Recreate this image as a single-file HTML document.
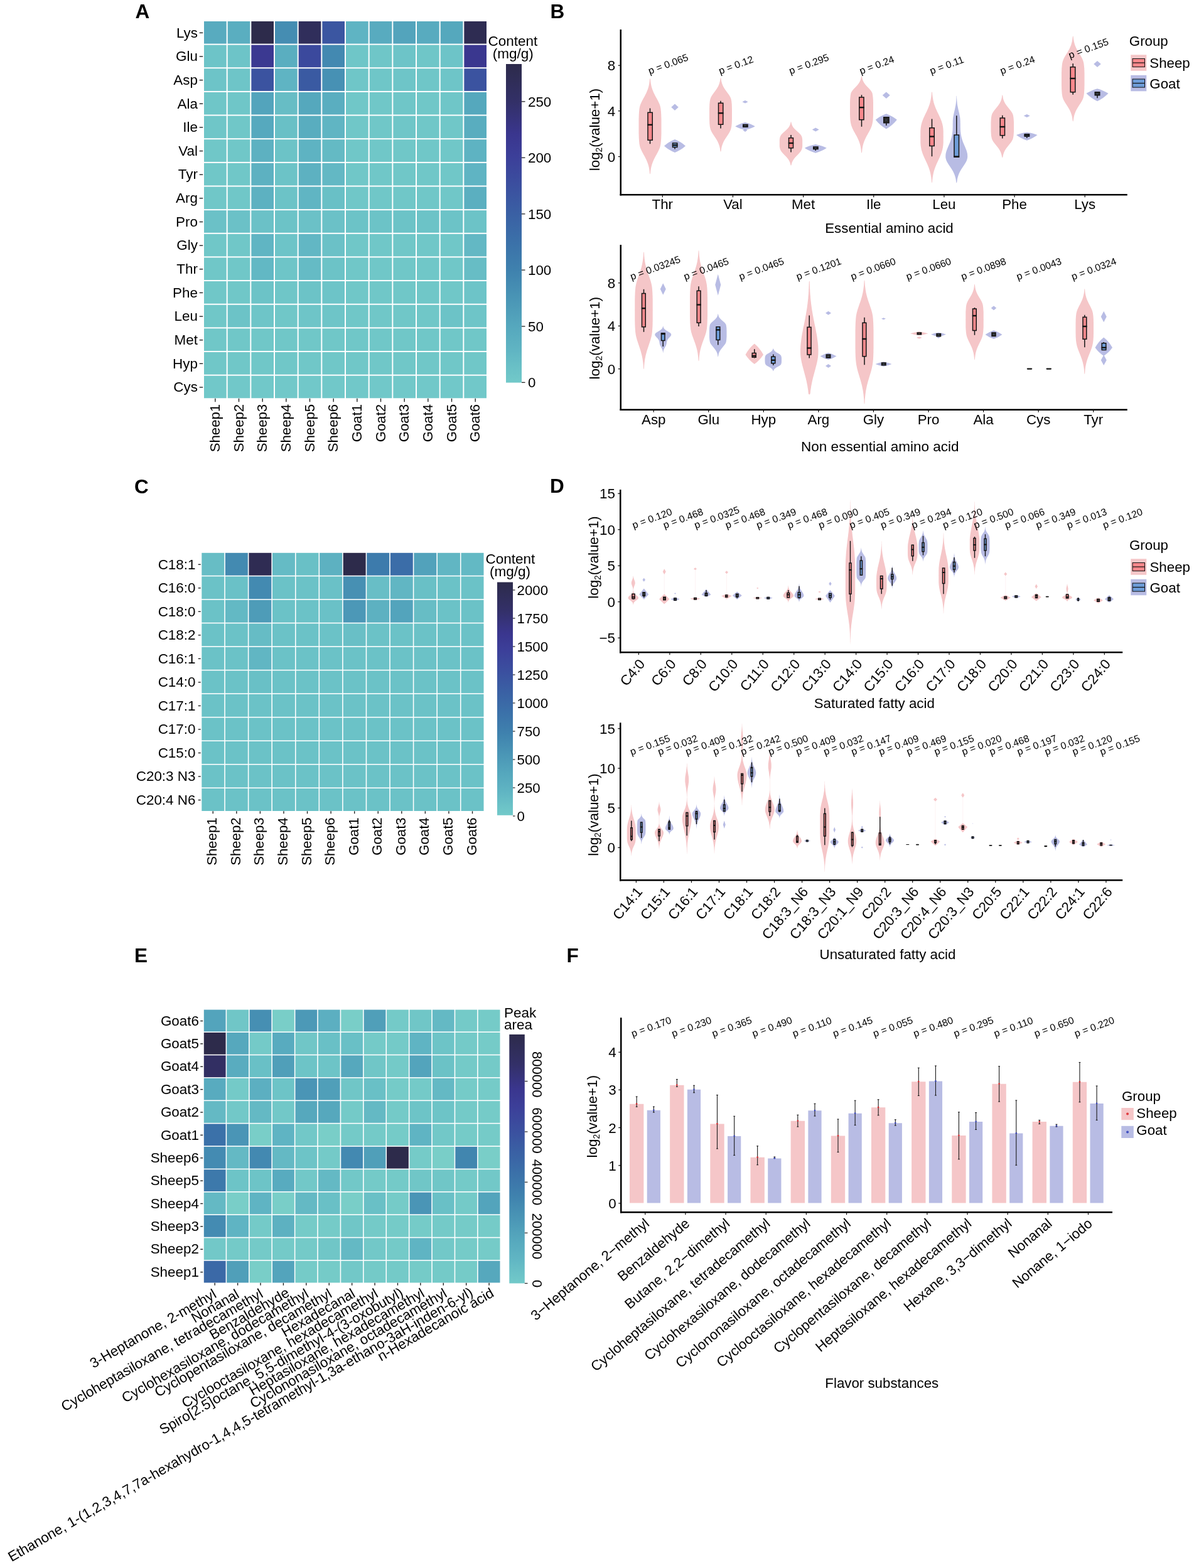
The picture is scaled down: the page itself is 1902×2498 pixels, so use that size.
<!DOCTYPE html>
<html lang="en"><head><meta charset="utf-8"><title>Figure</title>
<style>html,body{margin:0;padding:0;background:#fff;}body{width:1902px;height:2498px;overflow:hidden;}svg{display:block;}</style>
</head><body>
<svg width="1902" height="2498" viewBox="0 0 1902 2498" font-family='"Liberation Sans", sans-serif'>
<defs><linearGradient id="cm" x1="0" y1="1" x2="0" y2="0"><stop offset="0.000" stop-color="#72C9C9"/><stop offset="0.040" stop-color="#6BC2C7"/><stop offset="0.100" stop-color="#60B5C3"/><stop offset="0.180" stop-color="#55A7BD"/><stop offset="0.270" stop-color="#4994B5"/><stop offset="0.350" stop-color="#3F82AE"/><stop offset="0.440" stop-color="#3B71A9"/><stop offset="0.530" stop-color="#3A60A4"/><stop offset="0.620" stop-color="#3B4F9F"/><stop offset="0.710" stop-color="#3C3F99"/><stop offset="0.780" stop-color="#3A368E"/><stop offset="0.880" stop-color="#333068"/><stop offset="1.000" stop-color="#2D2B4B"/></linearGradient></defs>
<rect x="0" y="0" width="1902" height="2498" fill="#fff"/>
<text x="215.50" y="28.50" font-size="31.5" font-weight="bold" fill="#000">A</text>
<text x="876.50" y="28.50" font-size="31.5" font-weight="bold" fill="#000">B</text>
<text x="214.00" y="786.30" font-size="31.5" font-weight="bold" fill="#000">C</text>
<text x="876.00" y="785.30" font-size="31.5" font-weight="bold" fill="#000">D</text>
<text x="214.00" y="1532.50" font-size="31.5" font-weight="bold" fill="#000">E</text>
<text x="902.50" y="1532.50" font-size="31.5" font-weight="bold" fill="#000">F</text>
<rect x="325.00" y="34.00" width="35.67" height="35.64" fill="#58ABBF"/>
<rect x="362.67" y="34.00" width="35.67" height="35.64" fill="#5AAEC0"/>
<rect x="400.33" y="34.00" width="35.67" height="35.64" fill="#2D2B4B"/>
<rect x="438.00" y="34.00" width="35.67" height="35.64" fill="#458DB2"/>
<rect x="475.67" y="34.00" width="35.67" height="35.64" fill="#302E5B"/>
<rect x="513.33" y="34.00" width="35.67" height="35.64" fill="#3B56A1"/>
<rect x="551.00" y="34.00" width="35.67" height="35.64" fill="#5FB4C3"/>
<rect x="588.67" y="34.00" width="35.67" height="35.64" fill="#58ABBF"/>
<rect x="626.33" y="34.00" width="35.67" height="35.64" fill="#53A4BC"/>
<rect x="664.00" y="34.00" width="35.67" height="35.64" fill="#58ABBF"/>
<rect x="701.67" y="34.00" width="35.67" height="35.64" fill="#55A8BD"/>
<rect x="739.33" y="34.00" width="35.67" height="35.64" fill="#2E2C52"/>
<rect x="325.00" y="71.64" width="35.67" height="35.64" fill="#6DC4C8"/>
<rect x="362.67" y="71.64" width="35.67" height="35.64" fill="#6DC4C8"/>
<rect x="400.33" y="71.64" width="35.67" height="35.64" fill="#3B3991"/>
<rect x="438.00" y="71.64" width="35.67" height="35.64" fill="#5AAEC0"/>
<rect x="475.67" y="71.64" width="35.67" height="35.64" fill="#3B499D"/>
<rect x="513.33" y="71.64" width="35.67" height="35.64" fill="#4389B1"/>
<rect x="551.00" y="71.64" width="35.67" height="35.64" fill="#6FC6C8"/>
<rect x="588.67" y="71.64" width="35.67" height="35.64" fill="#6FC6C8"/>
<rect x="626.33" y="71.64" width="35.67" height="35.64" fill="#6DC4C8"/>
<rect x="664.00" y="71.64" width="35.67" height="35.64" fill="#6FC6C8"/>
<rect x="701.67" y="71.64" width="35.67" height="35.64" fill="#6DC4C8"/>
<rect x="739.33" y="71.64" width="35.67" height="35.64" fill="#3A378F"/>
<rect x="325.00" y="109.29" width="35.67" height="35.64" fill="#6DC4C8"/>
<rect x="362.67" y="109.29" width="35.67" height="35.64" fill="#6EC5C8"/>
<rect x="400.33" y="109.29" width="35.67" height="35.64" fill="#3B53A0"/>
<rect x="438.00" y="109.29" width="35.67" height="35.64" fill="#5FB4C3"/>
<rect x="475.67" y="109.29" width="35.67" height="35.64" fill="#3A5AA2"/>
<rect x="513.33" y="109.29" width="35.67" height="35.64" fill="#4791B4"/>
<rect x="551.00" y="109.29" width="35.67" height="35.64" fill="#6FC6C8"/>
<rect x="588.67" y="109.29" width="35.67" height="35.64" fill="#6FC6C8"/>
<rect x="626.33" y="109.29" width="35.67" height="35.64" fill="#6EC5C8"/>
<rect x="664.00" y="109.29" width="35.67" height="35.64" fill="#6FC6C8"/>
<rect x="701.67" y="109.29" width="35.67" height="35.64" fill="#6EC5C8"/>
<rect x="739.33" y="109.29" width="35.67" height="35.64" fill="#3B53A0"/>
<rect x="325.00" y="146.93" width="35.67" height="35.64" fill="#6FC6C8"/>
<rect x="362.67" y="146.93" width="35.67" height="35.64" fill="#6FC6C8"/>
<rect x="400.33" y="146.93" width="35.67" height="35.64" fill="#53A4BC"/>
<rect x="438.00" y="146.93" width="35.67" height="35.64" fill="#67BDC5"/>
<rect x="475.67" y="146.93" width="35.67" height="35.64" fill="#55A8BD"/>
<rect x="513.33" y="146.93" width="35.67" height="35.64" fill="#5AAEC0"/>
<rect x="551.00" y="146.93" width="35.67" height="35.64" fill="#70C7C8"/>
<rect x="588.67" y="146.93" width="35.67" height="35.64" fill="#70C7C8"/>
<rect x="626.33" y="146.93" width="35.67" height="35.64" fill="#6FC6C8"/>
<rect x="664.00" y="146.93" width="35.67" height="35.64" fill="#70C7C8"/>
<rect x="701.67" y="146.93" width="35.67" height="35.64" fill="#6FC6C8"/>
<rect x="739.33" y="146.93" width="35.67" height="35.64" fill="#55A8BD"/>
<rect x="325.00" y="184.57" width="35.67" height="35.64" fill="#6FC6C8"/>
<rect x="362.67" y="184.57" width="35.67" height="35.64" fill="#70C7C8"/>
<rect x="400.33" y="184.57" width="35.67" height="35.64" fill="#56A9BE"/>
<rect x="438.00" y="184.57" width="35.67" height="35.64" fill="#69C0C6"/>
<rect x="475.67" y="184.57" width="35.67" height="35.64" fill="#59ADBF"/>
<rect x="513.33" y="184.57" width="35.67" height="35.64" fill="#60B5C3"/>
<rect x="551.00" y="184.57" width="35.67" height="35.64" fill="#70C7C8"/>
<rect x="588.67" y="184.57" width="35.67" height="35.64" fill="#70C7C8"/>
<rect x="626.33" y="184.57" width="35.67" height="35.64" fill="#6FC6C8"/>
<rect x="664.00" y="184.57" width="35.67" height="35.64" fill="#70C7C8"/>
<rect x="701.67" y="184.57" width="35.67" height="35.64" fill="#70C7C8"/>
<rect x="739.33" y="184.57" width="35.67" height="35.64" fill="#59ADBF"/>
<rect x="325.00" y="222.22" width="35.67" height="35.64" fill="#70C7C8"/>
<rect x="362.67" y="222.22" width="35.67" height="35.64" fill="#70C7C8"/>
<rect x="400.33" y="222.22" width="35.67" height="35.64" fill="#5DB1C1"/>
<rect x="438.00" y="222.22" width="35.67" height="35.64" fill="#6CC3C7"/>
<rect x="475.67" y="222.22" width="35.67" height="35.64" fill="#5EB3C2"/>
<rect x="513.33" y="222.22" width="35.67" height="35.64" fill="#64BAC4"/>
<rect x="551.00" y="222.22" width="35.67" height="35.64" fill="#70C7C8"/>
<rect x="588.67" y="222.22" width="35.67" height="35.64" fill="#70C7C8"/>
<rect x="626.33" y="222.22" width="35.67" height="35.64" fill="#70C7C8"/>
<rect x="664.00" y="222.22" width="35.67" height="35.64" fill="#70C7C8"/>
<rect x="701.67" y="222.22" width="35.67" height="35.64" fill="#70C7C8"/>
<rect x="739.33" y="222.22" width="35.67" height="35.64" fill="#5EB3C2"/>
<rect x="325.00" y="259.86" width="35.67" height="35.64" fill="#70C7C8"/>
<rect x="362.67" y="259.86" width="35.67" height="35.64" fill="#70C7C8"/>
<rect x="400.33" y="259.86" width="35.67" height="35.64" fill="#5DB1C1"/>
<rect x="438.00" y="259.86" width="35.67" height="35.64" fill="#6CC3C7"/>
<rect x="475.67" y="259.86" width="35.67" height="35.64" fill="#5DB1C1"/>
<rect x="513.33" y="259.86" width="35.67" height="35.64" fill="#63B8C4"/>
<rect x="551.00" y="259.86" width="35.67" height="35.64" fill="#70C7C8"/>
<rect x="588.67" y="259.86" width="35.67" height="35.64" fill="#70C7C8"/>
<rect x="626.33" y="259.86" width="35.67" height="35.64" fill="#70C7C8"/>
<rect x="664.00" y="259.86" width="35.67" height="35.64" fill="#70C7C8"/>
<rect x="701.67" y="259.86" width="35.67" height="35.64" fill="#70C7C8"/>
<rect x="739.33" y="259.86" width="35.67" height="35.64" fill="#5FB4C3"/>
<rect x="325.00" y="297.51" width="35.67" height="35.64" fill="#70C7C8"/>
<rect x="362.67" y="297.51" width="35.67" height="35.64" fill="#70C7C8"/>
<rect x="400.33" y="297.51" width="35.67" height="35.64" fill="#5DB1C1"/>
<rect x="438.00" y="297.51" width="35.67" height="35.64" fill="#6CC3C7"/>
<rect x="475.67" y="297.51" width="35.67" height="35.64" fill="#60B5C3"/>
<rect x="513.33" y="297.51" width="35.67" height="35.64" fill="#69C0C6"/>
<rect x="551.00" y="297.51" width="35.67" height="35.64" fill="#70C7C8"/>
<rect x="588.67" y="297.51" width="35.67" height="35.64" fill="#70C7C8"/>
<rect x="626.33" y="297.51" width="35.67" height="35.64" fill="#70C7C8"/>
<rect x="664.00" y="297.51" width="35.67" height="35.64" fill="#70C7C8"/>
<rect x="701.67" y="297.51" width="35.67" height="35.64" fill="#70C7C8"/>
<rect x="739.33" y="297.51" width="35.67" height="35.64" fill="#5BAFC0"/>
<rect x="325.00" y="335.15" width="35.67" height="35.64" fill="#6BC1C7"/>
<rect x="362.67" y="335.15" width="35.67" height="35.64" fill="#6BC1C7"/>
<rect x="400.33" y="335.15" width="35.67" height="35.64" fill="#6BC1C7"/>
<rect x="438.00" y="335.15" width="35.67" height="35.64" fill="#6CC3C7"/>
<rect x="475.67" y="335.15" width="35.67" height="35.64" fill="#6BC1C7"/>
<rect x="513.33" y="335.15" width="35.67" height="35.64" fill="#6BC1C7"/>
<rect x="551.00" y="335.15" width="35.67" height="35.64" fill="#6CC3C7"/>
<rect x="588.67" y="335.15" width="35.67" height="35.64" fill="#6CC3C7"/>
<rect x="626.33" y="335.15" width="35.67" height="35.64" fill="#6CC3C7"/>
<rect x="664.00" y="335.15" width="35.67" height="35.64" fill="#6CC3C7"/>
<rect x="701.67" y="335.15" width="35.67" height="35.64" fill="#6CC3C7"/>
<rect x="739.33" y="335.15" width="35.67" height="35.64" fill="#6CC3C7"/>
<rect x="325.00" y="372.79" width="35.67" height="35.64" fill="#70C7C8"/>
<rect x="362.67" y="372.79" width="35.67" height="35.64" fill="#70C7C8"/>
<rect x="400.33" y="372.79" width="35.67" height="35.64" fill="#60B5C3"/>
<rect x="438.00" y="372.79" width="35.67" height="35.64" fill="#6DC4C8"/>
<rect x="475.67" y="372.79" width="35.67" height="35.64" fill="#62B7C4"/>
<rect x="513.33" y="372.79" width="35.67" height="35.64" fill="#6BC1C7"/>
<rect x="551.00" y="372.79" width="35.67" height="35.64" fill="#70C7C8"/>
<rect x="588.67" y="372.79" width="35.67" height="35.64" fill="#70C7C8"/>
<rect x="626.33" y="372.79" width="35.67" height="35.64" fill="#70C7C8"/>
<rect x="664.00" y="372.79" width="35.67" height="35.64" fill="#70C7C8"/>
<rect x="701.67" y="372.79" width="35.67" height="35.64" fill="#70C7C8"/>
<rect x="739.33" y="372.79" width="35.67" height="35.64" fill="#63B8C4"/>
<rect x="325.00" y="410.44" width="35.67" height="35.64" fill="#70C7C8"/>
<rect x="362.67" y="410.44" width="35.67" height="35.64" fill="#70C7C8"/>
<rect x="400.33" y="410.44" width="35.67" height="35.64" fill="#62B8C4"/>
<rect x="438.00" y="410.44" width="35.67" height="35.64" fill="#6EC5C8"/>
<rect x="475.67" y="410.44" width="35.67" height="35.64" fill="#65BBC5"/>
<rect x="513.33" y="410.44" width="35.67" height="35.64" fill="#6CC3C7"/>
<rect x="551.00" y="410.44" width="35.67" height="35.64" fill="#70C7C8"/>
<rect x="588.67" y="410.44" width="35.67" height="35.64" fill="#70C7C8"/>
<rect x="626.33" y="410.44" width="35.67" height="35.64" fill="#70C7C8"/>
<rect x="664.00" y="410.44" width="35.67" height="35.64" fill="#70C7C8"/>
<rect x="701.67" y="410.44" width="35.67" height="35.64" fill="#70C7C8"/>
<rect x="739.33" y="410.44" width="35.67" height="35.64" fill="#67BDC5"/>
<rect x="325.00" y="448.08" width="35.67" height="35.64" fill="#70C7C8"/>
<rect x="362.67" y="448.08" width="35.67" height="35.64" fill="#70C7C8"/>
<rect x="400.33" y="448.08" width="35.67" height="35.64" fill="#6CC3C7"/>
<rect x="438.00" y="448.08" width="35.67" height="35.64" fill="#6FC6C8"/>
<rect x="475.67" y="448.08" width="35.67" height="35.64" fill="#6CC3C7"/>
<rect x="513.33" y="448.08" width="35.67" height="35.64" fill="#6DC4C8"/>
<rect x="551.00" y="448.08" width="35.67" height="35.64" fill="#70C7C8"/>
<rect x="588.67" y="448.08" width="35.67" height="35.64" fill="#70C7C8"/>
<rect x="626.33" y="448.08" width="35.67" height="35.64" fill="#70C7C8"/>
<rect x="664.00" y="448.08" width="35.67" height="35.64" fill="#70C7C8"/>
<rect x="701.67" y="448.08" width="35.67" height="35.64" fill="#70C7C8"/>
<rect x="739.33" y="448.08" width="35.67" height="35.64" fill="#6DC4C8"/>
<rect x="325.00" y="485.72" width="35.67" height="35.64" fill="#70C7C8"/>
<rect x="362.67" y="485.72" width="35.67" height="35.64" fill="#6CC3C7"/>
<rect x="400.33" y="485.72" width="35.67" height="35.64" fill="#6EC5C8"/>
<rect x="438.00" y="485.72" width="35.67" height="35.64" fill="#70C7C8"/>
<rect x="475.67" y="485.72" width="35.67" height="35.64" fill="#6EC5C8"/>
<rect x="513.33" y="485.72" width="35.67" height="35.64" fill="#6EC5C8"/>
<rect x="551.00" y="485.72" width="35.67" height="35.64" fill="#70C7C8"/>
<rect x="588.67" y="485.72" width="35.67" height="35.64" fill="#70C7C8"/>
<rect x="626.33" y="485.72" width="35.67" height="35.64" fill="#70C7C8"/>
<rect x="664.00" y="485.72" width="35.67" height="35.64" fill="#70C7C8"/>
<rect x="701.67" y="485.72" width="35.67" height="35.64" fill="#6CC3C7"/>
<rect x="739.33" y="485.72" width="35.67" height="35.64" fill="#6EC5C8"/>
<rect x="325.00" y="523.37" width="35.67" height="35.64" fill="#70C7C8"/>
<rect x="362.67" y="523.37" width="35.67" height="35.64" fill="#70C7C8"/>
<rect x="400.33" y="523.37" width="35.67" height="35.64" fill="#70C7C8"/>
<rect x="438.00" y="523.37" width="35.67" height="35.64" fill="#70C7C8"/>
<rect x="475.67" y="523.37" width="35.67" height="35.64" fill="#70C7C8"/>
<rect x="513.33" y="523.37" width="35.67" height="35.64" fill="#70C7C8"/>
<rect x="551.00" y="523.37" width="35.67" height="35.64" fill="#70C7C8"/>
<rect x="588.67" y="523.37" width="35.67" height="35.64" fill="#70C7C8"/>
<rect x="626.33" y="523.37" width="35.67" height="35.64" fill="#70C7C8"/>
<rect x="664.00" y="523.37" width="35.67" height="35.64" fill="#70C7C8"/>
<rect x="701.67" y="523.37" width="35.67" height="35.64" fill="#70C7C8"/>
<rect x="739.33" y="523.37" width="35.67" height="35.64" fill="#70C7C8"/>
<rect x="325.00" y="561.01" width="35.67" height="35.64" fill="#70C7C8"/>
<rect x="362.67" y="561.01" width="35.67" height="35.64" fill="#70C7C8"/>
<rect x="400.33" y="561.01" width="35.67" height="35.64" fill="#70C7C8"/>
<rect x="438.00" y="561.01" width="35.67" height="35.64" fill="#70C7C8"/>
<rect x="475.67" y="561.01" width="35.67" height="35.64" fill="#70C7C8"/>
<rect x="513.33" y="561.01" width="35.67" height="35.64" fill="#70C7C8"/>
<rect x="551.00" y="561.01" width="35.67" height="35.64" fill="#70C7C8"/>
<rect x="588.67" y="561.01" width="35.67" height="35.64" fill="#70C7C8"/>
<rect x="626.33" y="561.01" width="35.67" height="35.64" fill="#70C7C8"/>
<rect x="664.00" y="561.01" width="35.67" height="35.64" fill="#70C7C8"/>
<rect x="701.67" y="561.01" width="35.67" height="35.64" fill="#70C7C8"/>
<rect x="739.33" y="561.01" width="35.67" height="35.64" fill="#70C7C8"/>
<rect x="325.00" y="598.66" width="35.67" height="35.64" fill="#71C8C9"/>
<rect x="362.67" y="598.66" width="35.67" height="35.64" fill="#71C8C9"/>
<rect x="400.33" y="598.66" width="35.67" height="35.64" fill="#71C8C9"/>
<rect x="438.00" y="598.66" width="35.67" height="35.64" fill="#71C8C9"/>
<rect x="475.67" y="598.66" width="35.67" height="35.64" fill="#71C8C9"/>
<rect x="513.33" y="598.66" width="35.67" height="35.64" fill="#71C8C9"/>
<rect x="551.00" y="598.66" width="35.67" height="35.64" fill="#71C8C9"/>
<rect x="588.67" y="598.66" width="35.67" height="35.64" fill="#71C8C9"/>
<rect x="626.33" y="598.66" width="35.67" height="35.64" fill="#71C8C9"/>
<rect x="664.00" y="598.66" width="35.67" height="35.64" fill="#71C8C9"/>
<rect x="701.67" y="598.66" width="35.67" height="35.64" fill="#71C8C9"/>
<rect x="739.33" y="598.66" width="35.67" height="35.64" fill="#71C8C9"/>
<line x1="317.70" y1="52.32" x2="323.20" y2="52.32" stroke="#222" stroke-width="1.4" stroke-linecap="butt"/>
<text x="315.00" y="59.57" font-size="22.45" text-anchor="end" fill="#000">Lys</text>
<line x1="317.70" y1="89.97" x2="323.20" y2="89.97" stroke="#222" stroke-width="1.4" stroke-linecap="butt"/>
<text x="315.00" y="97.21" font-size="22.45" text-anchor="end" fill="#000">Glu</text>
<line x1="317.70" y1="127.61" x2="323.20" y2="127.61" stroke="#222" stroke-width="1.4" stroke-linecap="butt"/>
<text x="315.00" y="134.85" font-size="22.45" text-anchor="end" fill="#000">Asp</text>
<line x1="317.70" y1="165.25" x2="323.20" y2="165.25" stroke="#222" stroke-width="1.4" stroke-linecap="butt"/>
<text x="315.00" y="172.50" font-size="22.45" text-anchor="end" fill="#000">Ala</text>
<line x1="317.70" y1="202.90" x2="323.20" y2="202.90" stroke="#222" stroke-width="1.4" stroke-linecap="butt"/>
<text x="315.00" y="210.14" font-size="22.45" text-anchor="end" fill="#000">Ile</text>
<line x1="317.70" y1="240.54" x2="323.20" y2="240.54" stroke="#222" stroke-width="1.4" stroke-linecap="butt"/>
<text x="315.00" y="247.79" font-size="22.45" text-anchor="end" fill="#000">Val</text>
<line x1="317.70" y1="278.18" x2="323.20" y2="278.18" stroke="#222" stroke-width="1.4" stroke-linecap="butt"/>
<text x="315.00" y="285.43" font-size="22.45" text-anchor="end" fill="#000">Tyr</text>
<line x1="317.70" y1="315.83" x2="323.20" y2="315.83" stroke="#222" stroke-width="1.4" stroke-linecap="butt"/>
<text x="315.00" y="323.07" font-size="22.45" text-anchor="end" fill="#000">Arg</text>
<line x1="317.70" y1="353.47" x2="323.20" y2="353.47" stroke="#222" stroke-width="1.4" stroke-linecap="butt"/>
<text x="315.00" y="360.72" font-size="22.45" text-anchor="end" fill="#000">Pro</text>
<line x1="317.70" y1="391.12" x2="323.20" y2="391.12" stroke="#222" stroke-width="1.4" stroke-linecap="butt"/>
<text x="315.00" y="398.36" font-size="22.45" text-anchor="end" fill="#000">Gly</text>
<line x1="317.70" y1="428.76" x2="323.20" y2="428.76" stroke="#222" stroke-width="1.4" stroke-linecap="butt"/>
<text x="315.00" y="436.00" font-size="22.45" text-anchor="end" fill="#000">Thr</text>
<line x1="317.70" y1="466.40" x2="323.20" y2="466.40" stroke="#222" stroke-width="1.4" stroke-linecap="butt"/>
<text x="315.00" y="473.65" font-size="22.45" text-anchor="end" fill="#000">Phe</text>
<line x1="317.70" y1="504.05" x2="323.20" y2="504.05" stroke="#222" stroke-width="1.4" stroke-linecap="butt"/>
<text x="315.00" y="511.29" font-size="22.45" text-anchor="end" fill="#000">Leu</text>
<line x1="317.70" y1="541.69" x2="323.20" y2="541.69" stroke="#222" stroke-width="1.4" stroke-linecap="butt"/>
<text x="315.00" y="548.94" font-size="22.45" text-anchor="end" fill="#000">Met</text>
<line x1="317.70" y1="579.33" x2="323.20" y2="579.33" stroke="#222" stroke-width="1.4" stroke-linecap="butt"/>
<text x="315.00" y="586.58" font-size="22.45" text-anchor="end" fill="#000">Hyp</text>
<line x1="317.70" y1="616.98" x2="323.20" y2="616.98" stroke="#222" stroke-width="1.4" stroke-linecap="butt"/>
<text x="315.00" y="624.22" font-size="22.45" text-anchor="end" fill="#000">Cys</text>
<line x1="342.83" y1="634.80" x2="342.83" y2="640.30" stroke="#222" stroke-width="1.4" stroke-linecap="butt"/>
<text transform="translate(349.89,643.80) rotate(-90)" font-size="22.2" text-anchor="end" fill="#000">Sheep1</text>
<line x1="380.50" y1="634.80" x2="380.50" y2="640.30" stroke="#222" stroke-width="1.4" stroke-linecap="butt"/>
<text transform="translate(387.56,643.80) rotate(-90)" font-size="22.2" text-anchor="end" fill="#000">Sheep2</text>
<line x1="418.17" y1="634.80" x2="418.17" y2="640.30" stroke="#222" stroke-width="1.4" stroke-linecap="butt"/>
<text transform="translate(425.23,643.80) rotate(-90)" font-size="22.2" text-anchor="end" fill="#000">Sheep3</text>
<line x1="455.83" y1="634.80" x2="455.83" y2="640.30" stroke="#222" stroke-width="1.4" stroke-linecap="butt"/>
<text transform="translate(462.89,643.80) rotate(-90)" font-size="22.2" text-anchor="end" fill="#000">Sheep4</text>
<line x1="493.50" y1="634.80" x2="493.50" y2="640.30" stroke="#222" stroke-width="1.4" stroke-linecap="butt"/>
<text transform="translate(500.56,643.80) rotate(-90)" font-size="22.2" text-anchor="end" fill="#000">Sheep5</text>
<line x1="531.17" y1="634.80" x2="531.17" y2="640.30" stroke="#222" stroke-width="1.4" stroke-linecap="butt"/>
<text transform="translate(538.23,643.80) rotate(-90)" font-size="22.2" text-anchor="end" fill="#000">Sheep6</text>
<line x1="568.83" y1="634.80" x2="568.83" y2="640.30" stroke="#222" stroke-width="1.4" stroke-linecap="butt"/>
<text transform="translate(575.89,643.80) rotate(-90)" font-size="22.2" text-anchor="end" fill="#000">Goat1</text>
<line x1="606.50" y1="634.80" x2="606.50" y2="640.30" stroke="#222" stroke-width="1.4" stroke-linecap="butt"/>
<text transform="translate(613.56,643.80) rotate(-90)" font-size="22.2" text-anchor="end" fill="#000">Goat2</text>
<line x1="644.17" y1="634.80" x2="644.17" y2="640.30" stroke="#222" stroke-width="1.4" stroke-linecap="butt"/>
<text transform="translate(651.23,643.80) rotate(-90)" font-size="22.2" text-anchor="end" fill="#000">Goat3</text>
<line x1="681.83" y1="634.80" x2="681.83" y2="640.30" stroke="#222" stroke-width="1.4" stroke-linecap="butt"/>
<text transform="translate(688.89,643.80) rotate(-90)" font-size="22.2" text-anchor="end" fill="#000">Goat4</text>
<line x1="719.50" y1="634.80" x2="719.50" y2="640.30" stroke="#222" stroke-width="1.4" stroke-linecap="butt"/>
<text transform="translate(726.56,643.80) rotate(-90)" font-size="22.2" text-anchor="end" fill="#000">Goat5</text>
<line x1="757.17" y1="634.80" x2="757.17" y2="640.30" stroke="#222" stroke-width="1.4" stroke-linecap="butt"/>
<text transform="translate(764.23,643.80) rotate(-90)" font-size="22.2" text-anchor="end" fill="#000">Goat6</text>
<rect x="806.00" y="102.00" width="25.00" height="507.60" fill="url(#cm)"/>
<line x1="831.00" y1="609.30" x2="836.50" y2="609.30" stroke="#222" stroke-width="1.3" stroke-linecap="butt"/>
<text x="841.00" y="617.10" font-size="22.3" fill="#000">0</text>
<line x1="831.00" y1="519.90" x2="836.50" y2="519.90" stroke="#222" stroke-width="1.3" stroke-linecap="butt"/>
<text x="841.00" y="527.70" font-size="22.3" fill="#000">50</text>
<line x1="831.00" y1="430.20" x2="836.50" y2="430.20" stroke="#222" stroke-width="1.3" stroke-linecap="butt"/>
<text x="841.00" y="438.00" font-size="22.3" fill="#000">100</text>
<line x1="831.00" y1="340.80" x2="836.50" y2="340.80" stroke="#222" stroke-width="1.3" stroke-linecap="butt"/>
<text x="841.00" y="348.60" font-size="22.3" fill="#000">150</text>
<line x1="831.00" y1="251.20" x2="836.50" y2="251.20" stroke="#222" stroke-width="1.3" stroke-linecap="butt"/>
<text x="841.00" y="259.00" font-size="22.3" fill="#000">200</text>
<line x1="831.00" y1="161.80" x2="836.50" y2="161.80" stroke="#222" stroke-width="1.3" stroke-linecap="butt"/>
<text x="841.00" y="169.60" font-size="22.3" fill="#000">250</text>
<text x="777.50" y="73.20" font-size="22.5" fill="#000">Content</text>
<text x="817.30" y="92.80" font-size="22.5" text-anchor="middle" fill="#000">(mg/g)</text>
<rect x="321.30" y="880.80" width="35.97" height="35.93" fill="#67BDC5"/>
<rect x="358.87" y="880.80" width="35.97" height="35.93" fill="#438AB1"/>
<rect x="396.43" y="880.80" width="35.97" height="35.93" fill="#2F2C53"/>
<rect x="434.00" y="880.80" width="35.97" height="35.93" fill="#65BBC5"/>
<rect x="471.57" y="880.80" width="35.97" height="35.93" fill="#69C0C6"/>
<rect x="509.13" y="880.80" width="35.97" height="35.93" fill="#5DB1C1"/>
<rect x="546.70" y="880.80" width="35.97" height="35.93" fill="#2D2B4B"/>
<rect x="584.27" y="880.80" width="35.97" height="35.93" fill="#3D7BAC"/>
<rect x="621.83" y="880.80" width="35.97" height="35.93" fill="#3B6DA8"/>
<rect x="659.40" y="880.80" width="35.97" height="35.93" fill="#52A2BB"/>
<rect x="696.97" y="880.80" width="35.97" height="35.93" fill="#61B6C3"/>
<rect x="734.53" y="880.80" width="35.97" height="35.93" fill="#63B9C4"/>
<rect x="321.30" y="918.33" width="35.97" height="35.93" fill="#6BC2C7"/>
<rect x="358.87" y="918.33" width="35.97" height="35.93" fill="#6AC1C7"/>
<rect x="396.43" y="918.33" width="35.97" height="35.93" fill="#438AB1"/>
<rect x="434.00" y="918.33" width="35.97" height="35.93" fill="#6BC2C7"/>
<rect x="471.57" y="918.33" width="35.97" height="35.93" fill="#6BC2C7"/>
<rect x="509.13" y="918.33" width="35.97" height="35.93" fill="#6AC1C7"/>
<rect x="546.70" y="918.33" width="35.97" height="35.93" fill="#4790B3"/>
<rect x="584.27" y="918.33" width="35.97" height="35.93" fill="#68BEC6"/>
<rect x="621.83" y="918.33" width="35.97" height="35.93" fill="#61B6C3"/>
<rect x="659.40" y="918.33" width="35.97" height="35.93" fill="#69C0C6"/>
<rect x="696.97" y="918.33" width="35.97" height="35.93" fill="#6BC2C7"/>
<rect x="734.53" y="918.33" width="35.97" height="35.93" fill="#6BC2C7"/>
<rect x="321.30" y="955.85" width="35.97" height="35.93" fill="#6BC2C7"/>
<rect x="358.87" y="955.85" width="35.97" height="35.93" fill="#63B9C4"/>
<rect x="396.43" y="955.85" width="35.97" height="35.93" fill="#4E9CB8"/>
<rect x="434.00" y="955.85" width="35.97" height="35.93" fill="#6BC2C7"/>
<rect x="471.57" y="955.85" width="35.97" height="35.93" fill="#6BC2C7"/>
<rect x="509.13" y="955.85" width="35.97" height="35.93" fill="#6AC1C7"/>
<rect x="546.70" y="955.85" width="35.97" height="35.93" fill="#4C98B7"/>
<rect x="584.27" y="955.85" width="35.97" height="35.93" fill="#5DB1C1"/>
<rect x="621.83" y="955.85" width="35.97" height="35.93" fill="#53A4BC"/>
<rect x="659.40" y="955.85" width="35.97" height="35.93" fill="#67BDC5"/>
<rect x="696.97" y="955.85" width="35.97" height="35.93" fill="#6BC2C7"/>
<rect x="734.53" y="955.85" width="35.97" height="35.93" fill="#6BC2C7"/>
<rect x="321.30" y="993.38" width="35.97" height="35.93" fill="#6BC2C7"/>
<rect x="358.87" y="993.38" width="35.97" height="35.93" fill="#6BC2C7"/>
<rect x="396.43" y="993.38" width="35.97" height="35.93" fill="#66BCC5"/>
<rect x="434.00" y="993.38" width="35.97" height="35.93" fill="#6BC2C7"/>
<rect x="471.57" y="993.38" width="35.97" height="35.93" fill="#6BC2C7"/>
<rect x="509.13" y="993.38" width="35.97" height="35.93" fill="#6BC2C7"/>
<rect x="546.70" y="993.38" width="35.97" height="35.93" fill="#69BFC6"/>
<rect x="584.27" y="993.38" width="35.97" height="35.93" fill="#6BC2C7"/>
<rect x="621.83" y="993.38" width="35.97" height="35.93" fill="#6BC2C7"/>
<rect x="659.40" y="993.38" width="35.97" height="35.93" fill="#6BC2C7"/>
<rect x="696.97" y="993.38" width="35.97" height="35.93" fill="#6BC2C7"/>
<rect x="734.53" y="993.38" width="35.97" height="35.93" fill="#6BC2C7"/>
<rect x="321.30" y="1030.91" width="35.97" height="35.93" fill="#6BC2C7"/>
<rect x="358.87" y="1030.91" width="35.97" height="35.93" fill="#6BC2C7"/>
<rect x="396.43" y="1030.91" width="35.97" height="35.93" fill="#61B6C3"/>
<rect x="434.00" y="1030.91" width="35.97" height="35.93" fill="#6BC2C7"/>
<rect x="471.57" y="1030.91" width="35.97" height="35.93" fill="#6BC2C7"/>
<rect x="509.13" y="1030.91" width="35.97" height="35.93" fill="#6BC2C7"/>
<rect x="546.70" y="1030.91" width="35.97" height="35.93" fill="#6BC2C7"/>
<rect x="584.27" y="1030.91" width="35.97" height="35.93" fill="#6BC2C7"/>
<rect x="621.83" y="1030.91" width="35.97" height="35.93" fill="#6BC2C7"/>
<rect x="659.40" y="1030.91" width="35.97" height="35.93" fill="#6BC2C7"/>
<rect x="696.97" y="1030.91" width="35.97" height="35.93" fill="#6BC2C7"/>
<rect x="734.53" y="1030.91" width="35.97" height="35.93" fill="#6BC2C7"/>
<rect x="321.30" y="1068.44" width="35.97" height="35.93" fill="#6BC2C7"/>
<rect x="358.87" y="1068.44" width="35.97" height="35.93" fill="#6BC2C7"/>
<rect x="396.43" y="1068.44" width="35.97" height="35.93" fill="#69C0C6"/>
<rect x="434.00" y="1068.44" width="35.97" height="35.93" fill="#6BC2C7"/>
<rect x="471.57" y="1068.44" width="35.97" height="35.93" fill="#6BC2C7"/>
<rect x="509.13" y="1068.44" width="35.97" height="35.93" fill="#6BC2C7"/>
<rect x="546.70" y="1068.44" width="35.97" height="35.93" fill="#6BC2C7"/>
<rect x="584.27" y="1068.44" width="35.97" height="35.93" fill="#6BC2C7"/>
<rect x="621.83" y="1068.44" width="35.97" height="35.93" fill="#6BC2C7"/>
<rect x="659.40" y="1068.44" width="35.97" height="35.93" fill="#6BC2C7"/>
<rect x="696.97" y="1068.44" width="35.97" height="35.93" fill="#6BC2C7"/>
<rect x="734.53" y="1068.44" width="35.97" height="35.93" fill="#6BC2C7"/>
<rect x="321.30" y="1105.96" width="35.97" height="35.93" fill="#6BC2C7"/>
<rect x="358.87" y="1105.96" width="35.97" height="35.93" fill="#6BC2C7"/>
<rect x="396.43" y="1105.96" width="35.97" height="35.93" fill="#6BC2C7"/>
<rect x="434.00" y="1105.96" width="35.97" height="35.93" fill="#6BC2C7"/>
<rect x="471.57" y="1105.96" width="35.97" height="35.93" fill="#6BC2C7"/>
<rect x="509.13" y="1105.96" width="35.97" height="35.93" fill="#6BC2C7"/>
<rect x="546.70" y="1105.96" width="35.97" height="35.93" fill="#6BC2C7"/>
<rect x="584.27" y="1105.96" width="35.97" height="35.93" fill="#6BC2C7"/>
<rect x="621.83" y="1105.96" width="35.97" height="35.93" fill="#6BC2C7"/>
<rect x="659.40" y="1105.96" width="35.97" height="35.93" fill="#6BC2C7"/>
<rect x="696.97" y="1105.96" width="35.97" height="35.93" fill="#6BC2C7"/>
<rect x="734.53" y="1105.96" width="35.97" height="35.93" fill="#6BC2C7"/>
<rect x="321.30" y="1143.49" width="35.97" height="35.93" fill="#6BC2C7"/>
<rect x="358.87" y="1143.49" width="35.97" height="35.93" fill="#6BC2C7"/>
<rect x="396.43" y="1143.49" width="35.97" height="35.93" fill="#6BC2C7"/>
<rect x="434.00" y="1143.49" width="35.97" height="35.93" fill="#6BC2C7"/>
<rect x="471.57" y="1143.49" width="35.97" height="35.93" fill="#6BC2C7"/>
<rect x="509.13" y="1143.49" width="35.97" height="35.93" fill="#6BC2C7"/>
<rect x="546.70" y="1143.49" width="35.97" height="35.93" fill="#6BC2C7"/>
<rect x="584.27" y="1143.49" width="35.97" height="35.93" fill="#6BC2C7"/>
<rect x="621.83" y="1143.49" width="35.97" height="35.93" fill="#6BC2C7"/>
<rect x="659.40" y="1143.49" width="35.97" height="35.93" fill="#6BC2C7"/>
<rect x="696.97" y="1143.49" width="35.97" height="35.93" fill="#6BC2C7"/>
<rect x="734.53" y="1143.49" width="35.97" height="35.93" fill="#6BC2C7"/>
<rect x="321.30" y="1181.02" width="35.97" height="35.93" fill="#6BC2C7"/>
<rect x="358.87" y="1181.02" width="35.97" height="35.93" fill="#6BC2C7"/>
<rect x="396.43" y="1181.02" width="35.97" height="35.93" fill="#6BC2C7"/>
<rect x="434.00" y="1181.02" width="35.97" height="35.93" fill="#6BC2C7"/>
<rect x="471.57" y="1181.02" width="35.97" height="35.93" fill="#6BC2C7"/>
<rect x="509.13" y="1181.02" width="35.97" height="35.93" fill="#6BC2C7"/>
<rect x="546.70" y="1181.02" width="35.97" height="35.93" fill="#6BC2C7"/>
<rect x="584.27" y="1181.02" width="35.97" height="35.93" fill="#6BC2C7"/>
<rect x="621.83" y="1181.02" width="35.97" height="35.93" fill="#6BC2C7"/>
<rect x="659.40" y="1181.02" width="35.97" height="35.93" fill="#6BC2C7"/>
<rect x="696.97" y="1181.02" width="35.97" height="35.93" fill="#6BC2C7"/>
<rect x="734.53" y="1181.02" width="35.97" height="35.93" fill="#6BC2C7"/>
<rect x="321.30" y="1218.55" width="35.97" height="35.93" fill="#6BC2C7"/>
<rect x="358.87" y="1218.55" width="35.97" height="35.93" fill="#6BC2C7"/>
<rect x="396.43" y="1218.55" width="35.97" height="35.93" fill="#6BC2C7"/>
<rect x="434.00" y="1218.55" width="35.97" height="35.93" fill="#6BC2C7"/>
<rect x="471.57" y="1218.55" width="35.97" height="35.93" fill="#6BC2C7"/>
<rect x="509.13" y="1218.55" width="35.97" height="35.93" fill="#6BC2C7"/>
<rect x="546.70" y="1218.55" width="35.97" height="35.93" fill="#6BC2C7"/>
<rect x="584.27" y="1218.55" width="35.97" height="35.93" fill="#6BC2C7"/>
<rect x="621.83" y="1218.55" width="35.97" height="35.93" fill="#6BC2C7"/>
<rect x="659.40" y="1218.55" width="35.97" height="35.93" fill="#6BC2C7"/>
<rect x="696.97" y="1218.55" width="35.97" height="35.93" fill="#6BC2C7"/>
<rect x="734.53" y="1218.55" width="35.97" height="35.93" fill="#6BC2C7"/>
<rect x="321.30" y="1256.07" width="35.97" height="35.93" fill="#6BC2C7"/>
<rect x="358.87" y="1256.07" width="35.97" height="35.93" fill="#6BC2C7"/>
<rect x="396.43" y="1256.07" width="35.97" height="35.93" fill="#6BC2C7"/>
<rect x="434.00" y="1256.07" width="35.97" height="35.93" fill="#6BC2C7"/>
<rect x="471.57" y="1256.07" width="35.97" height="35.93" fill="#6BC2C7"/>
<rect x="509.13" y="1256.07" width="35.97" height="35.93" fill="#6BC2C7"/>
<rect x="546.70" y="1256.07" width="35.97" height="35.93" fill="#6BC2C7"/>
<rect x="584.27" y="1256.07" width="35.97" height="35.93" fill="#6BC2C7"/>
<rect x="621.83" y="1256.07" width="35.97" height="35.93" fill="#6BC2C7"/>
<rect x="659.40" y="1256.07" width="35.97" height="35.93" fill="#6BC2C7"/>
<rect x="696.97" y="1256.07" width="35.97" height="35.93" fill="#6BC2C7"/>
<rect x="734.53" y="1256.07" width="35.97" height="35.93" fill="#6BC2C7"/>
<line x1="315.70" y1="899.26" x2="319.70" y2="899.26" stroke="#222" stroke-width="1.4" stroke-linecap="butt"/>
<text x="311.50" y="906.51" font-size="22.45" text-anchor="end" fill="#000">C18:1</text>
<line x1="315.70" y1="936.79" x2="319.70" y2="936.79" stroke="#222" stroke-width="1.4" stroke-linecap="butt"/>
<text x="311.50" y="944.04" font-size="22.45" text-anchor="end" fill="#000">C16:0</text>
<line x1="315.70" y1="974.32" x2="319.70" y2="974.32" stroke="#222" stroke-width="1.4" stroke-linecap="butt"/>
<text x="311.50" y="981.56" font-size="22.45" text-anchor="end" fill="#000">C18:0</text>
<line x1="315.70" y1="1011.85" x2="319.70" y2="1011.85" stroke="#222" stroke-width="1.4" stroke-linecap="butt"/>
<text x="311.50" y="1019.09" font-size="22.45" text-anchor="end" fill="#000">C18:2</text>
<line x1="315.70" y1="1049.37" x2="319.70" y2="1049.37" stroke="#222" stroke-width="1.4" stroke-linecap="butt"/>
<text x="311.50" y="1056.62" font-size="22.45" text-anchor="end" fill="#000">C16:1</text>
<line x1="315.70" y1="1086.90" x2="319.70" y2="1086.90" stroke="#222" stroke-width="1.4" stroke-linecap="butt"/>
<text x="311.50" y="1094.15" font-size="22.45" text-anchor="end" fill="#000">C14:0</text>
<line x1="315.70" y1="1124.43" x2="319.70" y2="1124.43" stroke="#222" stroke-width="1.4" stroke-linecap="butt"/>
<text x="311.50" y="1131.67" font-size="22.45" text-anchor="end" fill="#000">C17:1</text>
<line x1="315.70" y1="1161.95" x2="319.70" y2="1161.95" stroke="#222" stroke-width="1.4" stroke-linecap="butt"/>
<text x="311.50" y="1169.20" font-size="22.45" text-anchor="end" fill="#000">C17:0</text>
<line x1="315.70" y1="1199.48" x2="319.70" y2="1199.48" stroke="#222" stroke-width="1.4" stroke-linecap="butt"/>
<text x="311.50" y="1206.73" font-size="22.45" text-anchor="end" fill="#000">C15:0</text>
<line x1="315.70" y1="1237.01" x2="319.70" y2="1237.01" stroke="#222" stroke-width="1.4" stroke-linecap="butt"/>
<text x="311.50" y="1244.25" font-size="22.45" text-anchor="end" fill="#000">C20:3 N3</text>
<line x1="315.70" y1="1274.54" x2="319.70" y2="1274.54" stroke="#222" stroke-width="1.4" stroke-linecap="butt"/>
<text x="311.50" y="1281.78" font-size="22.45" text-anchor="end" fill="#000">C20:4 N6</text>
<line x1="339.28" y1="1292.30" x2="339.28" y2="1296.30" stroke="#222" stroke-width="1.4" stroke-linecap="butt"/>
<text transform="translate(345.34,1302.30) rotate(-90)" font-size="22.2" text-anchor="end" fill="#000">Sheep1</text>
<line x1="376.85" y1="1292.30" x2="376.85" y2="1296.30" stroke="#222" stroke-width="1.4" stroke-linecap="butt"/>
<text transform="translate(382.91,1302.30) rotate(-90)" font-size="22.2" text-anchor="end" fill="#000">Sheep2</text>
<line x1="414.42" y1="1292.30" x2="414.42" y2="1296.30" stroke="#222" stroke-width="1.4" stroke-linecap="butt"/>
<text transform="translate(420.48,1302.30) rotate(-90)" font-size="22.2" text-anchor="end" fill="#000">Sheep3</text>
<line x1="451.98" y1="1292.30" x2="451.98" y2="1296.30" stroke="#222" stroke-width="1.4" stroke-linecap="butt"/>
<text transform="translate(458.04,1302.30) rotate(-90)" font-size="22.2" text-anchor="end" fill="#000">Sheep4</text>
<line x1="489.55" y1="1292.30" x2="489.55" y2="1296.30" stroke="#222" stroke-width="1.4" stroke-linecap="butt"/>
<text transform="translate(495.61,1302.30) rotate(-90)" font-size="22.2" text-anchor="end" fill="#000">Sheep5</text>
<line x1="527.12" y1="1292.30" x2="527.12" y2="1296.30" stroke="#222" stroke-width="1.4" stroke-linecap="butt"/>
<text transform="translate(533.18,1302.30) rotate(-90)" font-size="22.2" text-anchor="end" fill="#000">Sheep6</text>
<line x1="564.68" y1="1292.30" x2="564.68" y2="1296.30" stroke="#222" stroke-width="1.4" stroke-linecap="butt"/>
<text transform="translate(570.74,1302.30) rotate(-90)" font-size="22.2" text-anchor="end" fill="#000">Goat1</text>
<line x1="602.25" y1="1292.30" x2="602.25" y2="1296.30" stroke="#222" stroke-width="1.4" stroke-linecap="butt"/>
<text transform="translate(608.31,1302.30) rotate(-90)" font-size="22.2" text-anchor="end" fill="#000">Goat2</text>
<line x1="639.82" y1="1292.30" x2="639.82" y2="1296.30" stroke="#222" stroke-width="1.4" stroke-linecap="butt"/>
<text transform="translate(645.88,1302.30) rotate(-90)" font-size="22.2" text-anchor="end" fill="#000">Goat3</text>
<line x1="677.38" y1="1292.30" x2="677.38" y2="1296.30" stroke="#222" stroke-width="1.4" stroke-linecap="butt"/>
<text transform="translate(683.44,1302.30) rotate(-90)" font-size="22.2" text-anchor="end" fill="#000">Goat4</text>
<line x1="714.95" y1="1292.30" x2="714.95" y2="1296.30" stroke="#222" stroke-width="1.4" stroke-linecap="butt"/>
<text transform="translate(721.01,1302.30) rotate(-90)" font-size="22.2" text-anchor="end" fill="#000">Goat5</text>
<line x1="752.52" y1="1292.30" x2="752.52" y2="1296.30" stroke="#222" stroke-width="1.4" stroke-linecap="butt"/>
<text transform="translate(758.58,1302.30) rotate(-90)" font-size="22.2" text-anchor="end" fill="#000">Goat6</text>
<rect x="792.00" y="927.50" width="25.00" height="371.30" fill="url(#cm)"/>
<line x1="817.00" y1="1300.00" x2="820.50" y2="1300.00" stroke="#222" stroke-width="1.2" stroke-linecap="butt"/>
<text x="823.50" y="1307.80" font-size="22.3" fill="#000">0</text>
<line x1="817.00" y1="1255.00" x2="820.50" y2="1255.00" stroke="#222" stroke-width="1.2" stroke-linecap="butt"/>
<text x="823.50" y="1262.80" font-size="22.3" fill="#000">250</text>
<line x1="817.00" y1="1210.00" x2="820.50" y2="1210.00" stroke="#222" stroke-width="1.2" stroke-linecap="butt"/>
<text x="823.50" y="1217.80" font-size="22.3" fill="#000">500</text>
<line x1="817.00" y1="1165.00" x2="820.50" y2="1165.00" stroke="#222" stroke-width="1.2" stroke-linecap="butt"/>
<text x="823.50" y="1172.80" font-size="22.3" fill="#000">750</text>
<line x1="817.00" y1="1120.00" x2="820.50" y2="1120.00" stroke="#222" stroke-width="1.2" stroke-linecap="butt"/>
<text x="823.50" y="1127.80" font-size="22.3" fill="#000">1000</text>
<line x1="817.00" y1="1075.00" x2="820.50" y2="1075.00" stroke="#222" stroke-width="1.2" stroke-linecap="butt"/>
<text x="823.50" y="1082.80" font-size="22.3" fill="#000">1250</text>
<line x1="817.00" y1="1030.00" x2="820.50" y2="1030.00" stroke="#222" stroke-width="1.2" stroke-linecap="butt"/>
<text x="823.50" y="1037.80" font-size="22.3" fill="#000">1500</text>
<line x1="817.00" y1="985.00" x2="820.50" y2="985.00" stroke="#222" stroke-width="1.2" stroke-linecap="butt"/>
<text x="823.50" y="992.80" font-size="22.3" fill="#000">1750</text>
<line x1="817.00" y1="940.00" x2="820.50" y2="940.00" stroke="#222" stroke-width="1.2" stroke-linecap="butt"/>
<text x="823.50" y="947.80" font-size="22.3" fill="#000">2000</text>
<text x="773.50" y="898.00" font-size="22.5" fill="#000">Content</text>
<text x="812.50" y="917.60" font-size="22.5" text-anchor="middle" fill="#000">(mg/g)</text>
<rect x="324.80" y="1608.60" width="34.81" height="34.77" fill="#53A4BC"/>
<rect x="361.21" y="1608.60" width="34.81" height="34.77" fill="#70C6C7"/>
<rect x="397.62" y="1608.60" width="34.81" height="34.77" fill="#468FB3"/>
<rect x="434.02" y="1608.60" width="34.81" height="34.77" fill="#79CEC8"/>
<rect x="470.43" y="1608.60" width="34.81" height="34.77" fill="#4C99B7"/>
<rect x="506.84" y="1608.60" width="34.81" height="34.77" fill="#5CAFC1"/>
<rect x="543.25" y="1608.60" width="34.81" height="34.77" fill="#79CEC8"/>
<rect x="579.65" y="1608.60" width="34.81" height="34.77" fill="#509FB9"/>
<rect x="616.06" y="1608.60" width="34.81" height="34.77" fill="#74CAC8"/>
<rect x="652.47" y="1608.60" width="34.81" height="34.77" fill="#70C6C7"/>
<rect x="688.88" y="1608.60" width="34.81" height="34.77" fill="#64B9C4"/>
<rect x="725.28" y="1608.60" width="34.81" height="34.77" fill="#74CAC8"/>
<rect x="761.69" y="1608.60" width="34.81" height="34.77" fill="#75CBC8"/>
<rect x="324.80" y="1644.97" width="34.81" height="34.77" fill="#2D2B4B"/>
<rect x="361.21" y="1644.97" width="34.81" height="34.77" fill="#56A8BD"/>
<rect x="397.62" y="1644.97" width="34.81" height="34.77" fill="#74CAC8"/>
<rect x="434.02" y="1644.97" width="34.81" height="34.77" fill="#58ABBF"/>
<rect x="470.43" y="1644.97" width="34.81" height="34.77" fill="#70C6C7"/>
<rect x="506.84" y="1644.97" width="34.81" height="34.77" fill="#69C0C6"/>
<rect x="543.25" y="1644.97" width="34.81" height="34.77" fill="#69C0C6"/>
<rect x="579.65" y="1644.97" width="34.81" height="34.77" fill="#74CAC8"/>
<rect x="616.06" y="1644.97" width="34.81" height="34.77" fill="#74CAC8"/>
<rect x="652.47" y="1644.97" width="34.81" height="34.77" fill="#5FB4C3"/>
<rect x="688.88" y="1644.97" width="34.81" height="34.77" fill="#6DC4C7"/>
<rect x="725.28" y="1644.97" width="34.81" height="34.77" fill="#74CAC8"/>
<rect x="761.69" y="1644.97" width="34.81" height="34.77" fill="#75CBC8"/>
<rect x="324.80" y="1681.35" width="34.81" height="34.77" fill="#322F63"/>
<rect x="361.21" y="1681.35" width="34.81" height="34.77" fill="#59ACBF"/>
<rect x="397.62" y="1681.35" width="34.81" height="34.77" fill="#69C0C6"/>
<rect x="434.02" y="1681.35" width="34.81" height="34.77" fill="#509FB9"/>
<rect x="470.43" y="1681.35" width="34.81" height="34.77" fill="#6DC4C7"/>
<rect x="506.84" y="1681.35" width="34.81" height="34.77" fill="#6DC4C7"/>
<rect x="543.25" y="1681.35" width="34.81" height="34.77" fill="#56A8BD"/>
<rect x="579.65" y="1681.35" width="34.81" height="34.77" fill="#70C6C7"/>
<rect x="616.06" y="1681.35" width="34.81" height="34.77" fill="#74CAC8"/>
<rect x="652.47" y="1681.35" width="34.81" height="34.77" fill="#53A4BC"/>
<rect x="688.88" y="1681.35" width="34.81" height="34.77" fill="#6BC2C6"/>
<rect x="725.28" y="1681.35" width="34.81" height="34.77" fill="#74CAC8"/>
<rect x="761.69" y="1681.35" width="34.81" height="34.77" fill="#74CAC8"/>
<rect x="324.80" y="1717.72" width="34.81" height="34.77" fill="#58ABBF"/>
<rect x="361.21" y="1717.72" width="34.81" height="34.77" fill="#74CAC8"/>
<rect x="397.62" y="1717.72" width="34.81" height="34.77" fill="#5CAFC1"/>
<rect x="434.02" y="1717.72" width="34.81" height="34.77" fill="#6DC4C7"/>
<rect x="470.43" y="1717.72" width="34.81" height="34.77" fill="#4A95B6"/>
<rect x="506.84" y="1717.72" width="34.81" height="34.77" fill="#509FB9"/>
<rect x="543.25" y="1717.72" width="34.81" height="34.77" fill="#70C6C7"/>
<rect x="579.65" y="1717.72" width="34.81" height="34.77" fill="#69C0C6"/>
<rect x="616.06" y="1717.72" width="34.81" height="34.77" fill="#75CBC8"/>
<rect x="652.47" y="1717.72" width="34.81" height="34.77" fill="#74CAC8"/>
<rect x="688.88" y="1717.72" width="34.81" height="34.77" fill="#64B9C4"/>
<rect x="725.28" y="1717.72" width="34.81" height="34.77" fill="#75CBC8"/>
<rect x="761.69" y="1717.72" width="34.81" height="34.77" fill="#75CBC8"/>
<rect x="324.80" y="1754.10" width="34.81" height="34.77" fill="#64B9C4"/>
<rect x="361.21" y="1754.10" width="34.81" height="34.77" fill="#72C8C8"/>
<rect x="397.62" y="1754.10" width="34.81" height="34.77" fill="#64B9C4"/>
<rect x="434.02" y="1754.10" width="34.81" height="34.77" fill="#72C8C8"/>
<rect x="470.43" y="1754.10" width="34.81" height="34.77" fill="#56A8BD"/>
<rect x="506.84" y="1754.10" width="34.81" height="34.77" fill="#56A8BD"/>
<rect x="543.25" y="1754.10" width="34.81" height="34.77" fill="#74CAC8"/>
<rect x="579.65" y="1754.10" width="34.81" height="34.77" fill="#64B9C4"/>
<rect x="616.06" y="1754.10" width="34.81" height="34.77" fill="#74CAC8"/>
<rect x="652.47" y="1754.10" width="34.81" height="34.77" fill="#6DC4C7"/>
<rect x="688.88" y="1754.10" width="34.81" height="34.77" fill="#6DC4C7"/>
<rect x="725.28" y="1754.10" width="34.81" height="34.77" fill="#74CAC8"/>
<rect x="761.69" y="1754.10" width="34.81" height="34.77" fill="#75CBC8"/>
<rect x="324.80" y="1790.47" width="34.81" height="34.77" fill="#3B71A9"/>
<rect x="361.21" y="1790.47" width="34.81" height="34.77" fill="#4A95B6"/>
<rect x="397.62" y="1790.47" width="34.81" height="34.77" fill="#79CEC8"/>
<rect x="434.02" y="1790.47" width="34.81" height="34.77" fill="#5FB4C3"/>
<rect x="470.43" y="1790.47" width="34.81" height="34.77" fill="#72C8C8"/>
<rect x="506.84" y="1790.47" width="34.81" height="34.77" fill="#79CEC8"/>
<rect x="543.25" y="1790.47" width="34.81" height="34.77" fill="#74CAC8"/>
<rect x="579.65" y="1790.47" width="34.81" height="34.77" fill="#74CAC8"/>
<rect x="616.06" y="1790.47" width="34.81" height="34.77" fill="#75CBC8"/>
<rect x="652.47" y="1790.47" width="34.81" height="34.77" fill="#5FB4C3"/>
<rect x="688.88" y="1790.47" width="34.81" height="34.77" fill="#72C8C8"/>
<rect x="725.28" y="1790.47" width="34.81" height="34.77" fill="#75CBC8"/>
<rect x="761.69" y="1790.47" width="34.81" height="34.77" fill="#75CBC8"/>
<rect x="324.80" y="1826.85" width="34.81" height="34.77" fill="#448BB2"/>
<rect x="361.21" y="1826.85" width="34.81" height="34.77" fill="#64B9C4"/>
<rect x="397.62" y="1826.85" width="34.81" height="34.77" fill="#4389B1"/>
<rect x="434.02" y="1826.85" width="34.81" height="34.77" fill="#64B9C4"/>
<rect x="470.43" y="1826.85" width="34.81" height="34.77" fill="#6DC4C7"/>
<rect x="506.84" y="1826.85" width="34.81" height="34.77" fill="#74CAC8"/>
<rect x="543.25" y="1826.85" width="34.81" height="34.77" fill="#4389B1"/>
<rect x="579.65" y="1826.85" width="34.81" height="34.77" fill="#509FB9"/>
<rect x="616.06" y="1826.85" width="34.81" height="34.77" fill="#2D2B4B"/>
<rect x="652.47" y="1826.85" width="34.81" height="34.77" fill="#75CBC8"/>
<rect x="688.88" y="1826.85" width="34.81" height="34.77" fill="#79CEC8"/>
<rect x="725.28" y="1826.85" width="34.81" height="34.77" fill="#4186AF"/>
<rect x="761.69" y="1826.85" width="34.81" height="34.77" fill="#79CEC8"/>
<rect x="324.80" y="1863.22" width="34.81" height="34.77" fill="#3D79AB"/>
<rect x="361.21" y="1863.22" width="34.81" height="34.77" fill="#6DC4C7"/>
<rect x="397.62" y="1863.22" width="34.81" height="34.77" fill="#6DC4C7"/>
<rect x="434.02" y="1863.22" width="34.81" height="34.77" fill="#58ABBF"/>
<rect x="470.43" y="1863.22" width="34.81" height="34.77" fill="#72C8C8"/>
<rect x="506.84" y="1863.22" width="34.81" height="34.77" fill="#64B9C4"/>
<rect x="543.25" y="1863.22" width="34.81" height="34.77" fill="#72C8C8"/>
<rect x="579.65" y="1863.22" width="34.81" height="34.77" fill="#74CAC8"/>
<rect x="616.06" y="1863.22" width="34.81" height="34.77" fill="#74CAC8"/>
<rect x="652.47" y="1863.22" width="34.81" height="34.77" fill="#70C6C7"/>
<rect x="688.88" y="1863.22" width="34.81" height="34.77" fill="#70C6C7"/>
<rect x="725.28" y="1863.22" width="34.81" height="34.77" fill="#74CAC8"/>
<rect x="761.69" y="1863.22" width="34.81" height="34.77" fill="#72C8C8"/>
<rect x="324.80" y="1899.60" width="34.81" height="34.77" fill="#64B9C4"/>
<rect x="361.21" y="1899.60" width="34.81" height="34.77" fill="#79CEC8"/>
<rect x="397.62" y="1899.60" width="34.81" height="34.77" fill="#5FB4C3"/>
<rect x="434.02" y="1899.60" width="34.81" height="34.77" fill="#79CEC8"/>
<rect x="470.43" y="1899.60" width="34.81" height="34.77" fill="#64B9C4"/>
<rect x="506.84" y="1899.60" width="34.81" height="34.77" fill="#69C0C6"/>
<rect x="543.25" y="1899.60" width="34.81" height="34.77" fill="#79CEC8"/>
<rect x="579.65" y="1899.60" width="34.81" height="34.77" fill="#69C0C6"/>
<rect x="616.06" y="1899.60" width="34.81" height="34.77" fill="#75CBC8"/>
<rect x="652.47" y="1899.60" width="34.81" height="34.77" fill="#4A95B6"/>
<rect x="688.88" y="1899.60" width="34.81" height="34.77" fill="#69C0C6"/>
<rect x="725.28" y="1899.60" width="34.81" height="34.77" fill="#74CAC8"/>
<rect x="761.69" y="1899.60" width="34.81" height="34.77" fill="#53A4BC"/>
<rect x="324.80" y="1935.97" width="34.81" height="34.77" fill="#448BB2"/>
<rect x="361.21" y="1935.97" width="34.81" height="34.77" fill="#5FB4C3"/>
<rect x="397.62" y="1935.97" width="34.81" height="34.77" fill="#74CAC8"/>
<rect x="434.02" y="1935.97" width="34.81" height="34.77" fill="#5DB1C1"/>
<rect x="470.43" y="1935.97" width="34.81" height="34.77" fill="#75CBC8"/>
<rect x="506.84" y="1935.97" width="34.81" height="34.77" fill="#75CBC8"/>
<rect x="543.25" y="1935.97" width="34.81" height="34.77" fill="#70C6C7"/>
<rect x="579.65" y="1935.97" width="34.81" height="34.77" fill="#74CAC8"/>
<rect x="616.06" y="1935.97" width="34.81" height="34.77" fill="#75CBC8"/>
<rect x="652.47" y="1935.97" width="34.81" height="34.77" fill="#75CBC8"/>
<rect x="688.88" y="1935.97" width="34.81" height="34.77" fill="#74CAC8"/>
<rect x="725.28" y="1935.97" width="34.81" height="34.77" fill="#75CBC8"/>
<rect x="761.69" y="1935.97" width="34.81" height="34.77" fill="#75CBC8"/>
<rect x="324.80" y="1972.35" width="34.81" height="34.77" fill="#72C8C8"/>
<rect x="361.21" y="1972.35" width="34.81" height="34.77" fill="#74CAC8"/>
<rect x="397.62" y="1972.35" width="34.81" height="34.77" fill="#74CAC8"/>
<rect x="434.02" y="1972.35" width="34.81" height="34.77" fill="#74CAC8"/>
<rect x="470.43" y="1972.35" width="34.81" height="34.77" fill="#74CAC8"/>
<rect x="506.84" y="1972.35" width="34.81" height="34.77" fill="#70C6C7"/>
<rect x="543.25" y="1972.35" width="34.81" height="34.77" fill="#64B9C4"/>
<rect x="579.65" y="1972.35" width="34.81" height="34.77" fill="#72C8C8"/>
<rect x="616.06" y="1972.35" width="34.81" height="34.77" fill="#74CAC8"/>
<rect x="652.47" y="1972.35" width="34.81" height="34.77" fill="#5FB4C3"/>
<rect x="688.88" y="1972.35" width="34.81" height="34.77" fill="#72C8C8"/>
<rect x="725.28" y="1972.35" width="34.81" height="34.77" fill="#75CBC8"/>
<rect x="761.69" y="1972.35" width="34.81" height="34.77" fill="#75CBC8"/>
<rect x="324.80" y="2008.72" width="34.81" height="34.77" fill="#3B69A7"/>
<rect x="361.21" y="2008.72" width="34.81" height="34.77" fill="#509FB9"/>
<rect x="397.62" y="2008.72" width="34.81" height="34.77" fill="#79CEC8"/>
<rect x="434.02" y="2008.72" width="34.81" height="34.77" fill="#53A4BC"/>
<rect x="470.43" y="2008.72" width="34.81" height="34.77" fill="#75CBC8"/>
<rect x="506.84" y="2008.72" width="34.81" height="34.77" fill="#75CBC8"/>
<rect x="543.25" y="2008.72" width="34.81" height="34.77" fill="#72C8C8"/>
<rect x="579.65" y="2008.72" width="34.81" height="34.77" fill="#74CAC8"/>
<rect x="616.06" y="2008.72" width="34.81" height="34.77" fill="#74CAC8"/>
<rect x="652.47" y="2008.72" width="34.81" height="34.77" fill="#75CBC8"/>
<rect x="688.88" y="2008.72" width="34.81" height="34.77" fill="#74CAC8"/>
<rect x="725.28" y="2008.72" width="34.81" height="34.77" fill="#75CBC8"/>
<rect x="761.69" y="2008.72" width="34.81" height="34.77" fill="#56A8BD"/>
<line x1="319.20" y1="1626.49" x2="323.20" y2="1626.49" stroke="#222" stroke-width="1.4" stroke-linecap="butt"/>
<text x="317.00" y="1633.73" font-size="22.45" text-anchor="end" fill="#000">Goat6</text>
<line x1="319.20" y1="1662.86" x2="323.20" y2="1662.86" stroke="#222" stroke-width="1.4" stroke-linecap="butt"/>
<text x="317.00" y="1670.11" font-size="22.45" text-anchor="end" fill="#000">Goat5</text>
<line x1="319.20" y1="1699.24" x2="323.20" y2="1699.24" stroke="#222" stroke-width="1.4" stroke-linecap="butt"/>
<text x="317.00" y="1706.48" font-size="22.45" text-anchor="end" fill="#000">Goat4</text>
<line x1="319.20" y1="1735.61" x2="323.20" y2="1735.61" stroke="#222" stroke-width="1.4" stroke-linecap="butt"/>
<text x="317.00" y="1742.86" font-size="22.45" text-anchor="end" fill="#000">Goat3</text>
<line x1="319.20" y1="1771.99" x2="323.20" y2="1771.99" stroke="#222" stroke-width="1.4" stroke-linecap="butt"/>
<text x="317.00" y="1779.23" font-size="22.45" text-anchor="end" fill="#000">Goat2</text>
<line x1="319.20" y1="1808.36" x2="323.20" y2="1808.36" stroke="#222" stroke-width="1.4" stroke-linecap="butt"/>
<text x="317.00" y="1815.61" font-size="22.45" text-anchor="end" fill="#000">Goat1</text>
<line x1="319.20" y1="1844.74" x2="323.20" y2="1844.74" stroke="#222" stroke-width="1.4" stroke-linecap="butt"/>
<text x="317.00" y="1851.98" font-size="22.45" text-anchor="end" fill="#000">Sheep6</text>
<line x1="319.20" y1="1881.11" x2="323.20" y2="1881.11" stroke="#222" stroke-width="1.4" stroke-linecap="butt"/>
<text x="317.00" y="1888.36" font-size="22.45" text-anchor="end" fill="#000">Sheep5</text>
<line x1="319.20" y1="1917.49" x2="323.20" y2="1917.49" stroke="#222" stroke-width="1.4" stroke-linecap="butt"/>
<text x="317.00" y="1924.73" font-size="22.45" text-anchor="end" fill="#000">Sheep4</text>
<line x1="319.20" y1="1953.86" x2="323.20" y2="1953.86" stroke="#222" stroke-width="1.4" stroke-linecap="butt"/>
<text x="317.00" y="1961.11" font-size="22.45" text-anchor="end" fill="#000">Sheep3</text>
<line x1="319.20" y1="1990.24" x2="323.20" y2="1990.24" stroke="#222" stroke-width="1.4" stroke-linecap="butt"/>
<text x="317.00" y="1997.48" font-size="22.45" text-anchor="end" fill="#000">Sheep2</text>
<line x1="319.20" y1="2026.61" x2="323.20" y2="2026.61" stroke="#222" stroke-width="1.4" stroke-linecap="butt"/>
<text x="317.00" y="2033.86" font-size="22.45" text-anchor="end" fill="#000">Sheep1</text>
<line x1="342.20" y1="2043.80" x2="342.20" y2="2047.80" stroke="#222" stroke-width="1.4" stroke-linecap="butt"/>
<line x1="378.61" y1="2043.80" x2="378.61" y2="2047.80" stroke="#222" stroke-width="1.4" stroke-linecap="butt"/>
<line x1="415.02" y1="2043.80" x2="415.02" y2="2047.80" stroke="#222" stroke-width="1.4" stroke-linecap="butt"/>
<line x1="451.43" y1="2043.80" x2="451.43" y2="2047.80" stroke="#222" stroke-width="1.4" stroke-linecap="butt"/>
<line x1="487.83" y1="2043.80" x2="487.83" y2="2047.80" stroke="#222" stroke-width="1.4" stroke-linecap="butt"/>
<line x1="524.24" y1="2043.80" x2="524.24" y2="2047.80" stroke="#222" stroke-width="1.4" stroke-linecap="butt"/>
<line x1="560.65" y1="2043.80" x2="560.65" y2="2047.80" stroke="#222" stroke-width="1.4" stroke-linecap="butt"/>
<line x1="597.06" y1="2043.80" x2="597.06" y2="2047.80" stroke="#222" stroke-width="1.4" stroke-linecap="butt"/>
<line x1="633.47" y1="2043.80" x2="633.47" y2="2047.80" stroke="#222" stroke-width="1.4" stroke-linecap="butt"/>
<line x1="669.87" y1="2043.80" x2="669.87" y2="2047.80" stroke="#222" stroke-width="1.4" stroke-linecap="butt"/>
<line x1="706.28" y1="2043.80" x2="706.28" y2="2047.80" stroke="#222" stroke-width="1.4" stroke-linecap="butt"/>
<line x1="742.69" y1="2043.80" x2="742.69" y2="2047.80" stroke="#222" stroke-width="1.4" stroke-linecap="butt"/>
<line x1="779.10" y1="2043.80" x2="779.10" y2="2047.80" stroke="#222" stroke-width="1.4" stroke-linecap="butt"/>
<text transform="translate(346.40,2066.08) rotate(-30)" font-size="22.45" text-anchor="end" fill="#000">3-Heptanone, 2-methyl</text>
<text transform="translate(382.61,2066.15) rotate(-30)" font-size="22.45" text-anchor="end" fill="#000">Nonanal</text>
<text transform="translate(420.52,2065.62) rotate(-30)" font-size="22.45" text-anchor="end" fill="#000">Cycloheptasiloxane, tetradecamethyl</text>
<text transform="translate(462.53,2063.66) rotate(-30)" font-size="22.45" text-anchor="end" fill="#000">Benzaldehyde</text>
<text transform="translate(493.33,2065.62) rotate(-30)" font-size="22.45" text-anchor="end" fill="#000">Cyclohexasiloxane, dodecamethyl</text>
<text transform="translate(530.34,2065.41) rotate(-30)" font-size="22.45" text-anchor="end" fill="#000">Cyclopentasiloxane, decamethyl</text>
<text transform="translate(567.40,2065.19) rotate(-30)" font-size="22.45" text-anchor="end" fill="#000">Hexadecanal</text>
<text transform="translate(603.81,2065.19) rotate(-30)" font-size="22.45" text-anchor="end" fill="#000">Cyclooctasiloxane, hexadecamethyl</text>
<text transform="translate(643.97,2063.88) rotate(-30)" font-size="22.45" text-anchor="end" fill="#000">Spiro[2.5]octane, 5,5-dimethyl-4-(3-oxobutyl)</text>
<text transform="translate(677.87,2064.75) rotate(-30)" font-size="22.45" text-anchor="end" fill="#000">Heptasiloxane, hexadecamethyl</text>
<text transform="translate(713.68,2064.96) rotate(-30)" font-size="22.45" text-anchor="end" fill="#000">Cyclononasiloxane, octadecamethyl</text>
<text transform="translate(755.09,2063.21) rotate(-30)" font-size="22.45" text-anchor="end" fill="#000">Ethanone, 1-(1,2,3,4,7,7a-hexahydro-1,4,4,5-tetramethyl-1,3a-ethano-3aH-inden-6-yl)</text>
<text transform="translate(788.35,2064.31) rotate(-30)" font-size="22.45" text-anchor="end" fill="#000">n-Hexadecanoic acid</text>
<rect x="811.30" y="1648.00" width="24.50" height="396.50" fill="url(#cm)"/>
<line x1="835.80" y1="2044.50" x2="840.50" y2="2044.50" stroke="#222" stroke-width="1.2" stroke-linecap="butt"/>
<line x1="835.80" y1="1964.20" x2="840.50" y2="1964.20" stroke="#222" stroke-width="1.2" stroke-linecap="butt"/>
<line x1="835.80" y1="1883.30" x2="840.50" y2="1883.30" stroke="#222" stroke-width="1.2" stroke-linecap="butt"/>
<line x1="835.80" y1="1803.00" x2="840.50" y2="1803.00" stroke="#222" stroke-width="1.2" stroke-linecap="butt"/>
<line x1="835.80" y1="1722.50" x2="840.50" y2="1722.50" stroke="#222" stroke-width="1.2" stroke-linecap="butt"/>
<text transform="translate(847.60,2039.00) rotate(90)" font-size="22" fill="#000">0</text>
<text transform="translate(847.60,1932.70) rotate(90)" font-size="22" fill="#000">200000</text>
<text transform="translate(847.60,1846.70) rotate(90)" font-size="22" fill="#000">400000</text>
<text transform="translate(847.60,1764.20) rotate(90)" font-size="22" fill="#000">600000</text>
<text transform="translate(847.60,1675.00) rotate(90)" font-size="22" fill="#000">800000</text>
<text x="803.00" y="1621.30" font-size="22.5" fill="#000">Peak</text>
<text x="803.00" y="1640.20" font-size="22.5" fill="#000">area</text>
<line x1="988.75" y1="47.00" x2="988.75" y2="311.55" stroke="#000" stroke-width="2.5" stroke-linecap="butt"/>
<line x1="987.50" y1="310.30" x2="1795.75" y2="310.30" stroke="#000" stroke-width="2.5" stroke-linecap="butt"/>
<line x1="984.75" y1="104.25" x2="987.75" y2="104.25" stroke="#000" stroke-width="1.2" stroke-linecap="butt"/>
<text x="980.30" y="112.25" font-size="22.4" text-anchor="end" fill="#000">8</text>
<line x1="984.75" y1="176.75" x2="987.75" y2="176.75" stroke="#000" stroke-width="1.2" stroke-linecap="butt"/>
<text x="980.30" y="184.75" font-size="22.4" text-anchor="end" fill="#000">4</text>
<line x1="984.75" y1="249.50" x2="987.75" y2="249.50" stroke="#000" stroke-width="1.2" stroke-linecap="butt"/>
<text x="980.30" y="257.50" font-size="22.4" text-anchor="end" fill="#000">0</text>
<line x1="1055.30" y1="311.30" x2="1055.30" y2="314.30" stroke="#000" stroke-width="1.2" stroke-linecap="butt"/>
<text x="1055.30" y="333.20" font-size="22.3" text-anchor="middle" fill="#000">Thr</text>
<line x1="1167.45" y1="311.30" x2="1167.45" y2="314.30" stroke="#000" stroke-width="1.2" stroke-linecap="butt"/>
<text x="1167.45" y="333.20" font-size="22.3" text-anchor="middle" fill="#000">Val</text>
<line x1="1279.60" y1="311.30" x2="1279.60" y2="314.30" stroke="#000" stroke-width="1.2" stroke-linecap="butt"/>
<text x="1279.60" y="333.20" font-size="22.3" text-anchor="middle" fill="#000">Met</text>
<line x1="1391.75" y1="311.30" x2="1391.75" y2="314.30" stroke="#000" stroke-width="1.2" stroke-linecap="butt"/>
<text x="1391.75" y="333.20" font-size="22.3" text-anchor="middle" fill="#000">Ile</text>
<line x1="1503.90" y1="311.30" x2="1503.90" y2="314.30" stroke="#000" stroke-width="1.2" stroke-linecap="butt"/>
<text x="1503.90" y="333.20" font-size="22.3" text-anchor="middle" fill="#000">Leu</text>
<line x1="1616.05" y1="311.30" x2="1616.05" y2="314.30" stroke="#000" stroke-width="1.2" stroke-linecap="butt"/>
<text x="1616.05" y="333.20" font-size="22.3" text-anchor="middle" fill="#000">Phe</text>
<line x1="1728.20" y1="311.30" x2="1728.20" y2="314.30" stroke="#000" stroke-width="1.2" stroke-linecap="butt"/>
<text x="1728.20" y="333.20" font-size="22.3" text-anchor="middle" fill="#000">Lys</text>
<text x="1416.50" y="370.50" font-size="22.3" text-anchor="middle" fill="#000">Essential amino acid</text>
<text transform="translate(954.80,206.50) rotate(-90)" font-size="22.4" text-anchor="middle" fill="#000">log<tspan font-size="13.9" dy="4.0">2</tspan><tspan dy="-4.0">(value+1)</tspan></text>
<path d="M1035.5 124.8L1036 126.2L1036.2 127.8L1036.3 129.2L1036.5 130.8L1036.7 132.2L1036.9 133.8L1037.2 135.2L1037.5 136.8L1037.9 138.2L1038.3 139.8L1038.8 141.2L1039.3 142.8L1039.9 144.2L1040.5 145.8L1041.1 147.2L1041.8 148.8L1042.6 150.2L1043.3 151.8L1044.1 153.2L1044.9 154.8L1045.8 156.2L1046.6 157.8L1047.4 159.2L1048.2 160.8L1048.9 162.2L1049.6 163.8L1050.3 165.2L1050.9 166.8L1051.4 168.2L1051.8 169.8L1052.1 171.2L1052.4 172.8L1052.6 174.2L1052.7 175.8L1052.9 177.2L1053 178.8L1053.1 180.2L1053.2 181.8L1053.3 183.2L1053.3 184.8L1053.4 186.2L1053.4 187.8L1053.5 189.2L1053.5 190.8L1053.5 192.2L1053.5 193.8L1053.5 195.2L1053.5 196.8L1053.5 198.2L1053.5 199.8L1053.5 201.2L1053.5 202.8L1053.5 204.2L1053.5 205.8L1053.5 207.2L1053.5 208.8L1053.5 210.2L1053.5 211.8L1053.5 213.2L1053.4 214.8L1053.4 216.2L1053.3 217.8L1053.3 219.2L1053.2 220.8L1053.1 222.2L1053 223.8L1052.9 225.2L1052.7 226.8L1052.6 228.2L1052.4 229.8L1052.1 231.2L1051.8 232.8L1051.4 234.2L1050.9 235.8L1050.3 237.2L1049.6 238.8L1048.9 240.2L1048.2 241.8L1047.4 243.2L1046.6 244.8L1045.8 246.2L1044.9 247.8L1044.1 249.2L1043.3 250.8L1042.6 252.2L1041.8 253.8L1041.1 255.2L1040.5 256.8L1039.9 258.2L1039.3 259.8L1038.8 261.2L1038.3 262.8L1037.9 264.2L1037.5 265.8L1037.2 267.2L1036.9 268.8L1036.7 270.2L1036.5 271.8L1036.3 273.2L1036.2 274.8L1036 276.2L1035.5 277.8L1035 276.2L1034.8 274.8L1034.7 273.2L1034.5 271.8L1034.3 270.2L1034.1 268.8L1033.8 267.2L1033.5 265.8L1033.1 264.2L1032.7 262.8L1032.2 261.2L1031.7 259.8L1031.1 258.2L1030.5 256.8L1029.9 255.2L1029.2 253.8L1028.4 252.2L1027.7 250.8L1026.9 249.2L1026.1 247.8L1025.2 246.2L1024.4 244.8L1023.6 243.2L1022.8 241.8L1022.1 240.2L1021.4 238.8L1020.7 237.2L1020.1 235.8L1019.6 234.2L1019.2 232.8L1018.9 231.2L1018.6 229.8L1018.4 228.2L1018.3 226.8L1018.1 225.2L1018 223.8L1017.9 222.2L1017.8 220.8L1017.7 219.2L1017.7 217.8L1017.6 216.2L1017.6 214.8L1017.5 213.2L1017.5 211.8L1017.5 210.2L1017.5 208.8L1017.5 207.2L1017.5 205.8L1017.5 204.2L1017.5 202.8L1017.5 201.2L1017.5 199.8L1017.5 198.2L1017.5 196.8L1017.5 195.2L1017.5 193.8L1017.5 192.2L1017.5 190.8L1017.5 189.2L1017.6 187.8L1017.6 186.2L1017.7 184.8L1017.7 183.2L1017.8 181.8L1017.9 180.2L1018 178.8L1018.1 177.2L1018.3 175.8L1018.4 174.2L1018.6 172.8L1018.9 171.2L1019.2 169.8L1019.6 168.2L1020.1 166.8L1020.7 165.2L1021.4 163.8L1022.1 162.2L1022.8 160.8L1023.6 159.2L1024.4 157.8L1025.2 156.2L1026.1 154.8L1026.9 153.2L1027.7 151.8L1028.4 150.2L1029.2 148.8L1029.9 147.2L1030.5 145.8L1031.1 144.2L1031.7 142.8L1032.2 141.2L1032.7 139.8L1033.1 138.2L1033.5 136.8L1033.8 135.2L1034.1 133.8L1034.3 132.2L1034.5 130.8L1034.7 129.2L1034.8 127.8L1035 126.2Z" fill="#F5C6C8"/>
<path d="M1075 222 Q1085.2 226.2 1092 232.5 Q1085.2 238.8 1075 243 Q1064.8 238.8 1058 232.5 Q1064.8 226.2 1075 222Z" fill="#B8BCE4"/>
<path d="M1075.00,165.50 Q1077.88,168.12 1080.75,170.75 Q1077.88,173.38 1075.00,176.00 Q1072.12,173.38 1069.25,170.75 Q1072.12,168.12 1075.00,165.50 Z" fill="#B8BCE4"/>
<path d="M1148 123.5L1148.5 125L1148.7 126.5L1148.9 128L1149.2 129.5L1149.6 131L1150 132.5L1150.5 134L1151.1 135.5L1151.7 137L1152.5 138.5L1153.4 140L1154.3 141.5L1155.3 143L1156.4 144.5L1157.5 146L1158.6 147.5L1159.7 149L1160.8 150.5L1161.8 152L1162.7 153.5L1163.5 155L1164.1 156.5L1164.6 158L1164.9 159.5L1165.2 161L1165.4 162.5L1165.5 164L1165.7 165.5L1165.8 167L1165.8 168.5L1165.9 170L1165.9 171.5L1166 173L1166 174.5L1166 176L1166 177.5L1166 179L1166 180.5L1166 182L1166 183.5L1166 185L1166 186.5L1166 188L1166 189.5L1165.9 191L1165.9 192.5L1165.8 194L1165.8 195.5L1165.7 197L1165.5 198.5L1165.4 200L1165.2 201.5L1164.9 203L1164.6 204.5L1164.2 206L1163.6 207.5L1162.9 209L1162.2 210.5L1161.3 212L1160.4 213.5L1159.4 215L1158.4 216.5L1157.4 218L1156.4 219.5L1155.4 221L1154.5 222.5L1153.6 224L1152.8 225.5L1152.1 227L1151.5 228.5L1150.9 230L1150.4 231.5L1149.9 233L1149.6 234.5L1149.2 236L1149 237.5L1148.8 239L1148.6 240.5L1148 242L1147.4 240.5L1147.2 239L1147 237.5L1146.8 236L1146.4 234.5L1146.1 233L1145.6 231.5L1145.1 230L1144.5 228.5L1143.9 227L1143.2 225.5L1142.4 224L1141.5 222.5L1140.6 221L1139.6 219.5L1138.6 218L1137.6 216.5L1136.6 215L1135.6 213.5L1134.7 212L1133.8 210.5L1133.1 209L1132.4 207.5L1131.8 206L1131.4 204.5L1131.1 203L1130.8 201.5L1130.6 200L1130.5 198.5L1130.3 197L1130.2 195.5L1130.2 194L1130.1 192.5L1130.1 191L1130 189.5L1130 188L1130 186.5L1130 185L1130 183.5L1130 182L1130 180.5L1130 179L1130 177.5L1130 176L1130 174.5L1130 173L1130.1 171.5L1130.1 170L1130.2 168.5L1130.2 167L1130.3 165.5L1130.5 164L1130.6 162.5L1130.8 161L1131.1 159.5L1131.4 158L1131.9 156.5L1132.5 155L1133.3 153.5L1134.2 152L1135.2 150.5L1136.3 149L1137.4 147.5L1138.5 146L1139.6 144.5L1140.7 143L1141.7 141.5L1142.6 140L1143.5 138.5L1144.3 137L1144.9 135.5L1145.5 134L1146 132.5L1146.4 131L1146.8 129.5L1147.1 128L1147.3 126.5L1147.5 125Z" fill="#F5C6C8"/>
<path d="M1187 195 Q1196.5 197.5 1202.8 201.2 Q1196.5 204.7 1187 207 Q1177.5 204.7 1171.2 201.2 Q1177.5 197.5 1187 195Z" fill="#B8BCE4"/>
<path d="M1187.00,205.00 Q1188.75,206.25 1190.50,207.50 Q1188.75,208.75 1187.00,210.00 Q1185.25,208.75 1183.50,207.50 Q1185.25,206.25 1187.00,205.00 Z" fill="#B8BCE4"/>
<path d="M1187.00,160.00 Q1189.25,161.12 1191.50,162.25 Q1189.25,163.38 1187.00,164.50 Q1184.75,163.38 1182.50,162.25 Q1184.75,161.12 1187.00,160.00 Z" fill="#B8BCE4"/>
<path d="M1260 193.5L1260.5 195L1260.8 196.5L1261.2 198L1261.8 199.5L1262.5 201L1263.4 202.5L1264.6 204L1265.9 205.5L1267.5 207L1269.1 208.5L1270.8 210L1272.5 211.5L1274 213L1275.4 214.5L1276.4 216L1277.1 217.5L1277.6 219L1277.9 220.5L1278.1 222L1278.2 223.5L1278.2 225L1278.2 226.5L1278.2 228L1278.2 229.5L1278.2 231L1278.2 232.5L1278.1 234L1277.8 235.5L1277.5 237L1276.9 238.5L1276.2 240L1275.2 241.5L1274 243L1272.7 244.5L1271.3 246L1269.8 247.5L1268.3 249L1266.9 250.5L1265.7 252L1264.5 253.5L1263.5 255L1262.7 256.5L1262 258L1261.4 259.5L1261 261L1260.7 262.5L1260 264L1259.3 262.5L1259 261L1258.6 259.5L1258 258L1257.3 256.5L1256.5 255L1255.5 253.5L1254.3 252L1253.1 250.5L1251.7 249L1250.2 247.5L1248.7 246L1247.3 244.5L1246 243L1244.8 241.5L1243.8 240L1243.1 238.5L1242.5 237L1242.2 235.5L1241.9 234L1241.8 232.5L1241.8 231L1241.8 229.5L1241.8 228L1241.8 226.5L1241.8 225L1241.8 223.5L1241.9 222L1242.1 220.5L1242.4 219L1242.9 217.5L1243.6 216L1244.6 214.5L1246 213L1247.5 211.5L1249.2 210L1250.9 208.5L1252.5 207L1254.1 205.5L1255.4 204L1256.6 202.5L1257.5 201L1258.2 199.5L1258.8 198L1259.2 196.5L1259.5 195Z" fill="#F5C6C8"/>
<path d="M1299.2 230 Q1309.8 232.3 1316.8 235.8 Q1309.8 240.6 1299.2 243.8 Q1288.8 240.6 1281.8 235.8 Q1288.8 232.3 1299.2 230Z" fill="#B8BCE4"/>
<path d="M1299.25,203.50 Q1302.00,205.00 1304.75,206.50 Q1302.00,208.00 1299.25,209.50 Q1296.50,208.00 1293.75,206.50 Q1296.50,205.00 1299.25,203.50 Z" fill="#B8BCE4"/>
<path d="M1372.5 121L1373.1 122.5L1373.4 124L1373.7 125.5L1374.1 127L1374.7 128.5L1375.4 130L1376.2 131.5L1377.2 133L1378.3 134.5L1379.5 136L1380.9 137.5L1382.3 139L1383.8 140.5L1385.2 142L1386.5 143.5L1387.7 145L1388.6 146.5L1389.4 148L1389.8 149.5L1390 151L1390.3 152.5L1390.4 154L1390.6 155.5L1390.7 157L1390.8 158.5L1390.9 160L1390.9 161.5L1391 163L1391 164.5L1391 166L1391 167.5L1391 169L1391 170.5L1391 172L1391 173.5L1391 175L1391 176.5L1391 178L1391 179.5L1391 181L1391 182.5L1390.9 184L1390.9 185.5L1390.8 187L1390.7 188.5L1390.6 190L1390.5 191.5L1390.3 193L1390.1 194.5L1389.8 196L1389.5 197.5L1389.1 199L1388.7 200.5L1388.1 202L1387.5 203.5L1386.9 205L1386.1 206.5L1385.4 208L1384.6 209.5L1383.7 211L1382.9 212.5L1382.1 214L1381.2 215.5L1380.4 217L1379.6 218.5L1378.9 220L1378.2 221.5L1377.5 223L1376.9 224.5L1376.3 226L1375.8 227.5L1375.3 229L1374.9 230.5L1374.5 232L1374.2 233.5L1373.9 235L1373.7 236.5L1373.5 238L1373.3 239.5L1373.2 241L1373 242.5L1372.5 244L1372 242.5L1371.8 241L1371.7 239.5L1371.5 238L1371.3 236.5L1371.1 235L1370.8 233.5L1370.5 232L1370.1 230.5L1369.7 229L1369.2 227.5L1368.7 226L1368.1 224.5L1367.5 223L1366.8 221.5L1366.1 220L1365.4 218.5L1364.6 217L1363.8 215.5L1362.9 214L1362.1 212.5L1361.3 211L1360.4 209.5L1359.6 208L1358.9 206.5L1358.1 205L1357.5 203.5L1356.9 202L1356.3 200.5L1355.9 199L1355.5 197.5L1355.2 196L1354.9 194.5L1354.7 193L1354.5 191.5L1354.4 190L1354.3 188.5L1354.2 187L1354.1 185.5L1354.1 184L1354 182.5L1354 181L1354 179.5L1354 178L1354 176.5L1354 175L1354 173.5L1354 172L1354 170.5L1354 169L1354 167.5L1354 166L1354 164.5L1354 163L1354.1 161.5L1354.1 160L1354.2 158.5L1354.3 157L1354.4 155.5L1354.6 154L1354.7 152.5L1355 151L1355.2 149.5L1355.6 148L1356.4 146.5L1357.3 145L1358.5 143.5L1359.8 142L1361.2 140.5L1362.7 139L1364.1 137.5L1365.5 136L1366.7 134.5L1367.8 133L1368.8 131.5L1369.6 130L1370.3 128.5L1370.9 127L1371.3 125.5L1371.6 124L1371.9 122.5Z" fill="#F5C6C8"/>
<path d="M1411.8 181.2 Q1422 185.1 1428.8 190.8 Q1422 199.6 1411.8 205.5 Q1401.5 199.6 1394.8 190.8 Q1401.5 185.1 1411.8 181.2Z" fill="#B8BCE4"/>
<path d="M1411.75,146.50 Q1414.75,149.12 1417.75,151.75 Q1414.75,154.38 1411.75,157.00 Q1408.75,154.38 1405.75,151.75 Q1408.75,149.12 1411.75,146.50 Z" fill="#B8BCE4"/>
<path d="M1484.5 146L1485 147.5L1485.1 149L1485.2 150.5L1485.4 152L1485.6 153.5L1485.8 155L1486 156.5L1486.3 158L1486.5 159.5L1486.9 161L1487.2 162.5L1487.6 164L1488.1 165.5L1488.5 167L1489.1 168.5L1489.6 170L1490.2 171.5L1490.8 173L1491.5 174.5L1492.1 176L1492.8 177.5L1493.5 179L1494.3 180.5L1495 182L1495.7 183.5L1496.4 185L1497.1 186.5L1497.8 188L1498.4 189.5L1499 191L1499.6 192.5L1500.1 194L1500.6 195.5L1501 197L1501.4 198.5L1501.7 200L1502 201.5L1502.2 203L1502.4 204.5L1502.5 206L1502.6 207.5L1502.7 209L1502.7 210.5L1502.7 212L1502.7 213.5L1502.7 215L1502.7 216.5L1502.8 218L1502.7 219.5L1502.7 221L1502.7 222.5L1502.7 224L1502.7 225.5L1502.7 227L1502.6 228.5L1502.5 230L1502.4 231.5L1502.2 233L1502 234.5L1501.7 236L1501.4 237.5L1501.1 239L1500.6 240.5L1500.2 242L1499.7 243.5L1499.2 245L1498.6 246.5L1498 248L1497.3 249.5L1496.7 251L1496 252.5L1495.3 254L1494.6 255.5L1493.9 257L1493.2 258.5L1492.5 260L1491.8 261.5L1491.2 263L1490.6 264.5L1490 266L1489.4 267.5L1488.9 269L1488.4 270.5L1487.9 272L1487.5 273.5L1487.1 275L1486.8 276.5L1486.5 278L1486.2 279.5L1486 281L1485.7 282.5L1485.6 284L1485.4 285.5L1485.2 287L1485.1 288.5L1485 290L1484.5 291.5L1484 290L1483.9 288.5L1483.8 287L1483.6 285.5L1483.4 284L1483.3 282.5L1483 281L1482.8 279.5L1482.5 278L1482.2 276.5L1481.9 275L1481.5 273.5L1481.1 272L1480.6 270.5L1480.1 269L1479.6 267.5L1479 266L1478.4 264.5L1477.8 263L1477.2 261.5L1476.5 260L1475.8 258.5L1475.1 257L1474.4 255.5L1473.7 254L1473 252.5L1472.3 251L1471.7 249.5L1471 248L1470.4 246.5L1469.8 245L1469.3 243.5L1468.8 242L1468.4 240.5L1467.9 239L1467.6 237.5L1467.3 236L1467 234.5L1466.8 233L1466.6 231.5L1466.5 230L1466.4 228.5L1466.3 227L1466.3 225.5L1466.3 224L1466.3 222.5L1466.3 221L1466.3 219.5L1466.2 218L1466.3 216.5L1466.3 215L1466.3 213.5L1466.3 212L1466.3 210.5L1466.3 209L1466.4 207.5L1466.5 206L1466.6 204.5L1466.8 203L1467 201.5L1467.3 200L1467.6 198.5L1468 197L1468.4 195.5L1468.9 194L1469.4 192.5L1470 191L1470.6 189.5L1471.2 188L1471.9 186.5L1472.6 185L1473.3 183.5L1474 182L1474.7 180.5L1475.5 179L1476.2 177.5L1476.9 176L1477.5 174.5L1478.2 173L1478.8 171.5L1479.4 170L1479.9 168.5L1480.5 167L1480.9 165.5L1481.4 164L1481.8 162.5L1482.1 161L1482.5 159.5L1482.7 158L1483 156.5L1483.2 155L1483.4 153.5L1483.6 152L1483.8 150.5L1483.9 149L1484 147.5Z" fill="#F5C6C8"/>
<path d="M1523.8 152.2L1524 153.8L1524 155.2L1524.1 156.8L1524.2 158.2L1524.3 159.8L1524.4 161.2L1524.6 162.8L1524.7 164.2L1524.9 165.8L1525.1 167.2L1525.4 168.8L1525.7 170.2L1526 171.8L1526.3 173.2L1526.6 174.8L1527 176.2L1527.3 177.8L1527.7 179.2L1528 180.8L1528.3 182.2L1528.6 183.8L1528.9 185.2L1529.2 186.8L1529.4 188.2L1529.5 189.8L1529.6 191.2L1529.7 192.8L1529.7 194.2L1529.7 195.8L1529.8 197.2L1529.8 198.8L1529.8 200.2L1529.8 201.8L1529.8 203.2L1529.9 204.8L1529.9 206.2L1530 207.8L1530.1 209.2L1530.3 210.8L1530.4 212.2L1530.6 213.8L1530.9 215.2L1531.2 216.8L1531.5 218.2L1531.9 219.8L1532.3 221.2L1532.8 222.8L1533.3 224.2L1533.8 225.8L1534.4 227.2L1535 228.8L1535.7 230.2L1536.3 231.8L1537 233.2L1537.6 234.8L1538.2 236.2L1538.8 237.8L1539.4 239.2L1539.9 240.8L1540.3 242.2L1540.7 243.8L1541 245.2L1541.1 246.8L1541.2 248.2L1541.2 249.8L1541.1 251.2L1540.8 252.8L1540.4 254.2L1539.9 255.8L1539.2 257.2L1538.4 258.8L1537.5 260.2L1536.6 261.8L1535.6 263.2L1534.6 264.8L1533.6 266.2L1532.6 267.8L1531.6 269.2L1530.7 270.8L1529.8 272.2L1529 273.8L1528.3 275.2L1527.6 276.8L1527 278.2L1526.5 279.8L1526 281.2L1525.6 282.8L1525.2 284.2L1524.9 285.8L1524.7 287.2L1524.5 288.8L1524.3 290.2L1523.8 291.8L1523.2 290.2L1523 288.8L1522.8 287.2L1522.6 285.8L1522.3 284.2L1521.9 282.8L1521.5 281.2L1521 279.8L1520.5 278.2L1519.9 276.8L1519.2 275.2L1518.5 273.8L1517.7 272.2L1516.8 270.8L1515.9 269.2L1514.9 267.8L1513.9 266.2L1512.9 264.8L1511.9 263.2L1510.9 261.8L1510 260.2L1509.1 258.8L1508.3 257.2L1507.6 255.8L1507.1 254.2L1506.7 252.8L1506.4 251.2L1506.3 249.8L1506.3 248.2L1506.4 246.8L1506.5 245.2L1506.8 243.8L1507.2 242.2L1507.6 240.8L1508.1 239.2L1508.7 237.8L1509.3 236.2L1509.9 234.8L1510.5 233.2L1511.2 231.8L1511.8 230.2L1512.5 228.8L1513.1 227.2L1513.7 225.8L1514.2 224.2L1514.7 222.8L1515.2 221.2L1515.6 219.8L1516 218.2L1516.3 216.8L1516.6 215.2L1516.9 213.8L1517.1 212.2L1517.2 210.8L1517.4 209.2L1517.5 207.8L1517.6 206.2L1517.6 204.8L1517.7 203.2L1517.7 201.8L1517.7 200.2L1517.7 198.8L1517.7 197.2L1517.8 195.8L1517.8 194.2L1517.8 192.8L1517.9 191.2L1518 189.8L1518.1 188.2L1518.3 186.8L1518.6 185.2L1518.9 183.8L1519.2 182.2L1519.5 180.8L1519.8 179.2L1520.2 177.8L1520.5 176.2L1520.9 174.8L1521.2 173.2L1521.5 171.8L1521.8 170.2L1522.1 168.8L1522.4 167.2L1522.6 165.8L1522.8 164.2L1522.9 162.8L1523.1 161.2L1523.2 159.8L1523.3 158.2L1523.4 156.8L1523.5 155.2L1523.5 153.8Z" fill="#B8BCE4"/>
<path d="M1596.8 151L1597.3 152.5L1597.5 154L1597.7 155.5L1598 157L1598.4 158.5L1598.9 160L1599.5 161.5L1600.2 163L1601 164.5L1602 166L1603 167.5L1604.1 169L1605.3 170.5L1606.5 172L1607.7 173.5L1608.9 175L1610.1 176.5L1611.1 178L1612.1 179.5L1612.9 181L1613.5 182.5L1613.9 184L1614.2 185.5L1614.4 187L1614.6 188.5L1614.7 190L1614.8 191.5L1614.9 193L1615 194.5L1615 196L1615 197.5L1615 199L1615 200.5L1615 202L1615 203.5L1615 205L1615 206.5L1615 208L1615 209.5L1614.9 211L1614.8 212.5L1614.7 214L1614.6 215.5L1614.4 217L1614.1 218.5L1613.8 220L1613.4 221.5L1612.7 223L1611.9 224.5L1611 226L1609.9 227.5L1608.7 229L1607.5 230.5L1606.3 232L1605.1 233.5L1603.9 235L1602.8 236.5L1601.8 238L1600.9 239.5L1600.1 241L1599.4 242.5L1598.9 244L1598.4 245.5L1598 247L1597.7 248.5L1597.4 250L1596.8 251.5L1596.1 250L1595.8 248.5L1595.5 247L1595.1 245.5L1594.6 244L1594.1 242.5L1593.4 241L1592.6 239.5L1591.7 238L1590.7 236.5L1589.6 235L1588.4 233.5L1587.2 232L1586 230.5L1584.8 229L1583.6 227.5L1582.5 226L1581.6 224.5L1580.8 223L1580.1 221.5L1579.7 220L1579.4 218.5L1579.1 217L1578.9 215.5L1578.8 214L1578.7 212.5L1578.6 211L1578.5 209.5L1578.5 208L1578.5 206.5L1578.5 205L1578.5 203.5L1578.5 202L1578.5 200.5L1578.5 199L1578.5 197.5L1578.5 196L1578.5 194.5L1578.6 193L1578.7 191.5L1578.8 190L1578.9 188.5L1579.1 187L1579.3 185.5L1579.6 184L1580 182.5L1580.6 181L1581.4 179.5L1582.4 178L1583.4 176.5L1584.6 175L1585.8 173.5L1587 172L1588.2 170.5L1589.4 169L1590.5 167.5L1591.5 166L1592.5 164.5L1593.3 163L1594 161.5L1594.6 160L1595.1 158.5L1595.5 157L1595.8 155.5L1596 154L1596.2 152.5Z" fill="#F5C6C8"/>
<path d="M1635.8 210.8 Q1645.8 212.4 1652.5 215 Q1645.8 220.2 1635.8 223.8 Q1625.7 220.2 1619 215 Q1625.7 212.4 1635.8 210.8Z" fill="#B8BCE4"/>
<path d="M1635.75,182.00 Q1638.25,183.25 1640.75,184.50 Q1638.25,185.75 1635.75,187.00 Q1633.25,185.75 1630.75,184.50 Q1633.25,183.25 1635.75,182.00 Z" fill="#B8BCE4"/>
<path d="M1709.2 57.2L1709.8 58.8L1709.9 60.2L1710.1 61.8L1710.3 63.2L1710.6 64.8L1710.8 66.2L1711.2 67.8L1711.6 69.2L1712 70.8L1712.5 72.2L1713.1 73.8L1713.8 75.2L1714.4 76.8L1715.2 78.2L1716 79.8L1716.9 81.2L1717.7 82.8L1718.6 84.2L1719.6 85.8L1720.5 87.2L1721.4 88.8L1722.3 90.2L1723.1 91.8L1723.9 93.2L1724.5 94.8L1725.1 96.2L1725.6 97.8L1726 99.2L1726.3 100.8L1726.6 102.2L1726.7 103.8L1726.9 105.2L1727 106.8L1727.2 108.2L1727.3 109.8L1727.3 111.2L1727.4 112.8L1727.4 114.2L1727.5 115.8L1727.5 117.2L1727.5 118.8L1727.5 120.2L1727.5 121.8L1727.5 123.2L1727.5 124.8L1727.5 126.2L1727.5 127.8L1727.5 129.2L1727.5 130.8L1727.5 132.2L1727.5 133.8L1727.5 135.2L1727.5 136.8L1727.4 138.2L1727.4 139.8L1727.4 141.2L1727.3 142.8L1727.2 144.2L1727.1 145.8L1727 147.2L1726.9 148.8L1726.7 150.2L1726.5 151.8L1726.2 153.2L1725.9 154.8L1725.4 156.2L1724.9 157.8L1724.2 159.2L1723.4 160.8L1722.6 162.2L1721.7 163.8L1720.7 165.2L1719.7 166.8L1718.8 168.2L1717.8 169.8L1716.9 171.2L1716 172.8L1715.1 174.2L1714.3 175.8L1713.6 177.2L1713 178.8L1712.4 180.2L1711.9 181.8L1711.4 183.2L1711 184.8L1710.7 186.2L1710.4 187.8L1710.2 189.2L1710 190.8L1709.8 192.2L1709.2 193.8L1708.7 192.2L1708.5 190.8L1708.3 189.2L1708.1 187.8L1707.8 186.2L1707.5 184.8L1707.1 183.2L1706.6 181.8L1706.1 180.2L1705.5 178.8L1704.9 177.2L1704.2 175.8L1703.4 174.2L1702.5 172.8L1701.6 171.2L1700.7 169.8L1699.7 168.2L1698.8 166.8L1697.8 165.2L1696.8 163.8L1695.9 162.2L1695.1 160.8L1694.3 159.2L1693.6 157.8L1693.1 156.2L1692.6 154.8L1692.3 153.2L1692 151.8L1691.8 150.2L1691.6 148.8L1691.5 147.2L1691.4 145.8L1691.3 144.2L1691.2 142.8L1691.1 141.2L1691.1 139.8L1691.1 138.2L1691 136.8L1691 135.2L1691 133.8L1691 132.2L1691 130.8L1691 129.2L1691 127.8L1691 126.2L1691 124.8L1691 123.2L1691 121.8L1691 120.2L1691 118.8L1691 117.2L1691 115.8L1691.1 114.2L1691.1 112.8L1691.2 111.2L1691.2 109.8L1691.3 108.2L1691.5 106.8L1691.6 105.2L1691.8 103.8L1691.9 102.2L1692.2 100.8L1692.5 99.2L1692.9 97.8L1693.4 96.2L1694 94.8L1694.6 93.2L1695.4 91.8L1696.2 90.2L1697.1 88.8L1698 87.2L1698.9 85.8L1699.9 84.2L1700.8 82.8L1701.6 81.2L1702.5 79.8L1703.3 78.2L1704.1 76.8L1704.7 75.2L1705.4 73.8L1706 72.2L1706.5 70.8L1706.9 69.2L1707.3 67.8L1707.7 66.2L1707.9 64.8L1708.2 63.2L1708.4 61.8L1708.6 60.2L1708.7 58.8Z" fill="#F5C6C8"/>
<path d="M1748 141.2 Q1758.5 144.2 1765.5 148.8 Q1758.5 156.2 1748 161.2 Q1737.5 156.2 1730.5 148.8 Q1737.5 144.2 1748 141.2Z" fill="#B8BCE4"/>
<path d="M1748.00,97.00 Q1750.88,99.50 1753.75,102.00 Q1750.88,104.50 1748.00,107.00 Q1745.12,104.50 1742.25,102.00 Q1745.12,99.50 1748.00,97.00 Z" fill="#B8BCE4"/>
<line x1="1035.5" y1="172.5" x2="1035.5" y2="229.2" stroke="#151515" stroke-width="1.5"/>
<rect x="1032.00" y="179.25" width="7.25" height="44.00" fill="#F8888C" stroke="#151515" stroke-width="1.5"/>
<line x1="1031.2" y1="198.8" x2="1040" y2="198.8" stroke="#151515" stroke-width="2.4"/>
<line x1="1075" y1="228" x2="1075" y2="237.5" stroke="#151515" stroke-width="1.5"/>
<rect x="1071.50" y="228.00" width="7.25" height="6.50" fill="#6E9DD9" stroke="#151515" stroke-width="1.5"/>
<line x1="1070.8" y1="231.2" x2="1079.5" y2="231.2" stroke="#151515" stroke-width="2.4"/>
<line x1="1148" y1="160.8" x2="1148" y2="204.5" stroke="#151515" stroke-width="1.5"/>
<rect x="1144.50" y="164.25" width="7.25" height="34.00" fill="#F8888C" stroke="#151515" stroke-width="1.5"/>
<line x1="1143.8" y1="180.2" x2="1152.5" y2="180.2" stroke="#151515" stroke-width="2.4"/>
<line x1="1187" y1="198.5" x2="1187" y2="202.2" stroke="#151515" stroke-width="1.5"/>
<rect x="1183.75" y="198.50" width="7.25" height="3.75" fill="#2a2a2a" stroke="#151515" stroke-width="1.5"/>
<line x1="1185.8" y1="200.2" x2="1188.2" y2="200.2" stroke="#6E9DD9" stroke-width="0.6" opacity="0.7"/>
<line x1="1260" y1="215" x2="1260" y2="242.5" stroke="#151515" stroke-width="1.5"/>
<rect x="1256.50" y="219.75" width="7.00" height="16.00" fill="#F8888C" stroke="#151515" stroke-width="1.5"/>
<line x1="1255.8" y1="228" x2="1264.2" y2="228" stroke="#151515" stroke-width="2.4"/>
<line x1="1299.2" y1="234" x2="1299.2" y2="240" stroke="#151515" stroke-width="1.5"/>
<rect x="1295.75" y="234.00" width="7.25" height="3.50" fill="#2a2a2a" stroke="#151515" stroke-width="1.5"/>
<line x1="1298" y1="235.8" x2="1300.5" y2="235.8" stroke="#6E9DD9" stroke-width="0.6" opacity="0.7"/>
<line x1="1372.5" y1="151.2" x2="1372.5" y2="201.8" stroke="#151515" stroke-width="1.5"/>
<rect x="1368.75" y="155.00" width="7.25" height="35.75" fill="#F8888C" stroke="#151515" stroke-width="1.5"/>
<line x1="1368" y1="171.2" x2="1376.8" y2="171.2" stroke="#151515" stroke-width="2.4"/>
<line x1="1411.8" y1="186.8" x2="1411.8" y2="200" stroke="#151515" stroke-width="1.5"/>
<rect x="1407.75" y="186.75" width="8.25" height="9.00" fill="#2a2a2a" stroke="#151515" stroke-width="1.5"/>
<line x1="1410.5" y1="191.2" x2="1413" y2="191.2" stroke="#6E9DD9" stroke-width="0.6" opacity="0.7"/>
<line x1="1484.5" y1="189.5" x2="1484.5" y2="249.2" stroke="#151515" stroke-width="1.5"/>
<rect x="1480.75" y="203.75" width="7.50" height="28.75" fill="#F8888C" stroke="#151515" stroke-width="1.5"/>
<line x1="1480" y1="217.5" x2="1489" y2="217.5" stroke="#151515" stroke-width="2.4"/>
<line x1="1523.8" y1="184.2" x2="1523.8" y2="250" stroke="#151515" stroke-width="1.5"/>
<rect x="1520.00" y="215.00" width="7.50" height="35.00" fill="#6E9DD9" stroke="#151515" stroke-width="1.5"/>
<line x1="1519.2" y1="249.5" x2="1528.2" y2="249.5" stroke="#151515" stroke-width="2.4"/>
<line x1="1596.8" y1="183.8" x2="1596.8" y2="220.5" stroke="#151515" stroke-width="1.5"/>
<rect x="1593.25" y="188.00" width="7.25" height="27.75" fill="#F8888C" stroke="#151515" stroke-width="1.5"/>
<line x1="1592.5" y1="202" x2="1601.2" y2="202" stroke="#151515" stroke-width="2.4"/>
<line x1="1635.8" y1="213.8" x2="1635.8" y2="220" stroke="#151515" stroke-width="1.5"/>
<rect x="1632.25" y="213.75" width="7.25" height="3.50" fill="#6E9DD9" stroke="#151515" stroke-width="1.5"/>
<line x1="1631.5" y1="215.5" x2="1640.2" y2="215.5" stroke="#151515" stroke-width="2.4"/>
<line x1="1709.2" y1="101.2" x2="1709.2" y2="150.8" stroke="#151515" stroke-width="1.5"/>
<rect x="1705.25" y="106.75" width="7.50" height="40.00" fill="#F8888C" stroke="#151515" stroke-width="1.5"/>
<line x1="1704.5" y1="125" x2="1713.5" y2="125" stroke="#151515" stroke-width="2.4"/>
<line x1="1748" y1="146.8" x2="1748" y2="156.2" stroke="#151515" stroke-width="1.5"/>
<rect x="1744.25" y="146.75" width="7.50" height="5.00" fill="#2a2a2a" stroke="#151515" stroke-width="1.5"/>
<line x1="1746.8" y1="149.2" x2="1749.2" y2="149.2" stroke="#6E9DD9" stroke-width="0.6" opacity="0.7"/>
<text transform="translate(1035.10,118.50) rotate(-20)" font-size="15.8" fill="#000">p = 0.065</text>
<text transform="translate(1147.20,118.50) rotate(-20)" font-size="15.8" fill="#000">p = 0.12</text>
<text transform="translate(1259.30,118.50) rotate(-20)" font-size="15.8" fill="#000">p = 0.295</text>
<text transform="translate(1371.40,118.50) rotate(-20)" font-size="15.8" fill="#000">p = 0.24</text>
<text transform="translate(1483.50,118.50) rotate(-20)" font-size="15.8" fill="#000">p = 0.11</text>
<text transform="translate(1595.60,118.50) rotate(-20)" font-size="15.8" fill="#000">p = 0.24</text>
<text transform="translate(1704.60,93.50) rotate(-20)" font-size="15.8" fill="#000">p = 0.155</text>
<text x="1798.80" y="73.40" font-size="22.3" fill="#000">Group</text>
<rect x="1801.30" y="87.30" width="25.00" height="25.50" fill="#F5C6C8"/>
<rect x="1804.10" y="93.50" width="19.40" height="13.10" fill="#F8888C" stroke="#111" stroke-width="1"/>
<line x1="1804.10" y1="100.05" x2="1823.50" y2="100.05" stroke="#111" stroke-width="1.2" stroke-linecap="butt"/>
<text x="1831.30" y="108.30" font-size="22.3" fill="#000">Sheep</text>
<rect x="1801.30" y="119.80" width="25.00" height="25.50" fill="#B8BCE4"/>
<rect x="1804.10" y="126.00" width="19.40" height="13.10" fill="#6E9DD9" stroke="#111" stroke-width="1"/>
<line x1="1804.10" y1="132.55" x2="1823.50" y2="132.55" stroke="#111" stroke-width="1.2" stroke-linecap="butt"/>
<text x="1831.30" y="140.80" font-size="22.3" fill="#000">Goat</text>
<line x1="988.75" y1="390.00" x2="988.75" y2="653.95" stroke="#000" stroke-width="2.5" stroke-linecap="butt"/>
<line x1="987.50" y1="652.70" x2="1795.75" y2="652.70" stroke="#000" stroke-width="2.5" stroke-linecap="butt"/>
<line x1="984.75" y1="450.75" x2="987.75" y2="450.75" stroke="#000" stroke-width="1.2" stroke-linecap="butt"/>
<text x="980.30" y="458.75" font-size="22.4" text-anchor="end" fill="#000">8</text>
<line x1="984.75" y1="519.30" x2="987.75" y2="519.30" stroke="#000" stroke-width="1.2" stroke-linecap="butt"/>
<text x="980.30" y="527.30" font-size="22.4" text-anchor="end" fill="#000">4</text>
<line x1="984.75" y1="587.70" x2="987.75" y2="587.70" stroke="#000" stroke-width="1.2" stroke-linecap="butt"/>
<text x="980.30" y="595.70" font-size="22.4" text-anchor="end" fill="#000">0</text>
<line x1="1041.25" y1="653.70" x2="1041.25" y2="656.70" stroke="#000" stroke-width="1.2" stroke-linecap="butt"/>
<text x="1041.25" y="675.70" font-size="22.3" text-anchor="middle" fill="#000">Asp</text>
<line x1="1128.80" y1="653.70" x2="1128.80" y2="656.70" stroke="#000" stroke-width="1.2" stroke-linecap="butt"/>
<text x="1128.80" y="675.70" font-size="22.3" text-anchor="middle" fill="#000">Glu</text>
<line x1="1216.35" y1="653.70" x2="1216.35" y2="656.70" stroke="#000" stroke-width="1.2" stroke-linecap="butt"/>
<text x="1216.35" y="675.70" font-size="22.3" text-anchor="middle" fill="#000">Hyp</text>
<line x1="1303.90" y1="653.70" x2="1303.90" y2="656.70" stroke="#000" stroke-width="1.2" stroke-linecap="butt"/>
<text x="1303.90" y="675.70" font-size="22.3" text-anchor="middle" fill="#000">Arg</text>
<line x1="1391.45" y1="653.70" x2="1391.45" y2="656.70" stroke="#000" stroke-width="1.2" stroke-linecap="butt"/>
<text x="1391.45" y="675.70" font-size="22.3" text-anchor="middle" fill="#000">Gly</text>
<line x1="1479.00" y1="653.70" x2="1479.00" y2="656.70" stroke="#000" stroke-width="1.2" stroke-linecap="butt"/>
<text x="1479.00" y="675.70" font-size="22.3" text-anchor="middle" fill="#000">Pro</text>
<line x1="1566.55" y1="653.70" x2="1566.55" y2="656.70" stroke="#000" stroke-width="1.2" stroke-linecap="butt"/>
<text x="1566.55" y="675.70" font-size="22.3" text-anchor="middle" fill="#000">Ala</text>
<line x1="1654.10" y1="653.70" x2="1654.10" y2="656.70" stroke="#000" stroke-width="1.2" stroke-linecap="butt"/>
<text x="1654.10" y="675.70" font-size="22.3" text-anchor="middle" fill="#000">Cys</text>
<line x1="1741.65" y1="653.70" x2="1741.65" y2="656.70" stroke="#000" stroke-width="1.2" stroke-linecap="butt"/>
<text x="1741.65" y="675.70" font-size="22.3" text-anchor="middle" fill="#000">Tyr</text>
<text x="1401.80" y="718.50" font-size="22.5" text-anchor="middle" fill="#000">Non essential amino acid</text>
<text transform="translate(954.80,538.70) rotate(-90)" font-size="22.4" text-anchor="middle" fill="#000">log<tspan font-size="13.9" dy="4.0">2</tspan><tspan dy="-4.0">(value+1)</tspan></text>
<path d="M1025.5 401L1025.9 402.5L1026 404L1026.1 405.5L1026.2 407L1026.3 408.5L1026.5 410L1026.6 411.5L1026.8 413L1027 414.5L1027.2 416L1027.4 417.5L1027.7 419L1028 420.5L1028.3 422L1028.7 423.5L1029 425L1029.4 426.5L1029.9 428L1030.3 429.5L1030.8 431L1031.2 432.5L1031.7 434L1032.3 435.5L1032.8 437L1033.3 438.5L1033.8 440L1034.4 441.5L1034.9 443L1035.4 444.5L1035.9 446L1036.4 447.5L1036.8 449L1037.2 450.5L1037.6 452L1037.9 453.5L1038.2 455L1038.5 456.5L1038.7 458L1038.8 459.5L1039 461L1039.1 462.5L1039.2 464L1039.3 465.5L1039.4 467L1039.4 468.5L1039.5 470L1039.6 471.5L1039.6 473L1039.6 474.5L1039.7 476L1039.7 477.5L1039.7 479L1039.7 480.5L1039.7 482L1039.7 483.5L1039.7 485L1039.7 486.5L1039.7 488L1039.7 489.5L1039.7 491L1039.7 492.5L1039.8 494L1039.7 495.5L1039.7 497L1039.7 498.5L1039.7 500L1039.7 501.5L1039.7 503L1039.7 504.5L1039.7 506L1039.7 507.5L1039.7 509L1039.7 510.5L1039.7 512L1039.6 513.5L1039.6 515L1039.6 516.5L1039.5 518L1039.5 519.5L1039.4 521L1039.3 522.5L1039.2 524L1039.1 525.5L1039 527L1038.9 528.5L1038.7 530L1038.5 531.5L1038.3 533L1038 534.5L1037.7 536L1037.3 537.5L1036.9 539L1036.5 540.5L1036.1 542L1035.6 543.5L1035.1 545L1034.6 546.5L1034.1 548L1033.6 549.5L1033.1 551L1032.6 552.5L1032.1 554L1031.6 555.5L1031.1 557L1030.6 558.5L1030.2 560L1029.8 561.5L1029.4 563L1029 564.5L1028.6 566L1028.3 567.5L1028 569L1027.7 570.5L1027.4 572L1027.2 573.5L1027 575L1026.8 576.5L1026.6 578L1026.5 579.5L1026.3 581L1026.2 582.5L1026.1 584L1026 585.5L1025.9 587L1025.5 588.5L1025.1 587L1025 585.5L1024.9 584L1024.8 582.5L1024.7 581L1024.5 579.5L1024.4 578L1024.2 576.5L1024 575L1023.8 573.5L1023.6 572L1023.3 570.5L1023 569L1022.7 567.5L1022.4 566L1022 564.5L1021.6 563L1021.2 561.5L1020.8 560L1020.4 558.5L1019.9 557L1019.4 555.5L1018.9 554L1018.4 552.5L1017.9 551L1017.4 549.5L1016.9 548L1016.4 546.5L1015.9 545L1015.4 543.5L1014.9 542L1014.5 540.5L1014.1 539L1013.7 537.5L1013.3 536L1013 534.5L1012.7 533L1012.5 531.5L1012.3 530L1012.1 528.5L1012 527L1011.9 525.5L1011.8 524L1011.7 522.5L1011.6 521L1011.5 519.5L1011.5 518L1011.4 516.5L1011.4 515L1011.4 513.5L1011.3 512L1011.3 510.5L1011.3 509L1011.3 507.5L1011.3 506L1011.3 504.5L1011.3 503L1011.3 501.5L1011.3 500L1011.3 498.5L1011.3 497L1011.3 495.5L1011.2 494L1011.3 492.5L1011.3 491L1011.3 489.5L1011.3 488L1011.3 486.5L1011.3 485L1011.3 483.5L1011.3 482L1011.3 480.5L1011.3 479L1011.3 477.5L1011.3 476L1011.4 474.5L1011.4 473L1011.4 471.5L1011.5 470L1011.6 468.5L1011.6 467L1011.7 465.5L1011.8 464L1011.9 462.5L1012 461L1012.2 459.5L1012.3 458L1012.5 456.5L1012.8 455L1013.1 453.5L1013.4 452L1013.8 450.5L1014.2 449L1014.6 447.5L1015.1 446L1015.6 444.5L1016.1 443L1016.6 441.5L1017.2 440L1017.7 438.5L1018.2 437L1018.7 435.5L1019.3 434L1019.8 432.5L1020.2 431L1020.7 429.5L1021.1 428L1021.6 426.5L1022 425L1022.3 423.5L1022.7 422L1023 420.5L1023.3 419L1023.6 417.5L1023.8 416L1024 414.5L1024.2 413L1024.4 411.5L1024.5 410L1024.7 408.5L1024.8 407L1024.9 405.5L1025 404L1025.1 402.5Z" fill="#F5C6C8"/>
<path d="M1056.2 519.1L1056.5 520L1056.7 520.9L1057 521.8L1057.4 522.7L1058.1 523.7L1058.9 524.6L1060 525.5L1061.3 526.4L1062.7 527.3L1064.3 528.2L1065.8 529.2L1067.2 530.1L1068.3 531L1069 531.9L1069.2 532.8L1069.2 533.7L1068.8 534.7L1068.2 535.6L1067.4 536.5L1066.6 537.4L1065.7 538.3L1064.8 539.2L1064.1 540.2L1063.5 541.1L1063 542L1062.6 542.9L1062.3 543.8L1062.1 544.7L1062 545.7L1061.9 546.6L1061.7 547.5L1061.5 548.4L1061.3 549.3L1060.9 550.2L1060.4 551.2L1059.9 552.1L1059.4 553L1058.9 553.9L1058.4 554.8L1057.9 555.7L1057.5 556.7L1057.2 557.6L1057 558.5L1056.7 559.4L1056.6 560.3L1056.5 561.2L1056.2 562.2L1056 561.2L1055.9 560.3L1055.8 559.4L1055.5 558.5L1055.3 557.6L1055 556.7L1054.6 555.7L1054.1 554.8L1053.6 553.9L1053.1 553L1052.6 552.1L1052.1 551.2L1051.6 550.2L1051.2 549.3L1051 548.4L1050.8 547.5L1050.6 546.6L1050.5 545.7L1050.4 544.7L1050.2 543.8L1049.9 542.9L1049.5 542L1049 541.1L1048.4 540.2L1047.7 539.2L1046.8 538.3L1045.9 537.4L1045.1 536.5L1044.3 535.6L1043.7 534.7L1043.3 533.7L1043.3 532.8L1043.5 531.9L1044.2 531L1045.3 530.1L1046.7 529.2L1048.2 528.2L1049.8 527.3L1051.2 526.4L1052.5 525.5L1053.6 524.6L1054.4 523.7L1055.1 522.7L1055.5 521.8L1055.8 520.9L1056 520Z" fill="#B8BCE4"/>
<path d="M1056.25,451.25 Q1058.50,455.88 1060.75,460.50 Q1058.50,465.12 1056.25,469.75 Q1054.00,465.12 1051.75,460.50 Q1054.00,455.88 1056.25,451.25 Z" fill="#B8BCE4"/>
<path d="M1113 398.5L1113.4 400L1113.5 401.5L1113.6 403L1113.7 404.5L1113.8 406L1113.9 407.5L1114.1 409L1114.3 410.5L1114.5 412L1114.7 413.5L1115 415L1115.2 416.5L1115.5 418L1115.9 419.5L1116.2 421L1116.6 422.5L1117 424L1117.5 425.5L1117.9 427L1118.4 428.5L1118.9 430L1119.4 431.5L1119.9 433L1120.5 434.5L1121 436L1121.5 437.5L1122 439L1122.6 440.5L1123.1 442L1123.5 443.5L1124 445L1124.4 446.5L1124.8 448L1125.1 449.5L1125.4 451L1125.7 452.5L1125.9 454L1126.1 455.5L1126.2 457L1126.4 458.5L1126.5 460L1126.6 461.5L1126.6 463L1126.7 464.5L1126.8 466L1126.8 467.5L1126.9 469L1126.9 470.5L1126.9 472L1127 473.5L1127 475L1127 476.5L1127 478L1127 479.5L1127 481L1127 482.5L1127 484L1127 485.5L1127 487L1127 488.5L1127 490L1127 491.5L1127 493L1127 494.5L1127 496L1127 497.5L1127 499L1127 500.5L1127 502L1127 503.5L1126.9 505L1126.9 506.5L1126.9 508L1126.8 509.5L1126.8 511L1126.7 512.5L1126.7 514L1126.6 515.5L1126.5 517L1126.4 518.5L1126.3 520L1126.1 521.5L1126 523L1125.8 524.5L1125.5 526L1125.2 527.5L1124.9 529L1124.5 530.5L1124 532L1123.6 533.5L1123.1 535L1122.5 536.5L1122 538L1121.4 539.5L1120.9 541L1120.3 542.5L1119.8 544L1119.2 545.5L1118.7 547L1118.2 548.5L1117.7 550L1117.2 551.5L1116.8 553L1116.4 554.5L1116 556L1115.6 557.5L1115.3 559L1115 560.5L1114.7 562L1114.5 563.5L1114.3 565L1114.1 566.5L1113.9 568L1113.8 569.5L1113.7 571L1113.6 572.5L1113.5 574L1113 575.5L1112.5 574L1112.4 572.5L1112.3 571L1112.2 569.5L1112.1 568L1111.9 566.5L1111.7 565L1111.5 563.5L1111.3 562L1111 560.5L1110.7 559L1110.4 557.5L1110 556L1109.6 554.5L1109.2 553L1108.8 551.5L1108.3 550L1107.8 548.5L1107.3 547L1106.8 545.5L1106.2 544L1105.7 542.5L1105.1 541L1104.6 539.5L1104 538L1103.5 536.5L1102.9 535L1102.4 533.5L1102 532L1101.5 530.5L1101.1 529L1100.8 527.5L1100.5 526L1100.2 524.5L1100 523L1099.9 521.5L1099.7 520L1099.6 518.5L1099.5 517L1099.4 515.5L1099.3 514L1099.3 512.5L1099.2 511L1099.2 509.5L1099.1 508L1099.1 506.5L1099.1 505L1099 503.5L1099 502L1099 500.5L1099 499L1099 497.5L1099 496L1099 494.5L1099 493L1099 491.5L1099 490L1099 488.5L1099 487L1099 485.5L1099 484L1099 482.5L1099 481L1099 479.5L1099 478L1099 476.5L1099 475L1099 473.5L1099.1 472L1099.1 470.5L1099.1 469L1099.2 467.5L1099.2 466L1099.3 464.5L1099.4 463L1099.4 461.5L1099.5 460L1099.6 458.5L1099.8 457L1099.9 455.5L1100.1 454L1100.3 452.5L1100.6 451L1100.9 449.5L1101.2 448L1101.6 446.5L1102 445L1102.5 443.5L1102.9 442L1103.4 440.5L1104 439L1104.5 437.5L1105 436L1105.5 434.5L1106.1 433L1106.6 431.5L1107.1 430L1107.6 428.5L1108.1 427L1108.5 425.5L1109 424L1109.4 422.5L1109.8 421L1110.1 419.5L1110.5 418L1110.8 416.5L1111 415L1111.3 413.5L1111.5 412L1111.7 410.5L1111.9 409L1112.1 407.5L1112.2 406L1112.3 404.5L1112.4 403L1112.5 401.5L1112.6 400Z" fill="#F5C6C8"/>
<path d="M1143.8 499.8L1144.2 501.2L1144.5 502.7L1145 504.2L1145.8 505.7L1146.8 507.1L1148.1 508.6L1149.7 510.1L1151.4 511.6L1153.2 513L1154.7 514.5L1155.9 516L1156.6 517.4L1156.9 518.9L1157.1 520.4L1157.3 521.9L1157.4 523.3L1157.4 524.8L1157.5 526.3L1157.5 527.7L1157.5 529.2L1157.5 530.7L1157.5 532.2L1157.5 533.6L1157.5 535.1L1157.5 536.6L1157.4 538.1L1157.3 539.5L1157.2 541L1157 542.5L1156.8 543.9L1156.4 545.4L1155.8 546.9L1154.9 548.4L1153.9 549.8L1152.7 551.3L1151.5 552.8L1150.3 554.2L1149.1 555.7L1148 557.2L1147 558.7L1146.2 560.1L1145.6 561.6L1145 563.1L1144.6 564.6L1144.4 566L1144.1 567.5L1143.8 569L1143.4 567.5L1143.1 566L1142.9 564.6L1142.5 563.1L1141.9 561.6L1141.3 560.1L1140.5 558.7L1139.5 557.2L1138.4 555.7L1137.2 554.2L1136 552.8L1134.8 551.3L1133.6 549.8L1132.6 548.4L1131.7 546.9L1131.1 545.4L1130.7 543.9L1130.5 542.5L1130.3 541L1130.2 539.5L1130.1 538.1L1130 536.6L1130 535.1L1130 533.6L1130 532.2L1130 530.7L1130 529.2L1130 527.7L1130 526.3L1130.1 524.8L1130.1 523.3L1130.2 521.9L1130.4 520.4L1130.6 518.9L1130.9 517.4L1131.6 516L1132.8 514.5L1134.3 513L1136.1 511.6L1137.8 510.1L1139.4 508.6L1140.7 507.1L1141.7 505.7L1142.5 504.2L1143 502.7L1143.3 501.2Z" fill="#B8BCE4"/>
<path d="M1143.75,436.75 Q1146.00,445.25 1148.25,453.75 Q1146.00,462.25 1143.75,470.75 Q1141.50,462.25 1139.25,453.75 Q1141.50,445.25 1143.75,436.75 Z" fill="#B8BCE4"/>
<path d="M1201.8 547.5 Q1210.3 554.5 1216 565 Q1210.3 574 1201.8 580 Q1193.2 574 1187.5 565 Q1193.2 554.5 1201.8 547.5Z" fill="#F5C6C8"/>
<path d="M1231.8 555L1232.1 555.8L1232.4 556.5L1232.7 557.3L1233.2 558.1L1233.8 558.9L1234.5 559.6L1235.5 560.4L1236.6 561.2L1237.9 562L1239.2 562.8L1240.5 563.5L1241.8 564.3L1242.8 565.1L1243.6 565.9L1244.1 566.6L1244.4 567.4L1244.7 568.2L1244.8 569L1244.9 569.8L1245 570.5L1245 571.3L1245 572.1L1245 572.9L1245 573.6L1245 574.4L1245 575.2L1245 576L1244.9 576.8L1244.9 577.5L1244.8 578.3L1244.6 579.1L1244.3 579.9L1244 580.6L1243.3 581.4L1242.4 582.2L1241.2 583L1239.8 583.8L1238.4 584.5L1237.1 585.3L1235.8 586.1L1234.8 586.9L1233.9 587.6L1233.2 588.4L1232.7 589.2L1232.4 590L1232.1 590.8L1231.8 591.5L1231.4 590.8L1231.1 590L1230.8 589.2L1230.3 588.4L1229.6 587.6L1228.7 586.9L1227.7 586.1L1226.4 585.3L1225.1 584.5L1223.7 583.8L1222.3 583L1221.1 582.2L1220.2 581.4L1219.5 580.6L1219.2 579.9L1218.9 579.1L1218.7 578.3L1218.6 577.5L1218.6 576.8L1218.5 576L1218.5 575.2L1218.5 574.4L1218.5 573.6L1218.5 572.9L1218.5 572.1L1218.5 571.3L1218.5 570.5L1218.6 569.8L1218.7 569L1218.8 568.2L1219.1 567.4L1219.4 566.6L1219.9 565.9L1220.7 565.1L1221.7 564.3L1223 563.5L1224.3 562.8L1225.6 562L1226.9 561.2L1228 560.4L1229 559.6L1229.7 558.9L1230.3 558.1L1230.8 557.3L1231.1 556.5L1231.4 555.8Z" fill="#B8BCE4"/>
<path d="M1289.2 447.2L1289.7 448.8L1289.8 450.2L1289.8 451.8L1289.9 453.2L1289.9 454.8L1290 456.2L1290 457.8L1290.1 459.2L1290.2 460.8L1290.3 462.2L1290.3 463.8L1290.4 465.2L1290.5 466.8L1290.6 468.2L1290.7 469.8L1290.9 471.2L1291 472.8L1291.1 474.2L1291.2 475.8L1291.4 477.2L1291.5 478.8L1291.7 480.2L1291.9 481.8L1292 483.2L1292.2 484.8L1292.4 486.2L1292.6 487.8L1292.8 489.2L1293 490.8L1293.2 492.2L1293.5 493.8L1293.7 495.2L1294 496.8L1294.2 498.2L1294.5 499.8L1294.7 501.2L1295 502.8L1295.3 504.2L1295.6 505.8L1295.8 507.2L1296.1 508.8L1296.4 510.2L1296.7 511.8L1297 513.2L1297.3 514.8L1297.6 516.2L1297.9 517.8L1298.2 519.2L1298.6 520.8L1298.9 522.2L1299.2 523.8L1299.5 525.2L1299.7 526.8L1300 528.2L1300.3 529.8L1300.6 531.2L1300.9 532.8L1301.1 534.2L1301.4 535.8L1301.6 537.2L1301.8 538.8L1302 540.2L1302.2 541.8L1302.4 543.2L1302.6 544.8L1302.8 546.2L1302.9 547.8L1303.1 549.2L1303.2 550.8L1303.3 552.2L1303.3 553.8L1303.4 555.2L1303.5 556.8L1303.5 558.2L1303.5 559.8L1303.5 561.2L1303.4 562.8L1303.4 564.2L1303.3 565.8L1303.1 567.2L1303 568.8L1302.8 570.2L1302.5 571.8L1302.3 573.2L1302 574.8L1301.7 576.2L1301.4 577.8L1301 579.2L1300.7 580.8L1300.3 582.2L1299.9 583.8L1299.5 585.2L1299.1 586.8L1298.7 588.2L1298.3 589.8L1297.9 591.2L1297.5 592.8L1297.1 594.2L1296.7 595.8L1296.3 597.2L1295.9 598.8L1295.5 600.2L1295.1 601.8L1294.7 603.2L1294.4 604.8L1294 606.2L1293.7 607.8L1293.4 609.2L1293.1 610.8L1292.8 612.2L1292.5 613.8L1292.2 615.2L1292 616.8L1291.8 618.2L1291.5 619.8L1291.3 621.2L1291.1 622.8L1291 624.2L1290.8 625.8L1290.7 627.2L1289.2 628.8L1287.8 627.2L1287.7 625.8L1287.5 624.2L1287.4 622.8L1287.2 621.2L1287 619.8L1286.7 618.2L1286.5 616.8L1286.3 615.2L1286 613.8L1285.7 612.2L1285.4 610.8L1285.1 609.2L1284.8 607.8L1284.5 606.2L1284.1 604.8L1283.8 603.2L1283.4 601.8L1283 600.2L1282.6 598.8L1282.2 597.2L1281.8 595.8L1281.4 594.2L1281 592.8L1280.6 591.2L1280.2 589.8L1279.8 588.2L1279.4 586.8L1279 585.2L1278.6 583.8L1278.2 582.2L1277.8 580.8L1277.5 579.2L1277.1 577.8L1276.8 576.2L1276.5 574.8L1276.2 573.2L1276 571.8L1275.7 570.2L1275.5 568.8L1275.4 567.2L1275.2 565.8L1275.1 564.2L1275.1 562.8L1275 561.2L1275 559.8L1275 558.2L1275 556.8L1275.1 555.2L1275.2 553.8L1275.2 552.2L1275.3 550.8L1275.4 549.2L1275.6 547.8L1275.7 546.2L1275.9 544.8L1276.1 543.2L1276.3 541.8L1276.5 540.2L1276.7 538.8L1276.9 537.2L1277.1 535.8L1277.4 534.2L1277.6 532.8L1277.9 531.2L1278.2 529.8L1278.5 528.2L1278.8 526.8L1279 525.2L1279.3 523.8L1279.6 522.2L1279.9 520.8L1280.3 519.2L1280.6 517.8L1280.9 516.2L1281.2 514.8L1281.5 513.2L1281.8 511.8L1282.1 510.2L1282.4 508.8L1282.7 507.2L1282.9 505.8L1283.2 504.2L1283.5 502.8L1283.8 501.2L1284 499.8L1284.3 498.2L1284.5 496.8L1284.8 495.2L1285 493.8L1285.3 492.2L1285.5 490.8L1285.7 489.2L1285.9 487.8L1286.1 486.2L1286.3 484.8L1286.5 483.2L1286.6 481.8L1286.8 480.2L1287 478.8L1287.1 477.2L1287.3 475.8L1287.4 474.2L1287.5 472.8L1287.6 471.2L1287.8 469.8L1287.9 468.2L1288 466.8L1288.1 465.2L1288.2 463.8L1288.2 462.2L1288.3 460.8L1288.4 459.2L1288.5 457.8L1288.5 456.2L1288.6 454.8L1288.6 453.2L1288.7 451.8L1288.7 450.2L1288.8 448.8Z" fill="#F5C6C8"/>
<path d="M1319.5 562 Q1327.3 564.2 1332.5 567.5 Q1327.3 570.8 1319.5 573 Q1311.7 570.8 1306.5 567.5 Q1311.7 564.2 1319.5 562Z" fill="#B8BCE4"/>
<path d="M1319.50,495.75 Q1321.75,497.25 1324.00,498.75 Q1321.75,500.25 1319.50,501.75 Q1317.25,500.25 1315.00,498.75 Q1317.25,497.25 1319.50,495.75 Z" fill="#B8BCE4"/>
<path d="M1319.50,580.00 Q1321.75,581.50 1324.00,583.00 Q1321.75,584.50 1319.50,586.00 Q1317.25,584.50 1315.00,583.00 Q1317.25,581.50 1319.50,580.00 Z" fill="#B8BCE4"/>
<path d="M1377 446L1377.4 447.5L1377.5 449L1377.6 450.5L1377.7 452L1377.8 453.5L1377.9 455L1378.1 456.5L1378.3 458L1378.5 459.5L1378.7 461L1378.9 462.5L1379.2 464L1379.4 465.5L1379.7 467L1380.1 468.5L1380.4 470L1380.8 471.5L1381.2 473L1381.6 474.5L1382.1 476L1382.5 477.5L1383 479L1383.5 480.5L1384 482L1384.6 483.5L1385.1 485L1385.6 486.5L1386.1 488L1386.6 489.5L1387.1 491L1387.6 492.5L1388.1 494L1388.5 495.5L1388.9 497L1389.3 498.5L1389.6 500L1389.9 501.5L1390.2 503L1390.4 504.5L1390.5 506L1390.7 507.5L1390.8 509L1390.9 510.5L1391 512L1391.1 513.5L1391.2 515L1391.2 516.5L1391.3 518L1391.3 519.5L1391.4 521L1391.4 522.5L1391.4 524L1391.5 525.5L1391.5 527L1391.5 528.5L1391.5 530L1391.5 531.5L1391.5 533L1391.5 534.5L1391.5 536L1391.5 537.5L1391.5 539L1391.5 540.5L1391.5 542L1391.5 543.5L1391.5 545L1391.5 546.5L1391.5 548L1391.5 549.5L1391.5 551L1391.5 552.5L1391.5 554L1391.5 555.5L1391.4 557L1391.4 558.5L1391.4 560L1391.4 561.5L1391.3 563L1391.3 564.5L1391.2 566L1391.2 567.5L1391.1 569L1391 570.5L1390.9 572L1390.8 573.5L1390.6 575L1390.5 576.5L1390.3 578L1390.1 579.5L1389.9 581L1389.6 582.5L1389.3 584L1389 585.5L1388.7 587L1388.3 588.5L1387.9 590L1387.5 591.5L1387.1 593L1386.6 594.5L1386.2 596L1385.7 597.5L1385.3 599L1384.8 600.5L1384.4 602L1383.9 603.5L1383.5 605L1383 606.5L1382.6 608L1382.2 609.5L1381.8 611L1381.4 612.5L1381 614L1380.7 615.5L1380.4 617L1380.1 618.5L1379.8 620L1379.5 621.5L1379.2 623L1379 624.5L1378.8 626L1378.6 627.5L1378.4 629L1378.3 630.5L1378.1 632L1378 633.5L1377.8 635L1377.7 636.5L1377.6 638L1377.6 639.5L1377.5 641L1377.4 642.5L1377 644L1376.6 642.5L1376.5 641L1376.4 639.5L1376.4 638L1376.3 636.5L1376.2 635L1376 633.5L1375.9 632L1375.7 630.5L1375.6 629L1375.4 627.5L1375.2 626L1375 624.5L1374.8 623L1374.5 621.5L1374.2 620L1373.9 618.5L1373.6 617L1373.3 615.5L1373 614L1372.6 612.5L1372.2 611L1371.8 609.5L1371.4 608L1371 606.5L1370.5 605L1370.1 603.5L1369.6 602L1369.2 600.5L1368.7 599L1368.3 597.5L1367.8 596L1367.4 594.5L1366.9 593L1366.5 591.5L1366.1 590L1365.7 588.5L1365.3 587L1365 585.5L1364.7 584L1364.4 582.5L1364.1 581L1363.9 579.5L1363.7 578L1363.5 576.5L1363.4 575L1363.2 573.5L1363.1 572L1363 570.5L1362.9 569L1362.8 567.5L1362.8 566L1362.7 564.5L1362.7 563L1362.6 561.5L1362.6 560L1362.6 558.5L1362.6 557L1362.5 555.5L1362.5 554L1362.5 552.5L1362.5 551L1362.5 549.5L1362.5 548L1362.5 546.5L1362.5 545L1362.5 543.5L1362.5 542L1362.5 540.5L1362.5 539L1362.5 537.5L1362.5 536L1362.5 534.5L1362.5 533L1362.5 531.5L1362.5 530L1362.5 528.5L1362.5 527L1362.5 525.5L1362.6 524L1362.6 522.5L1362.6 521L1362.7 519.5L1362.7 518L1362.8 516.5L1362.8 515L1362.9 513.5L1363 512L1363.1 510.5L1363.2 509L1363.3 507.5L1363.5 506L1363.6 504.5L1363.8 503L1364.1 501.5L1364.4 500L1364.7 498.5L1365.1 497L1365.5 495.5L1365.9 494L1366.4 492.5L1366.9 491L1367.4 489.5L1367.9 488L1368.4 486.5L1368.9 485L1369.4 483.5L1370 482L1370.5 480.5L1371 479L1371.5 477.5L1371.9 476L1372.4 474.5L1372.8 473L1373.2 471.5L1373.6 470L1373.9 468.5L1374.3 467L1374.6 465.5L1374.8 464L1375.1 462.5L1375.3 461L1375.5 459.5L1375.7 458L1375.9 456.5L1376.1 455L1376.2 453.5L1376.3 452L1376.4 450.5L1376.5 449L1376.6 447.5Z" fill="#F5C6C8"/>
<path d="M1407.5 576.2 Q1415.3 577.8 1420.5 580 Q1415.3 582.2 1407.5 583.8 Q1399.7 582.2 1394.5 580 Q1399.7 577.8 1407.5 576.2Z" fill="#B8BCE4"/>
<path d="M1407.50,506.25 Q1409.25,507.00 1411.00,507.75 Q1409.25,508.50 1407.50,509.25 Q1405.75,508.50 1404.00,507.75 Q1405.75,507.00 1407.50,506.25 Z" fill="#B8BCE4"/>
<path d="M1464.2 528.2 Q1472.8 529.5 1478.5 531.2 Q1472.8 533 1464.2 534.2 Q1455.7 533 1450 531.2 Q1455.7 529.5 1464.2 528.2Z" fill="#F5C6C8"/>
<path d="M1464.25,536.25 Q1466.38,537.12 1468.50,538.00 Q1466.38,538.88 1464.25,539.75 Q1462.12,538.88 1460.00,538.00 Q1462.12,537.12 1464.25,536.25 Z" fill="#F5C6C8"/>
<path d="M1495 529.5 Q1502.2 530.8 1507 532.8 Q1502.2 534.9 1495 536.2 Q1487.8 534.9 1483 532.8 Q1487.8 530.8 1495 529.5Z" fill="#B8BCE4"/>
<path d="M1495.00,535.00 Q1496.50,536.00 1498.00,537.00 Q1496.50,538.00 1495.00,539.00 Q1493.50,538.00 1492.00,537.00 Q1493.50,536.00 1495.00,535.00 Z" fill="#B8BCE4"/>
<path d="M1552.5 452.2L1552.9 453.8L1553.1 455.2L1553.3 456.8L1553.5 458.2L1553.8 459.8L1554.1 461.2L1554.6 462.8L1555.1 464.2L1555.6 465.8L1556.3 467.2L1557 468.8L1557.8 470.2L1558.7 471.8L1559.5 473.2L1560.5 474.8L1561.4 476.2L1562.3 477.8L1563.1 479.2L1563.9 480.8L1564.5 482.2L1565.1 483.8L1565.5 485.2L1565.8 486.8L1566 488.2L1566.2 489.8L1566.3 491.2L1566.4 492.8L1566.5 494.2L1566.6 495.8L1566.7 497.2L1566.7 498.8L1566.7 500.2L1566.7 501.8L1566.7 503.2L1566.7 504.8L1566.7 506.2L1566.7 507.8L1566.8 509.2L1566.7 510.8L1566.7 512.2L1566.7 513.8L1566.7 515.2L1566.7 516.8L1566.7 518.2L1566.7 519.8L1566.7 521.2L1566.6 522.8L1566.5 524.2L1566.4 525.8L1566.3 527.2L1566.2 528.8L1566 530.2L1565.8 531.8L1565.6 533.2L1565.2 534.8L1564.8 536.2L1564.3 537.8L1563.7 539.2L1563.1 540.8L1562.4 542.2L1561.7 543.8L1561 545.2L1560.2 546.8L1559.5 548.2L1558.8 549.8L1558.1 551.2L1557.4 552.8L1556.8 554.2L1556.2 555.8L1555.7 557.2L1555.2 558.8L1554.8 560.2L1554.4 561.8L1554.1 563.2L1553.8 564.8L1553.6 566.2L1553.4 567.8L1553.2 569.2L1553 570.8L1552.9 572.2L1552.5 573.8L1552.1 572.2L1552 570.8L1551.8 569.2L1551.6 567.8L1551.4 566.2L1551.2 564.8L1550.9 563.2L1550.6 561.8L1550.2 560.2L1549.8 558.8L1549.3 557.2L1548.8 555.8L1548.2 554.2L1547.6 552.8L1546.9 551.2L1546.2 549.8L1545.5 548.2L1544.8 546.8L1544 545.2L1543.3 543.8L1542.6 542.2L1541.9 540.8L1541.3 539.2L1540.7 537.8L1540.2 536.2L1539.8 534.8L1539.4 533.2L1539.2 531.8L1539 530.2L1538.8 528.8L1538.7 527.2L1538.6 525.8L1538.5 524.2L1538.4 522.8L1538.3 521.2L1538.3 519.8L1538.3 518.2L1538.3 516.8L1538.3 515.2L1538.3 513.8L1538.3 512.2L1538.3 510.8L1538.2 509.2L1538.3 507.8L1538.3 506.2L1538.3 504.8L1538.3 503.2L1538.3 501.8L1538.3 500.2L1538.3 498.8L1538.3 497.2L1538.4 495.8L1538.5 494.2L1538.6 492.8L1538.7 491.2L1538.8 489.8L1539 488.2L1539.2 486.8L1539.5 485.2L1539.9 483.8L1540.5 482.2L1541.1 480.8L1541.9 479.2L1542.7 477.8L1543.6 476.2L1544.5 474.8L1545.5 473.2L1546.3 471.8L1547.2 470.2L1548 468.8L1548.7 467.2L1549.4 465.8L1549.9 464.2L1550.4 462.8L1550.9 461.2L1551.2 459.8L1551.5 458.2L1551.7 456.8L1551.9 455.2L1552.1 453.8Z" fill="#F5C6C8"/>
<path d="M1583 526.2 Q1591.1 529 1596.5 533 Q1591.1 537.2 1583 540 Q1574.9 537.2 1569.5 533 Q1574.9 529 1583 526.2Z" fill="#B8BCE4"/>
<path d="M1583.00,487.25 Q1585.12,489.00 1587.25,490.75 Q1585.12,492.50 1583.00,494.25 Q1580.88,492.50 1578.75,490.75 Q1580.88,489.00 1583.00,487.25 Z" fill="#B8BCE4"/>
<path d="M1727.8 459.8L1728.2 461.2L1728.3 462.8L1728.4 464.2L1728.6 465.8L1728.8 467.2L1729.1 468.8L1729.4 470.2L1729.8 471.8L1730.2 473.2L1730.6 474.8L1731.2 476.2L1731.7 477.8L1732.4 479.2L1733.1 480.8L1733.8 482.2L1734.5 483.8L1735.3 485.2L1736.1 486.8L1736.9 488.2L1737.6 489.8L1738.3 491.2L1739 492.8L1739.6 494.2L1740.1 495.8L1740.5 497.2L1740.9 498.8L1741.1 500.2L1741.3 501.8L1741.5 503.2L1741.6 504.8L1741.7 506.2L1741.8 507.8L1741.9 509.2L1741.9 510.8L1741.9 512.2L1742 513.8L1742 515.2L1742 516.8L1742 518.2L1742 519.8L1742 521.2L1742 522.8L1742 524.2L1742 525.8L1742 527.2L1742 528.8L1742 530.2L1742 531.8L1741.9 533.2L1741.9 534.8L1741.9 536.2L1741.8 537.8L1741.7 539.2L1741.6 540.8L1741.5 542.2L1741.3 543.8L1741.1 545.2L1740.9 546.8L1740.6 548.2L1740.3 549.8L1739.9 551.2L1739.5 552.8L1739 554.2L1738.5 555.8L1738 557.2L1737.4 558.8L1736.8 560.2L1736.2 561.8L1735.6 563.2L1735 564.8L1734.4 566.2L1733.8 567.8L1733.3 569.2L1732.7 570.8L1732.2 572.2L1731.7 573.8L1731.3 575.2L1730.8 576.8L1730.5 578.2L1730.1 579.8L1729.8 581.2L1729.5 582.8L1729.2 584.2L1729 585.8L1728.8 587.2L1728.6 588.8L1728.5 590.2L1728.4 591.8L1728.3 593.2L1728.2 594.8L1727.8 596.2L1727.3 594.8L1727.2 593.2L1727.1 591.8L1727 590.2L1726.9 588.8L1726.7 587.2L1726.5 585.8L1726.3 584.2L1726 582.8L1725.7 581.2L1725.4 579.8L1725 578.2L1724.7 576.8L1724.2 575.2L1723.8 573.8L1723.3 572.2L1722.8 570.8L1722.2 569.2L1721.7 567.8L1721.1 566.2L1720.5 564.8L1719.9 563.2L1719.3 561.8L1718.7 560.2L1718.1 558.8L1717.5 557.2L1717 555.8L1716.5 554.2L1716 552.8L1715.6 551.2L1715.2 549.8L1714.9 548.2L1714.6 546.8L1714.4 545.2L1714.2 543.8L1714 542.2L1713.9 540.8L1713.8 539.2L1713.7 537.8L1713.6 536.2L1713.6 534.8L1713.6 533.2L1713.5 531.8L1713.5 530.2L1713.5 528.8L1713.5 527.2L1713.5 525.8L1713.5 524.2L1713.5 522.8L1713.5 521.2L1713.5 519.8L1713.5 518.2L1713.5 516.8L1713.5 515.2L1713.5 513.8L1713.6 512.2L1713.6 510.8L1713.6 509.2L1713.7 507.8L1713.8 506.2L1713.9 504.8L1714 503.2L1714.2 501.8L1714.4 500.2L1714.6 498.8L1715 497.2L1715.4 495.8L1715.9 494.2L1716.5 492.8L1717.2 491.2L1717.9 489.8L1718.6 488.2L1719.4 486.8L1720.2 485.2L1721 483.8L1721.7 482.2L1722.4 480.8L1723.1 479.2L1723.8 477.8L1724.3 476.2L1724.9 474.8L1725.3 473.2L1725.7 471.8L1726.1 470.2L1726.4 468.8L1726.7 467.2L1726.9 465.8L1727.1 464.2L1727.2 462.8L1727.3 461.2Z" fill="#F5C6C8"/>
<path d="M1758.2 537.5 Q1766.5 544 1772 553.8 Q1766.5 561.7 1758.2 567 Q1750 561.7 1744.5 553.8 Q1750 544 1758.2 537.5Z" fill="#B8BCE4"/>
<path d="M1758.25,565.50 Q1760.50,569.62 1762.75,573.75 Q1760.50,577.88 1758.25,582.00 Q1756.00,577.88 1753.75,573.75 Q1756.00,569.62 1758.25,565.50 Z" fill="#B8BCE4"/>
<path d="M1758.25,495.75 Q1760.50,500.12 1762.75,504.50 Q1760.50,508.88 1758.25,513.25 Q1756.00,508.88 1753.75,504.50 Q1756.00,500.12 1758.25,495.75 Z" fill="#B8BCE4"/>
<line x1="1025.5" y1="460.8" x2="1025.5" y2="528.8" stroke="#151515" stroke-width="1.5"/>
<rect x="1022.50" y="467.50" width="5.75" height="53.25" fill="#F8888C" stroke="#151515" stroke-width="1.5"/>
<line x1="1021.8" y1="491.2" x2="1029" y2="491.2" stroke="#151515" stroke-width="2.4"/>
<line x1="1056.2" y1="530.8" x2="1056.2" y2="552" stroke="#151515" stroke-width="1.5"/>
<rect x="1053.50" y="530.75" width="5.50" height="11.75" fill="#6E9DD9" stroke="#151515" stroke-width="1.5"/>
<line x1="1052.8" y1="532" x2="1059.8" y2="532" stroke="#151515" stroke-width="2.4"/>
<line x1="1113" y1="456.2" x2="1113" y2="520" stroke="#151515" stroke-width="1.5"/>
<rect x="1110.25" y="463.25" width="5.75" height="51.00" fill="#F8888C" stroke="#151515" stroke-width="1.5"/>
<line x1="1109.5" y1="485.5" x2="1116.8" y2="485.5" stroke="#151515" stroke-width="2.4"/>
<line x1="1143.8" y1="520.8" x2="1143.8" y2="549.5" stroke="#151515" stroke-width="1.5"/>
<rect x="1141.00" y="520.75" width="5.75" height="20.75" fill="#6E9DD9" stroke="#151515" stroke-width="1.5"/>
<line x1="1140.2" y1="525.5" x2="1147.5" y2="525.5" stroke="#151515" stroke-width="2.4"/>
<line x1="1201.8" y1="556.2" x2="1201.8" y2="570.5" stroke="#151515" stroke-width="1.5"/>
<rect x="1198.25" y="562.50" width="6.00" height="6.75" fill="#F8888C" stroke="#151515" stroke-width="1.5"/>
<line x1="1197.5" y1="567" x2="1205" y2="567" stroke="#151515" stroke-width="2.4"/>
<line x1="1231.8" y1="564.5" x2="1231.8" y2="582" stroke="#151515" stroke-width="1.5"/>
<rect x="1228.75" y="568.25" width="6.00" height="10.50" fill="#6E9DD9" stroke="#151515" stroke-width="1.5"/>
<line x1="1228" y1="573.8" x2="1235.5" y2="573.8" stroke="#151515" stroke-width="2.4"/>
<line x1="1289.2" y1="502.5" x2="1289.2" y2="570.5" stroke="#151515" stroke-width="1.5"/>
<rect x="1286.00" y="521.25" width="6.00" height="43.75" fill="#F8888C" stroke="#151515" stroke-width="1.5"/>
<line x1="1285.2" y1="554.5" x2="1292.8" y2="554.5" stroke="#151515" stroke-width="2.4"/>
<line x1="1319.5" y1="565" x2="1319.5" y2="570" stroke="#151515" stroke-width="1.5"/>
<rect x="1316.25" y="565.00" width="6.50" height="5.00" fill="#2a2a2a" stroke="#151515" stroke-width="1.5"/>
<line x1="1318.3" y1="567.5" x2="1320.7" y2="567.5" stroke="#6E9DD9" stroke-width="0.6" opacity="0.7"/>
<line x1="1377" y1="505.8" x2="1377" y2="581.2" stroke="#151515" stroke-width="1.5"/>
<rect x="1374.00" y="514.25" width="5.75" height="53.50" fill="#F8888C" stroke="#151515" stroke-width="1.5"/>
<line x1="1373.2" y1="540" x2="1380.5" y2="540" stroke="#151515" stroke-width="2.4"/>
<line x1="1407.5" y1="578" x2="1407.5" y2="581.8" stroke="#151515" stroke-width="1.5"/>
<rect x="1404.50" y="578.00" width="6.50" height="3.75" fill="#2a2a2a" stroke="#151515" stroke-width="1.5"/>
<line x1="1406.3" y1="580" x2="1408.7" y2="580" stroke="#6E9DD9" stroke-width="0.6" opacity="0.7"/>
<line x1="1464.2" y1="530" x2="1464.2" y2="532.8" stroke="#151515" stroke-width="1.5"/>
<rect x="1461.25" y="530.00" width="6.25" height="2.75" fill="#2a2a2a" stroke="#151515" stroke-width="1.5"/>
<line x1="1463" y1="531.2" x2="1465.5" y2="531.2" stroke="#F8888C" stroke-width="0.6" opacity="0.7"/>
<line x1="1495" y1="531.8" x2="1495" y2="535.8" stroke="#151515" stroke-width="1.5"/>
<rect x="1492.00" y="531.75" width="6.50" height="4.00" fill="#2a2a2a" stroke="#151515" stroke-width="1.5"/>
<line x1="1493.8" y1="533" x2="1496.2" y2="533" stroke="#6E9DD9" stroke-width="0.6" opacity="0.7"/>
<line x1="1552.5" y1="490" x2="1552.5" y2="533.8" stroke="#151515" stroke-width="1.5"/>
<rect x="1549.50" y="492.00" width="5.75" height="34.50" fill="#F8888C" stroke="#151515" stroke-width="1.5"/>
<line x1="1548.8" y1="503" x2="1556" y2="503" stroke="#151515" stroke-width="2.4"/>
<line x1="1583" y1="530" x2="1583" y2="535.5" stroke="#151515" stroke-width="1.5"/>
<rect x="1580.00" y="530.00" width="6.00" height="5.50" fill="#2a2a2a" stroke="#151515" stroke-width="1.5"/>
<line x1="1581.8" y1="532.8" x2="1584.2" y2="532.8" stroke="#6E9DD9" stroke-width="0.6" opacity="0.7"/>
<line x1="1636.9" y1="587.5" x2="1643.1" y2="587.5" stroke="#151515" stroke-width="2.25" stroke-linecap="round"/>
<line x1="1667.6" y1="587.5" x2="1673.9" y2="587.5" stroke="#151515" stroke-width="2.25" stroke-linecap="round"/>
<line x1="1727.8" y1="501.8" x2="1727.8" y2="553.2" stroke="#151515" stroke-width="1.5"/>
<rect x="1725.00" y="505.25" width="5.75" height="35.00" fill="#F8888C" stroke="#151515" stroke-width="1.5"/>
<line x1="1724.2" y1="520" x2="1731.5" y2="520" stroke="#151515" stroke-width="2.4"/>
<line x1="1758.2" y1="545" x2="1758.2" y2="557.5" stroke="#151515" stroke-width="1.5"/>
<rect x="1755.25" y="546.75" width="6.50" height="10.75" fill="#6E9DD9" stroke="#151515" stroke-width="1.5"/>
<line x1="1754.5" y1="553.8" x2="1762.5" y2="553.8" stroke="#151515" stroke-width="2.4"/>
<text transform="translate(1006.15,446.20) rotate(-20)" font-size="15.8" fill="#000">p = 0.03245</text>
<text transform="translate(1091.40,446.20) rotate(-20)" font-size="15.8" fill="#000">p = 0.0465</text>
<text transform="translate(1179.40,446.20) rotate(-20)" font-size="15.8" fill="#000">p = 0.0465</text>
<text transform="translate(1270.65,446.20) rotate(-20)" font-size="15.8" fill="#000">p = 0.1201</text>
<text transform="translate(1357.40,446.20) rotate(-20)" font-size="15.8" fill="#000">p = 0.0660</text>
<text transform="translate(1445.65,446.20) rotate(-20)" font-size="15.8" fill="#000">p = 0.0660</text>
<text transform="translate(1533.15,446.20) rotate(-20)" font-size="15.8" fill="#000">p = 0.0898</text>
<text transform="translate(1621.40,446.20) rotate(-20)" font-size="15.8" fill="#000">p = 0.0043</text>
<text transform="translate(1708.90,446.20) rotate(-20)" font-size="15.8" fill="#000">p = 0.0324</text>
<line x1="988.25" y1="780.00" x2="988.25" y2="1040.45" stroke="#000" stroke-width="2.5" stroke-linecap="butt"/>
<line x1="987.00" y1="1039.20" x2="1788.25" y2="1039.20" stroke="#000" stroke-width="2.5" stroke-linecap="butt"/>
<line x1="984.25" y1="786.25" x2="987.25" y2="786.25" stroke="#000" stroke-width="1.2" stroke-linecap="butt"/>
<text x="980.00" y="794.25" font-size="22.4" text-anchor="end" fill="#000">15</text>
<line x1="984.25" y1="843.75" x2="987.25" y2="843.75" stroke="#000" stroke-width="1.2" stroke-linecap="butt"/>
<text x="980.00" y="851.75" font-size="22.4" text-anchor="end" fill="#000">10</text>
<line x1="984.25" y1="901.25" x2="987.25" y2="901.25" stroke="#000" stroke-width="1.2" stroke-linecap="butt"/>
<text x="980.00" y="909.25" font-size="22.4" text-anchor="end" fill="#000">5</text>
<line x1="984.25" y1="958.75" x2="987.25" y2="958.75" stroke="#000" stroke-width="1.2" stroke-linecap="butt"/>
<text x="980.00" y="966.75" font-size="22.4" text-anchor="end" fill="#000">0</text>
<line x1="984.25" y1="1016.25" x2="987.25" y2="1016.25" stroke="#000" stroke-width="1.2" stroke-linecap="butt"/>
<text x="980.00" y="1024.25" font-size="22.4" text-anchor="end" fill="#000">−5</text>
<line x1="1017.40" y1="1040.20" x2="1017.40" y2="1043.20" stroke="#000" stroke-width="1.2" stroke-linecap="butt"/>
<text transform="translate(1028.40,1058.20) rotate(-50)" font-size="22.3" text-anchor="end" fill="#000">C4:0</text>
<line x1="1066.86" y1="1040.20" x2="1066.86" y2="1043.20" stroke="#000" stroke-width="1.2" stroke-linecap="butt"/>
<text transform="translate(1077.86,1058.20) rotate(-50)" font-size="22.3" text-anchor="end" fill="#000">C6:0</text>
<line x1="1116.32" y1="1040.20" x2="1116.32" y2="1043.20" stroke="#000" stroke-width="1.2" stroke-linecap="butt"/>
<text transform="translate(1127.32,1058.20) rotate(-50)" font-size="22.3" text-anchor="end" fill="#000">C8:0</text>
<line x1="1165.78" y1="1040.20" x2="1165.78" y2="1043.20" stroke="#000" stroke-width="1.2" stroke-linecap="butt"/>
<text transform="translate(1176.78,1058.20) rotate(-50)" font-size="22.3" text-anchor="end" fill="#000">C10:0</text>
<line x1="1215.24" y1="1040.20" x2="1215.24" y2="1043.20" stroke="#000" stroke-width="1.2" stroke-linecap="butt"/>
<text transform="translate(1226.24,1058.20) rotate(-50)" font-size="22.3" text-anchor="end" fill="#000">C11:0</text>
<line x1="1264.70" y1="1040.20" x2="1264.70" y2="1043.20" stroke="#000" stroke-width="1.2" stroke-linecap="butt"/>
<text transform="translate(1275.70,1058.20) rotate(-50)" font-size="22.3" text-anchor="end" fill="#000">C12:0</text>
<line x1="1314.16" y1="1040.20" x2="1314.16" y2="1043.20" stroke="#000" stroke-width="1.2" stroke-linecap="butt"/>
<text transform="translate(1325.16,1058.20) rotate(-50)" font-size="22.3" text-anchor="end" fill="#000">C13:0</text>
<line x1="1363.62" y1="1040.20" x2="1363.62" y2="1043.20" stroke="#000" stroke-width="1.2" stroke-linecap="butt"/>
<text transform="translate(1374.62,1058.20) rotate(-50)" font-size="22.3" text-anchor="end" fill="#000">C14:0</text>
<line x1="1413.08" y1="1040.20" x2="1413.08" y2="1043.20" stroke="#000" stroke-width="1.2" stroke-linecap="butt"/>
<text transform="translate(1424.08,1058.20) rotate(-50)" font-size="22.3" text-anchor="end" fill="#000">C15:0</text>
<line x1="1462.54" y1="1040.20" x2="1462.54" y2="1043.20" stroke="#000" stroke-width="1.2" stroke-linecap="butt"/>
<text transform="translate(1473.54,1058.20) rotate(-50)" font-size="22.3" text-anchor="end" fill="#000">C16:0</text>
<line x1="1512.00" y1="1040.20" x2="1512.00" y2="1043.20" stroke="#000" stroke-width="1.2" stroke-linecap="butt"/>
<text transform="translate(1523.00,1058.20) rotate(-50)" font-size="22.3" text-anchor="end" fill="#000">C17:0</text>
<line x1="1561.46" y1="1040.20" x2="1561.46" y2="1043.20" stroke="#000" stroke-width="1.2" stroke-linecap="butt"/>
<text transform="translate(1572.46,1058.20) rotate(-50)" font-size="22.3" text-anchor="end" fill="#000">C18:0</text>
<line x1="1610.92" y1="1040.20" x2="1610.92" y2="1043.20" stroke="#000" stroke-width="1.2" stroke-linecap="butt"/>
<text transform="translate(1621.92,1058.20) rotate(-50)" font-size="22.3" text-anchor="end" fill="#000">C20:0</text>
<line x1="1660.38" y1="1040.20" x2="1660.38" y2="1043.20" stroke="#000" stroke-width="1.2" stroke-linecap="butt"/>
<text transform="translate(1671.38,1058.20) rotate(-50)" font-size="22.3" text-anchor="end" fill="#000">C21:0</text>
<line x1="1709.84" y1="1040.20" x2="1709.84" y2="1043.20" stroke="#000" stroke-width="1.2" stroke-linecap="butt"/>
<text transform="translate(1720.84,1058.20) rotate(-50)" font-size="22.3" text-anchor="end" fill="#000">C23:0</text>
<line x1="1759.30" y1="1040.20" x2="1759.30" y2="1043.20" stroke="#000" stroke-width="1.2" stroke-linecap="butt"/>
<text transform="translate(1770.30,1058.20) rotate(-50)" font-size="22.3" text-anchor="end" fill="#000">C24:0</text>
<text x="1392.80" y="1127.50" font-size="22.3" text-anchor="middle" fill="#000">Saturated fatty acid</text>
<text transform="translate(953.00,888.00) rotate(-90)" font-size="22.4" text-anchor="middle" fill="#000">log<tspan font-size="13.9" dy="4.0">2</tspan><tspan dy="-4.0">(value+1)</tspan></text>
<path d="M1008.8 917L1008.9 918.1L1009.1 919.1L1009.2 920.2L1009.5 921.2L1009.8 922.2L1010.2 923.3L1010.6 924.3L1011 925.4L1011.4 926.4L1011.6 927.4L1011.7 928.5L1011.7 929.5L1011.5 930.5L1011.2 931.6L1010.8 932.6L1010.4 933.7L1010 934.7L1009.7 935.7L1009.4 936.8L1009.2 937.8L1009 938.8L1009 939.9L1009 940.9L1009.1 942L1009.4 943L1009.8 944L1010.4 945.1L1011.3 946.1L1012.4 947.1L1013.6 948.2L1014.8 949.2L1015.9 950.3L1016.7 951.3L1017 952.3L1016.8 953.4L1016 954.4L1014.8 955.4L1013.4 956.5L1012.1 957.5L1011 958.6L1010.1 959.6L1009.5 960.6L1009.2 961.7L1009 962.7L1008.8 963.8L1008.5 962.7L1008.3 961.7L1008 960.6L1007.4 959.6L1006.5 958.6L1005.4 957.5L1004.1 956.5L1002.7 955.4L1001.5 954.4L1000.7 953.4L1000.5 952.3L1000.8 951.3L1001.6 950.3L1002.7 949.2L1003.9 948.2L1005.1 947.1L1006.2 946.1L1007.1 945.1L1007.7 944L1008.1 943L1008.4 942L1008.5 940.9L1008.5 939.9L1008.5 938.8L1008.3 937.8L1008.1 936.8L1007.8 935.7L1007.5 934.7L1007.1 933.7L1006.7 932.6L1006.3 931.6L1006 930.5L1005.8 929.5L1005.8 928.5L1005.9 927.4L1006.1 926.4L1006.5 925.4L1006.9 924.3L1007.3 923.3L1007.7 922.2L1008 921.2L1008.3 920.2L1008.4 919.1L1008.6 918.1Z" fill="#F5C6C8"/>
<path d="M1025.8 937.5 Q1029.5 942.2 1033.2 947 Q1029.5 951 1025.8 955 Q1022 951 1018.2 947 Q1022 942.2 1025.8 937.5Z" fill="#B8BCE4"/>
<path d="M1025.75,920.75 Q1026.88,922.25 1028.00,923.75 Q1026.88,925.25 1025.75,926.75 Q1024.62,925.25 1023.50,923.75 Q1024.62,922.25 1025.75,920.75 Z" fill="#B8BCE4"/>
<path d="M1058.2 946.2 Q1062.4 950.4 1066.5 954.5 Q1062.4 958.5 1058.2 962.5 Q1054.1 958.5 1050 954.5 Q1054.1 950.4 1058.2 946.2Z" fill="#F5C6C8"/>
<path d="M1058.25,906.25 Q1059.50,908.50 1060.75,910.75 Q1059.50,913.00 1058.25,915.25 Q1057.00,913.00 1055.75,910.75 Q1057.00,908.50 1058.25,906.25 Z" fill="#F5C6C8"/>
<line x1="1058.2" y1="915" x2="1058.2" y2="946.2" stroke="#F5C6C8" stroke-width="0.6" opacity="0.35"/>
<path d="M1075.5 951.2 Q1079 952.9 1082.5 954.5 Q1079 956.2 1075.5 958 Q1072 956.2 1068.5 954.5 Q1072 952.9 1075.5 951.2Z" fill="#B8BCE4"/>
<path d="M1075.50,944.25 Q1076.25,944.88 1077.00,945.50 Q1076.25,946.12 1075.50,946.75 Q1074.75,946.12 1074.00,945.50 Q1074.75,944.88 1075.50,944.25 Z" fill="#B8BCE4"/>
<path d="M1107.5 951.8 Q1111.6 952.8 1115.8 953.8 Q1111.6 955 1107.5 956.2 Q1103.4 955 1099.2 953.8 Q1103.4 952.8 1107.5 951.8Z" fill="#F5C6C8"/>
<path d="M1107.50,904.25 Q1108.75,905.25 1110.00,906.25 Q1108.75,907.25 1107.50,908.25 Q1106.25,907.25 1105.00,906.25 Q1106.25,905.25 1107.50,904.25 Z" fill="#F5C6C8"/>
<line x1="1107.5" y1="908.2" x2="1107.5" y2="951.8" stroke="#F5C6C8" stroke-width="0.6" opacity="0.35"/>
<path d="M1125 938.8 Q1128.8 943.1 1132.5 947.5 Q1128.8 949.4 1125 951.2 Q1121.2 949.4 1117.5 947.5 Q1121.2 943.1 1125 938.8Z" fill="#B8BCE4"/>
<path d="M1157.5 946.2 Q1161.6 947.8 1165.8 949.2 Q1161.6 951.9 1157.5 954.5 Q1153.4 951.9 1149.2 949.2 Q1153.4 947.8 1157.5 946.2Z" fill="#F5C6C8"/>
<path d="M1157.50,909.25 Q1158.75,910.50 1160.00,911.75 Q1158.75,913.00 1157.50,914.25 Q1156.25,913.00 1155.00,911.75 Q1156.25,910.50 1157.50,909.25 Z" fill="#F5C6C8"/>
<line x1="1157.5" y1="914.2" x2="1157.5" y2="946.2" stroke="#F5C6C8" stroke-width="0.6" opacity="0.35"/>
<path d="M1174.2 942.5 Q1178 945.6 1181.8 948.8 Q1178 951.9 1174.2 955 Q1170.5 951.9 1166.8 948.8 Q1170.5 945.6 1174.2 942.5Z" fill="#B8BCE4"/>
<path d="M1206.8 951.2 Q1210.5 952 1214.2 952.8 Q1210.5 953.6 1206.8 954.5 Q1203 953.6 1199.2 952.8 Q1203 952 1206.8 951.2Z" fill="#F5C6C8"/>
<path d="M1206.75,935.75 Q1207.62,936.38 1208.50,937.00 Q1207.62,937.62 1206.75,938.25 Q1205.88,937.62 1205.00,937.00 Q1205.88,936.38 1206.75,935.75 Z" fill="#F5C6C8"/>
<path d="M1223.8 950.5 Q1227.2 951.6 1230.8 952.8 Q1227.2 953.9 1223.8 955 Q1220.2 953.9 1216.8 952.8 Q1220.2 951.6 1223.8 950.5Z" fill="#B8BCE4"/>
<path d="M1255.8 932.5L1255.9 933.1L1255.9 933.7L1256 934.3L1256.1 934.9L1256.2 935.6L1256.3 936.2L1256.4 936.8L1256.6 937.4L1256.8 938L1257.1 938.6L1257.4 939.2L1257.7 939.8L1258.1 940.4L1258.6 941.1L1259 941.7L1259.5 942.3L1260.1 942.9L1260.6 943.5L1261.2 944.1L1261.7 944.7L1262.2 945.3L1262.7 945.9L1263.1 946.6L1263.5 947.2L1263.7 947.8L1263.9 948.4L1264 949L1264 949.6L1263.7 950.2L1263.2 950.8L1262.6 951.4L1261.8 952.1L1261 952.7L1260.1 953.3L1259.3 953.9L1258.6 954.5L1257.9 955.1L1257.4 955.7L1256.9 956.3L1256.6 956.9L1256.3 957.6L1256.1 958.2L1256 958.8L1255.9 959.4L1255.8 960L1255.6 959.4L1255.5 958.8L1255.4 958.2L1255.2 957.6L1254.9 956.9L1254.6 956.3L1254.1 955.7L1253.6 955.1L1252.9 954.5L1252.2 953.9L1251.4 953.3L1250.5 952.7L1249.7 952.1L1248.9 951.4L1248.3 950.8L1247.8 950.2L1247.5 949.6L1247.5 949L1247.6 948.4L1247.8 947.8L1248 947.2L1248.4 946.6L1248.8 945.9L1249.3 945.3L1249.8 944.7L1250.3 944.1L1250.9 943.5L1251.4 942.9L1252 942.3L1252.5 941.7L1252.9 941.1L1253.4 940.4L1253.8 939.8L1254.1 939.2L1254.4 938.6L1254.7 938L1254.9 937.4L1255.1 936.8L1255.2 936.2L1255.3 935.6L1255.4 934.9L1255.5 934.3L1255.6 933.7L1255.6 933.1Z" fill="#F5C6C8"/>
<path d="M1273 929.4L1273.1 930.1L1273.2 930.8L1273.3 931.5L1273.3 932.1L1273.4 932.8L1273.5 933.5L1273.7 934.2L1273.8 934.9L1274 935.5L1274.2 936.2L1274.5 936.9L1274.7 937.6L1275 938.2L1275.4 938.9L1275.8 939.6L1276.2 940.3L1276.6 941L1277 941.6L1277.5 942.3L1277.9 943L1278.4 943.7L1278.8 944.3L1279.2 945L1279.6 945.7L1279.9 946.4L1280.1 947.1L1280.3 947.7L1280.4 948.4L1280.5 949.1L1280.4 949.8L1280 950.4L1279.4 951.1L1278.6 951.8L1277.7 952.5L1276.8 953.2L1275.9 953.8L1275.2 954.5L1274.5 955.2L1274 955.9L1273.7 956.5L1273.4 957.2L1273.3 957.9L1273.2 958.6L1273 959.3L1272.8 958.6L1272.7 957.9L1272.6 957.2L1272.3 956.5L1272 955.9L1271.5 955.2L1270.8 954.5L1270.1 953.8L1269.2 953.2L1268.3 952.5L1267.4 951.8L1266.6 951.1L1266 950.4L1265.6 949.8L1265.5 949.1L1265.6 948.4L1265.7 947.7L1265.9 947.1L1266.1 946.4L1266.4 945.7L1266.8 945L1267.2 944.3L1267.6 943.7L1268.1 943L1268.5 942.3L1269 941.6L1269.4 941L1269.8 940.3L1270.2 939.6L1270.6 938.9L1271 938.2L1271.3 937.6L1271.5 936.9L1271.8 936.2L1272 935.5L1272.2 934.9L1272.3 934.2L1272.5 933.5L1272.6 932.8L1272.7 932.1L1272.7 931.5L1272.8 930.8L1272.9 930.1Z" fill="#B8BCE4"/>
<path d="M1305.5 952.5 Q1309.2 953.4 1313 954.2 Q1309.2 955.2 1305.5 956.2 Q1301.8 955.2 1298 954.2 Q1301.8 953.4 1305.5 952.5Z" fill="#F5C6C8"/>
<path d="M1305.50,941.75 Q1306.75,942.38 1308.00,943.00 Q1306.75,943.62 1305.50,944.25 Q1304.25,943.62 1303.00,943.00 Q1304.25,942.38 1305.50,941.75 Z" fill="#F5C6C8"/>
<path d="M1322.5 940 Q1326.2 944.6 1330 949.2 Q1326.2 954.6 1322.5 960 Q1318.8 954.6 1315 949.2 Q1318.8 944.6 1322.5 940Z" fill="#B8BCE4"/>
<path d="M1322.50,926.75 Q1323.62,928.38 1324.75,930.00 Q1323.62,931.62 1322.50,933.25 Q1321.38,931.62 1320.25,930.00 Q1321.38,928.38 1322.50,926.75 Z" fill="#B8BCE4"/>
<path d="M1354.5 795.8L1354.6 797.2L1354.6 798.8L1354.7 800.2L1354.7 801.8L1354.7 803.2L1354.7 804.8L1354.8 806.2L1354.8 807.8L1354.8 809.2L1354.9 810.8L1354.9 812.2L1354.9 813.8L1355 815.2L1355 816.8L1355.1 818.2L1355.2 819.8L1355.2 821.2L1355.3 822.8L1355.4 824.2L1355.5 825.8L1355.5 827.2L1355.6 828.8L1355.7 830.2L1355.9 831.8L1356 833.2L1356.1 834.8L1356.2 836.2L1356.3 837.8L1356.5 839.2L1356.6 840.8L1356.8 842.2L1356.9 843.8L1357.1 845.2L1357.2 846.8L1357.4 848.2L1357.6 849.8L1357.8 851.2L1357.9 852.8L1358.1 854.2L1358.3 855.8L1358.5 857.2L1358.7 858.8L1358.9 860.2L1359.1 861.8L1359.2 863.2L1359.4 864.8L1359.6 866.2L1359.8 867.8L1360 869.2L1360.1 870.8L1360.3 872.2L1360.5 873.8L1360.6 875.2L1360.8 876.8L1360.9 878.2L1361.1 879.8L1361.2 881.2L1361.3 882.8L1361.4 884.2L1361.5 885.8L1361.6 887.2L1361.7 888.8L1361.8 890.2L1361.9 891.8L1361.9 893.2L1362 894.8L1362 896.2L1362.1 897.8L1362.1 899.2L1362.1 900.8L1362.2 902.2L1362.2 903.8L1362.2 905.2L1362.2 906.8L1362.2 908.2L1362.2 909.8L1362.2 911.2L1362.2 912.8L1362.2 914.2L1362.2 915.8L1362.2 917.2L1362.2 918.8L1362.2 920.2L1362.2 921.8L1362.2 923.2L1362.2 924.8L1362.2 926.2L1362.2 927.8L1362.2 929.2L1362.2 930.8L1362.2 932.2L1362.2 933.8L1362.2 935.2L1362.2 936.8L1362.2 938.2L1362.2 939.8L1362.2 941.2L1362.1 942.8L1362.1 944.2L1362.1 945.8L1362 947.2L1362 948.8L1361.9 950.2L1361.8 951.8L1361.8 953.2L1361.7 954.8L1361.6 956.2L1361.5 957.8L1361.3 959.2L1361.2 960.8L1361 962.2L1360.8 963.8L1360.6 965.2L1360.4 966.8L1360.2 968.2L1360 969.8L1359.8 971.2L1359.5 972.8L1359.3 974.2L1359.1 975.8L1358.8 977.2L1358.6 978.8L1358.3 980.2L1358.1 981.8L1357.8 983.2L1357.6 984.8L1357.4 986.2L1357.2 987.8L1357 989.2L1356.8 990.8L1356.6 992.2L1356.4 993.8L1356.2 995.2L1356 996.8L1355.9 998.2L1355.8 999.8L1355.6 1001.2L1355.5 1002.8L1355.4 1004.2L1355.3 1005.8L1355.2 1007.2L1355.1 1008.8L1355 1010.2L1355 1011.8L1354.9 1013.2L1354.9 1014.8L1354.8 1016.2L1354.8 1017.8L1354.7 1019.2L1354.7 1020.8L1354.7 1022.2L1354.6 1023.8L1354.6 1025.2L1354.5 1026.8L1354.4 1025.2L1354.4 1023.8L1354.3 1022.2L1354.3 1020.8L1354.3 1019.2L1354.2 1017.8L1354.2 1016.2L1354.1 1014.8L1354.1 1013.2L1354 1011.8L1354 1010.2L1353.9 1008.8L1353.8 1007.2L1353.7 1005.8L1353.6 1004.2L1353.5 1002.8L1353.4 1001.2L1353.2 999.8L1353.1 998.2L1353 996.8L1352.8 995.2L1352.6 993.8L1352.4 992.2L1352.2 990.8L1352 989.2L1351.8 987.8L1351.6 986.2L1351.4 984.8L1351.2 983.2L1350.9 981.8L1350.7 980.2L1350.4 978.8L1350.2 977.2L1349.9 975.8L1349.7 974.2L1349.5 972.8L1349.2 971.2L1349 969.8L1348.8 968.2L1348.6 966.8L1348.4 965.2L1348.2 963.8L1348 962.2L1347.8 960.8L1347.7 959.2L1347.5 957.8L1347.4 956.2L1347.3 954.8L1347.2 953.2L1347.2 951.8L1347.1 950.2L1347 948.8L1347 947.2L1346.9 945.8L1346.9 944.2L1346.9 942.8L1346.8 941.2L1346.8 939.8L1346.8 938.2L1346.8 936.8L1346.8 935.2L1346.8 933.8L1346.8 932.2L1346.8 930.8L1346.8 929.2L1346.8 927.8L1346.8 926.2L1346.8 924.8L1346.8 923.2L1346.8 921.8L1346.8 920.2L1346.8 918.8L1346.8 917.2L1346.8 915.8L1346.8 914.2L1346.8 912.8L1346.8 911.2L1346.8 909.8L1346.8 908.2L1346.8 906.8L1346.8 905.2L1346.8 903.8L1346.8 902.2L1346.9 900.8L1346.9 899.2L1346.9 897.8L1347 896.2L1347 894.8L1347.1 893.2L1347.1 891.8L1347.2 890.2L1347.3 888.8L1347.4 887.2L1347.5 885.8L1347.6 884.2L1347.7 882.8L1347.8 881.2L1347.9 879.8L1348.1 878.2L1348.2 876.8L1348.4 875.2L1348.5 873.8L1348.7 872.2L1348.9 870.8L1349 869.2L1349.2 867.8L1349.4 866.2L1349.6 864.8L1349.8 863.2L1349.9 861.8L1350.1 860.2L1350.3 858.8L1350.5 857.2L1350.7 855.8L1350.9 854.2L1351.1 852.8L1351.2 851.2L1351.4 849.8L1351.6 848.2L1351.8 846.8L1351.9 845.2L1352.1 843.8L1352.2 842.2L1352.4 840.8L1352.5 839.2L1352.7 837.8L1352.8 836.2L1352.9 834.8L1353 833.2L1353.1 831.8L1353.3 830.2L1353.4 828.8L1353.5 827.2L1353.5 825.8L1353.6 824.2L1353.7 822.8L1353.8 821.2L1353.8 819.8L1353.9 818.2L1354 816.8L1354 815.2L1354.1 813.8L1354.1 812.2L1354.1 810.8L1354.2 809.2L1354.2 807.8L1354.2 806.2L1354.3 804.8L1354.3 803.2L1354.3 801.8L1354.3 800.2L1354.4 798.8L1354.4 797.2Z" fill="#F5C6C8"/>
<path d="M1371.8 872L1371.9 873.4L1372.1 874.7L1372.3 876.1L1372.6 877.5L1373.1 878.9L1373.7 880.2L1374.5 881.6L1375.4 883L1376.3 884.4L1377.2 885.7L1378 887.1L1378.6 888.5L1378.8 889.8L1378.9 891.2L1379 892.6L1379.1 894L1379.2 895.3L1379.2 896.7L1379.2 898.1L1379.2 899.4L1379.2 900.8L1379.2 902.2L1379.2 903.6L1379.2 904.9L1379.2 906.3L1379.2 907.7L1379.2 909.1L1379.2 910.4L1379.2 911.8L1379.2 913.2L1379.1 914.5L1379.1 915.9L1379 917.3L1378.9 918.7L1378.7 920L1378.2 921.4L1377.3 922.8L1376.2 924.1L1375 925.5L1374 926.9L1373.2 928.3L1372.6 929.6L1372.2 931L1372 932.4L1371.9 933.8L1371.8 935.1L1371.6 933.8L1371.5 932.4L1371.3 931L1370.9 929.6L1370.3 928.3L1369.5 926.9L1368.5 925.5L1367.3 924.1L1366.2 922.8L1365.3 921.4L1364.8 920L1364.6 918.7L1364.5 917.3L1364.4 915.9L1364.4 914.5L1364.3 913.2L1364.3 911.8L1364.3 910.4L1364.3 909.1L1364.3 907.7L1364.3 906.3L1364.3 904.9L1364.3 903.6L1364.3 902.2L1364.3 900.8L1364.3 899.4L1364.3 898.1L1364.3 896.7L1364.3 895.3L1364.4 894L1364.5 892.6L1364.6 891.2L1364.7 889.8L1364.9 888.5L1365.5 887.1L1366.3 885.7L1367.2 884.4L1368.1 883L1369 881.6L1369.8 880.2L1370.4 878.9L1370.9 877.5L1371.2 876.1L1371.4 874.7L1371.6 873.4Z" fill="#B8BCE4"/>
<path d="M1404.2 861.5L1404.4 863L1404.4 864.5L1404.4 866L1404.5 867.5L1404.5 869L1404.6 870.5L1404.7 872L1404.8 873.5L1404.9 875L1405 876.5L1405.2 878L1405.3 879.5L1405.5 881L1405.7 882.5L1405.9 884L1406.2 885.5L1406.4 887L1406.7 888.5L1407 890L1407.3 891.5L1407.6 893L1408 894.5L1408.3 896L1408.7 897.5L1409 899L1409.4 900.5L1409.7 902L1410.1 903.5L1410.4 905L1410.7 906.5L1410.9 908L1411.2 909.5L1411.5 911L1411.7 912.5L1411.9 914L1412.1 915.5L1412.3 917L1412.4 918.5L1412.4 920L1412.5 921.5L1412.5 923L1412.5 924.5L1412.5 926L1412.5 927.5L1412.5 929L1412.5 930.5L1412.5 932L1412.5 933.5L1412.4 935L1412.4 936.5L1412.3 938L1412.2 939.5L1412 941L1411.7 942.5L1411.4 944L1410.9 945.5L1410.4 947L1409.8 948.5L1409.2 950L1408.5 951.5L1407.9 953L1407.3 954.5L1406.8 956L1406.3 957.5L1405.8 959L1405.5 960.5L1405.2 962L1404.9 963.5L1404.8 965L1404.6 966.5L1404.5 968L1404.4 969.5L1404.2 971L1404.1 969.5L1404 968L1403.9 966.5L1403.7 965L1403.6 963.5L1403.3 962L1403 960.5L1402.7 959L1402.2 957.5L1401.7 956L1401.2 954.5L1400.6 953L1400 951.5L1399.3 950L1398.7 948.5L1398.1 947L1397.6 945.5L1397.1 944L1396.8 942.5L1396.5 941L1396.3 939.5L1396.2 938L1396.1 936.5L1396.1 935L1396 933.5L1396 932L1396 930.5L1396 929L1396 927.5L1396 926L1396 924.5L1396 923L1396 921.5L1396.1 920L1396.1 918.5L1396.2 917L1396.4 915.5L1396.6 914L1396.8 912.5L1397 911L1397.3 909.5L1397.6 908L1397.8 906.5L1398.1 905L1398.4 903.5L1398.8 902L1399.1 900.5L1399.5 899L1399.8 897.5L1400.2 896L1400.5 894.5L1400.9 893L1401.2 891.5L1401.5 890L1401.8 888.5L1402.1 887L1402.3 885.5L1402.6 884L1402.8 882.5L1403 881L1403.2 879.5L1403.3 878L1403.5 876.5L1403.6 875L1403.7 873.5L1403.8 872L1403.9 870.5L1404 869L1404 867.5L1404.1 866L1404.1 864.5L1404.1 863Z" fill="#F5C6C8"/>
<path d="M1421.2 900.9L1421.4 901.7L1421.5 902.6L1421.5 903.4L1421.7 904.3L1421.8 905.2L1421.9 906L1422.1 906.9L1422.4 907.7L1422.7 908.6L1423 909.5L1423.4 910.3L1423.8 911.2L1424.3 912.1L1424.8 912.9L1425.3 913.8L1425.8 914.6L1426.3 915.5L1426.8 916.4L1427.2 917.2L1427.6 918.1L1427.9 918.9L1428.1 919.8L1428.2 920.7L1428.2 921.5L1428.1 922.4L1427.9 923.2L1427.5 924.1L1427 925L1426.4 925.8L1425.8 926.7L1425.2 927.6L1424.5 928.4L1424 929.3L1423.4 930.1L1423 931L1422.6 931.9L1422.3 932.7L1422 933.6L1421.8 934.4L1421.6 935.3L1421.5 936.2L1421.4 937L1421.2 937.9L1421.1 937L1421 936.2L1420.9 935.3L1420.7 934.4L1420.5 933.6L1420.2 932.7L1419.9 931.9L1419.5 931L1419.1 930.1L1418.5 929.3L1418 928.4L1417.3 927.6L1416.7 926.7L1416.1 925.8L1415.5 925L1415 924.1L1414.6 923.2L1414.4 922.4L1414.3 921.5L1414.3 920.7L1414.4 919.8L1414.6 918.9L1414.9 918.1L1415.3 917.2L1415.7 916.4L1416.2 915.5L1416.7 914.6L1417.2 913.8L1417.7 912.9L1418.2 912.1L1418.7 911.2L1419.1 910.3L1419.5 909.5L1419.8 908.6L1420.1 907.7L1420.4 906.9L1420.6 906L1420.7 905.2L1420.8 904.3L1421 903.4L1421 902.6L1421.1 901.7Z" fill="#B8BCE4"/>
<path d="M1453.8 819L1453.9 820.5L1453.9 822L1454 823.5L1454 825L1454.1 826.5L1454.2 828L1454.3 829.5L1454.4 831L1454.5 832.5L1454.7 834L1454.8 835.5L1455.1 837L1455.3 838.5L1455.5 840L1455.8 841.5L1456.1 843L1456.4 844.5L1456.8 846L1457.1 847.5L1457.5 849L1457.9 850.5L1458.2 852L1458.6 853.5L1459 855L1459.3 856.5L1459.6 858L1459.9 859.5L1460.2 861L1460.5 862.5L1460.7 864L1461 865.5L1461.2 867L1461.3 868.5L1461.4 870L1461.5 871.5L1461.5 873L1461.5 874.5L1461.5 876L1461.5 877.5L1461.5 879L1461.5 880.5L1461.5 882L1461.4 883.5L1461.4 885L1461.2 886.5L1461.1 888L1460.8 889.5L1460.4 891L1460 892.5L1459.4 894L1458.8 895.5L1458.2 897L1457.6 898.5L1456.9 900L1456.4 901.5L1455.8 903L1455.4 904.5L1455 906L1454.7 907.5L1454.4 909L1454.2 910.5L1454.1 912L1454 913.5L1453.9 915L1453.8 916.5L1453.6 915L1453.5 913.5L1453.4 912L1453.3 910.5L1453.1 909L1452.8 907.5L1452.5 906L1452.1 904.5L1451.7 903L1451.1 901.5L1450.6 900L1449.9 898.5L1449.3 897L1448.7 895.5L1448.1 894L1447.5 892.5L1447.1 891L1446.7 889.5L1446.4 888L1446.3 886.5L1446.1 885L1446.1 883.5L1446 882L1446 880.5L1446 879L1446 877.5L1446 876L1446 874.5L1446 873L1446 871.5L1446.1 870L1446.2 868.5L1446.3 867L1446.5 865.5L1446.8 864L1447 862.5L1447.3 861L1447.6 859.5L1447.9 858L1448.2 856.5L1448.5 855L1448.9 853.5L1449.3 852L1449.6 850.5L1450 849L1450.4 847.5L1450.7 846L1451.1 844.5L1451.4 843L1451.7 841.5L1452 840L1452.2 838.5L1452.4 837L1452.7 835.5L1452.8 834L1453 832.5L1453.1 831L1453.2 829.5L1453.3 828L1453.4 826.5L1453.5 825L1453.5 823.5L1453.6 822L1453.6 820.5Z" fill="#F5C6C8"/>
<path d="M1470.5 844.9L1470.7 846L1470.8 847.2L1471 848.3L1471.2 849.4L1471.5 850.6L1471.9 851.7L1472.3 852.9L1472.9 854L1473.6 855.1L1474.2 856.3L1474.9 857.4L1475.6 858.6L1476.2 859.7L1476.7 860.8L1477 862L1477.2 863.1L1477.3 864.3L1477.4 865.4L1477.5 866.5L1477.5 867.7L1477.5 868.8L1477.5 869.9L1477.5 871.1L1477.5 872.2L1477.5 873.4L1477.5 874.5L1477.5 875.6L1477.4 876.8L1477.4 877.9L1477.3 879.1L1477.2 880.2L1477 881.3L1476.5 882.5L1475.8 883.6L1474.9 884.8L1474 885.9L1473.1 887L1472.4 888.2L1471.7 889.3L1471.3 890.4L1471 891.6L1470.8 892.7L1470.6 893.9L1470.5 895L1470.4 893.9L1470.2 892.7L1470 891.6L1469.7 890.4L1469.3 889.3L1468.6 888.2L1467.9 887L1467 885.9L1466.1 884.8L1465.2 883.6L1464.5 882.5L1464 881.3L1463.8 880.2L1463.7 879.1L1463.6 877.9L1463.6 876.8L1463.5 875.6L1463.5 874.5L1463.5 873.4L1463.5 872.2L1463.5 871.1L1463.5 869.9L1463.5 868.8L1463.5 867.7L1463.5 866.5L1463.6 865.4L1463.7 864.3L1463.8 863.1L1464 862L1464.3 860.8L1464.8 859.7L1465.4 858.6L1466.1 857.4L1466.8 856.3L1467.4 855.1L1468.1 854L1468.7 852.9L1469.1 851.7L1469.5 850.6L1469.8 849.4L1470 848.3L1470.2 847.2L1470.3 846Z" fill="#B8BCE4"/>
<path d="M1503 848L1503.1 849.5L1503.2 851L1503.2 852.5L1503.3 854L1503.3 855.5L1503.4 857L1503.5 858.5L1503.6 860L1503.7 861.5L1503.8 863L1503.9 864.5L1504.1 866L1504.3 867.5L1504.5 869L1504.7 870.5L1504.9 872L1505.1 873.5L1505.4 875L1505.7 876.5L1506 878L1506.3 879.5L1506.6 881L1506.9 882.5L1507.2 884L1507.6 885.5L1507.9 887L1508.2 888.5L1508.5 890L1508.8 891.5L1509.1 893L1509.3 894.5L1509.6 896L1509.8 897.5L1510 899L1510.2 900.5L1510.3 902L1510.5 903.5L1510.6 905L1510.6 906.5L1510.7 908L1510.7 909.5L1510.7 911L1510.7 912.5L1510.7 914L1510.7 915.5L1510.8 917L1510.7 918.5L1510.7 920L1510.7 921.5L1510.7 923L1510.7 924.5L1510.7 926L1510.7 927.5L1510.6 929L1510.5 930.5L1510.4 932L1510.2 933.5L1510 935L1509.8 936.5L1509.5 938L1509.2 939.5L1508.9 941L1508.6 942.5L1508.2 944L1507.8 945.5L1507.4 947L1507 948.5L1506.6 950L1506.3 951.5L1505.9 953L1505.5 954.5L1505.2 956L1504.9 957.5L1504.6 959L1504.4 960.5L1504.2 962L1504 963.5L1503.8 965L1503.7 966.5L1503.5 968L1503.4 969.5L1503.3 971L1503.3 972.5L1503.2 974L1503.2 975.5L1503.1 977L1503 978.5L1502.9 977L1502.8 975.5L1502.8 974L1502.7 972.5L1502.7 971L1502.6 969.5L1502.5 968L1502.3 966.5L1502.2 965L1502 963.5L1501.8 962L1501.6 960.5L1501.4 959L1501.1 957.5L1500.8 956L1500.5 954.5L1500.1 953L1499.7 951.5L1499.4 950L1499 948.5L1498.6 947L1498.2 945.5L1497.8 944L1497.4 942.5L1497.1 941L1496.8 939.5L1496.5 938L1496.2 936.5L1496 935L1495.8 933.5L1495.6 932L1495.5 930.5L1495.4 929L1495.3 927.5L1495.3 926L1495.3 924.5L1495.3 923L1495.3 921.5L1495.3 920L1495.3 918.5L1495.2 917L1495.3 915.5L1495.3 914L1495.3 912.5L1495.3 911L1495.3 909.5L1495.3 908L1495.4 906.5L1495.4 905L1495.5 903.5L1495.7 902L1495.8 900.5L1496 899L1496.2 897.5L1496.4 896L1496.7 894.5L1496.9 893L1497.2 891.5L1497.5 890L1497.8 888.5L1498.1 887L1498.4 885.5L1498.8 884L1499.1 882.5L1499.4 881L1499.7 879.5L1500 878L1500.3 876.5L1500.6 875L1500.9 873.5L1501.1 872L1501.3 870.5L1501.5 869L1501.7 867.5L1501.9 866L1502.1 864.5L1502.2 863L1502.3 861.5L1502.4 860L1502.5 858.5L1502.6 857L1502.7 855.5L1502.7 854L1502.8 852.5L1502.8 851L1502.9 849.5Z" fill="#F5C6C8"/>
<path d="M1520 880.9L1520.1 881.8L1520.2 882.7L1520.3 883.6L1520.4 884.4L1520.5 885.3L1520.6 886.2L1520.8 887.1L1521 888L1521.2 888.9L1521.5 889.8L1521.8 890.7L1522.1 891.6L1522.5 892.4L1522.9 893.3L1523.4 894.2L1523.9 895.1L1524.3 896L1524.8 896.9L1525.3 897.8L1525.7 898.7L1526.1 899.6L1526.4 900.4L1526.7 901.3L1526.9 902.2L1527 903.1L1527 904L1526.9 904.9L1526.5 905.8L1526.1 906.7L1525.5 907.6L1524.8 908.4L1524.1 909.3L1523.4 910.2L1522.8 911.1L1522.2 912L1521.7 912.9L1521.3 913.8L1520.9 914.7L1520.7 915.6L1520.4 916.4L1520.3 917.3L1520.2 918.2L1520.1 919.1L1520 920L1519.9 919.1L1519.8 918.2L1519.7 917.3L1519.6 916.4L1519.3 915.6L1519.1 914.7L1518.7 913.8L1518.3 912.9L1517.8 912L1517.2 911.1L1516.6 910.2L1515.9 909.3L1515.2 908.4L1514.5 907.6L1513.9 906.7L1513.5 905.8L1513.1 904.9L1513 904L1513 903.1L1513.1 902.2L1513.3 901.3L1513.6 900.4L1513.9 899.6L1514.3 898.7L1514.7 897.8L1515.2 896.9L1515.7 896L1516.1 895.1L1516.6 894.2L1517.1 893.3L1517.5 892.4L1517.9 891.6L1518.2 890.7L1518.5 889.8L1518.8 888.9L1519 888L1519.2 887.1L1519.4 886.2L1519.5 885.3L1519.6 884.4L1519.7 883.6L1519.8 882.7L1519.9 881.8Z" fill="#B8BCE4"/>
<path d="M1552.5 798L1552.6 799.5L1552.7 801L1552.7 802.5L1552.7 804L1552.8 805.5L1552.9 807L1552.9 808.5L1553 810L1553.1 811.5L1553.2 813L1553.3 814.5L1553.5 816L1553.6 817.5L1553.8 819L1554 820.5L1554.2 822L1554.4 823.5L1554.6 825L1554.9 826.5L1555.1 828L1555.4 829.5L1555.7 831L1556 832.5L1556.2 834L1556.5 835.5L1556.8 837L1557.1 838.5L1557.4 840L1557.7 841.5L1558 843L1558.2 844.5L1558.5 846L1558.7 847.5L1559 849L1559.2 850.5L1559.4 852L1559.6 853.5L1559.8 855L1560 856.5L1560.1 858L1560.2 859.5L1560.2 861L1560.2 862.5L1560.2 864L1560.2 865.5L1560.2 867L1560.2 868.5L1560.2 870L1560.2 871.5L1560.2 873L1560.2 874.5L1560.1 876L1560 877.5L1559.9 879L1559.7 880.5L1559.4 882L1559.1 883.5L1558.7 885L1558.3 886.5L1557.9 888L1557.4 889.5L1556.9 891L1556.4 892.5L1555.9 894L1555.5 895.5L1555 897L1554.6 898.5L1554.3 900L1554 901.5L1553.7 903L1553.4 904.5L1553.2 906L1553.1 907.5L1552.9 909L1552.8 910.5L1552.7 912L1552.7 913.5L1552.6 915L1552.5 916.5L1552.4 915L1552.3 913.5L1552.3 912L1552.2 910.5L1552.1 909L1551.9 907.5L1551.8 906L1551.6 904.5L1551.3 903L1551 901.5L1550.7 900L1550.4 898.5L1550 897L1549.5 895.5L1549.1 894L1548.6 892.5L1548.1 891L1547.6 889.5L1547.1 888L1546.7 886.5L1546.3 885L1545.9 883.5L1545.6 882L1545.3 880.5L1545.1 879L1545 877.5L1544.9 876L1544.8 874.5L1544.8 873L1544.8 871.5L1544.8 870L1544.8 868.5L1544.8 867L1544.8 865.5L1544.8 864L1544.8 862.5L1544.8 861L1544.8 859.5L1544.9 858L1545 856.5L1545.2 855L1545.4 853.5L1545.6 852L1545.8 850.5L1546 849L1546.3 847.5L1546.5 846L1546.8 844.5L1547 843L1547.3 841.5L1547.6 840L1547.9 838.5L1548.2 837L1548.5 835.5L1548.8 834L1549 832.5L1549.3 831L1549.6 829.5L1549.9 828L1550.1 826.5L1550.4 825L1550.6 823.5L1550.8 822L1551 820.5L1551.2 819L1551.4 817.5L1551.5 816L1551.7 814.5L1551.8 813L1551.9 811.5L1552 810L1552.1 808.5L1552.1 807L1552.2 805.5L1552.3 804L1552.3 802.5L1552.3 801L1552.4 799.5Z" fill="#F5C6C8"/>
<path d="M1569.5 838.8L1569.7 840.1L1569.8 841.5L1570 842.8L1570.3 844.2L1570.8 845.6L1571.4 846.9L1572.2 848.3L1573.1 849.6L1574.1 851L1574.9 852.4L1575.6 853.7L1576 855.1L1576.2 856.4L1576.3 857.8L1576.4 859.2L1576.4 860.5L1576.5 861.9L1576.5 863.2L1576.5 864.6L1576.5 866L1576.5 867.3L1576.5 868.7L1576.5 870.1L1576.5 871.4L1576.5 872.8L1576.5 874.1L1576.4 875.5L1576.3 876.9L1576.2 878.2L1576.1 879.6L1575.8 880.9L1575.4 882.3L1574.8 883.7L1574.1 885L1573.3 886.4L1572.5 887.7L1571.8 889.1L1571.2 890.5L1570.7 891.8L1570.3 893.2L1570.1 894.6L1569.9 895.9L1569.7 897.3L1569.6 898.6L1569.5 900L1569.4 898.6L1569.3 897.3L1569.1 895.9L1568.9 894.6L1568.7 893.2L1568.3 891.8L1567.8 890.5L1567.2 889.1L1566.5 887.7L1565.7 886.4L1564.9 885L1564.2 883.7L1563.6 882.3L1563.2 880.9L1562.9 879.6L1562.8 878.2L1562.7 876.9L1562.6 875.5L1562.5 874.1L1562.5 872.8L1562.5 871.4L1562.5 870.1L1562.5 868.7L1562.5 867.3L1562.5 866L1562.5 864.6L1562.5 863.2L1562.5 861.9L1562.6 860.5L1562.6 859.2L1562.7 857.8L1562.8 856.4L1563 855.1L1563.4 853.7L1564.1 852.4L1564.9 851L1565.9 849.6L1566.8 848.3L1567.6 846.9L1568.2 845.6L1568.7 844.2L1569 842.8L1569.2 841.5L1569.3 840.1Z" fill="#B8BCE4"/>
<path d="M1601.8 948 Q1605.9 950 1610 952 Q1605.9 954.5 1601.8 957 Q1597.6 954.5 1593.5 952 Q1597.6 950 1601.8 948Z" fill="#F5C6C8"/>
<path d="M1601.75,911.50 Q1603.00,913.00 1604.25,914.50 Q1603.00,916.00 1601.75,917.50 Q1600.50,916.00 1599.25,914.50 Q1600.50,913.00 1601.75,911.50 Z" fill="#F5C6C8"/>
<line x1="1601.8" y1="917.5" x2="1601.8" y2="948" stroke="#F5C6C8" stroke-width="0.6" opacity="0.35"/>
<path d="M1618.8 948 Q1622.2 949.1 1625.8 950.2 Q1622.2 951.6 1618.8 953 Q1615.2 951.6 1611.8 950.2 Q1615.2 949.1 1618.8 948Z" fill="#B8BCE4"/>
<path d="M1650.8 945 Q1654.8 948.1 1658.8 951.2 Q1654.8 954.4 1650.8 957.5 Q1646.8 954.4 1642.8 951.2 Q1646.8 948.1 1650.8 945Z" fill="#F5C6C8"/>
<path d="M1650.75,930.50 Q1651.88,932.38 1653.00,934.25 Q1651.88,936.12 1650.75,938.00 Q1649.62,936.12 1648.50,934.25 Q1649.62,932.38 1650.75,930.50 Z" fill="#F5C6C8"/>
<path d="M1700 929.6L1700.1 930.2L1700.2 930.9L1700.3 931.6L1700.4 932.2L1700.5 932.9L1700.7 933.5L1700.8 934.2L1701 934.9L1701.2 935.5L1701.3 936.2L1701.4 936.9L1701.5 937.5L1701.5 938.2L1701.5 938.8L1701.4 939.5L1701.2 940.2L1701.1 940.8L1700.9 941.5L1700.8 942.2L1700.6 942.8L1700.5 943.5L1700.5 944.2L1700.5 944.8L1700.6 945.5L1700.9 946.1L1701.4 946.8L1702.1 947.5L1703 948.1L1704.1 948.8L1705.3 949.5L1706.4 950.1L1707.3 950.8L1707.9 951.5L1708 952.1L1707.6 952.8L1706.5 953.4L1705.2 954.1L1703.8 954.8L1702.5 955.4L1701.5 956.1L1700.9 956.8L1700.4 957.4L1700.2 958.1L1700 958.7L1699.8 958.1L1699.6 957.4L1699.1 956.8L1698.5 956.1L1697.5 955.4L1696.2 954.8L1694.8 954.1L1693.5 953.4L1692.4 952.8L1692 952.1L1692.1 951.5L1692.7 950.8L1693.6 950.1L1694.7 949.5L1695.9 948.8L1697 948.1L1697.9 947.5L1698.6 946.8L1699.1 946.1L1699.4 945.5L1699.5 944.8L1699.5 944.2L1699.5 943.5L1699.4 942.8L1699.2 942.2L1699.1 941.5L1698.9 940.8L1698.8 940.2L1698.6 939.5L1698.5 938.8L1698.5 938.2L1698.5 937.5L1698.6 936.9L1698.7 936.2L1698.8 935.5L1699 934.9L1699.2 934.2L1699.3 933.5L1699.5 932.9L1699.6 932.2L1699.7 931.6L1699.8 930.9L1699.9 930.2Z" fill="#F5C6C8"/>
<path d="M1717.50,951.50 Q1719.62,953.25 1721.75,955.00 Q1719.62,956.75 1717.50,958.50 Q1715.38,956.75 1713.25,955.00 Q1715.38,953.25 1717.50,951.50 Z" fill="#B8BCE4"/>
<path d="M1749.5 952 Q1753.2 954.1 1757 956.2 Q1753.2 958.8 1749.5 961.2 Q1745.8 958.8 1742 956.2 Q1745.8 954.1 1749.5 952Z" fill="#F5C6C8"/>
<path d="M1767 948 Q1770.5 951.2 1774 954.5 Q1770.5 957.2 1767 960 Q1763.5 957.2 1760 954.5 Q1763.5 951.2 1767 948Z" fill="#B8BCE4"/>
<line x1="1008.8" y1="946.2" x2="1008.8" y2="955" stroke="#151515" stroke-width="1.4"/>
<rect x="1007.00" y="946.25" width="4.00" height="7.50" fill="#F8888C" stroke="#151515" stroke-width="1.5"/>
<line x1="1006.2" y1="951.2" x2="1011.8" y2="951.2" stroke="#151515" stroke-width="2.0"/>
<line x1="1025.8" y1="943.8" x2="1025.8" y2="952" stroke="#151515" stroke-width="1.4"/>
<rect x="1024.00" y="943.75" width="3.50" height="5.50" fill="#2a2a2a" stroke="#151515" stroke-width="1.5"/>
<line x1="1024.5" y1="946.2" x2="1027" y2="946.2" stroke="#6E9DD9" stroke-width="0.6" opacity="0.7"/>
<line x1="1058.2" y1="951.2" x2="1058.2" y2="955.8" stroke="#151515" stroke-width="1.4"/>
<rect x="1056.75" y="951.25" width="3.50" height="4.50" fill="#2a2a2a" stroke="#151515" stroke-width="1.5"/>
<line x1="1057" y1="953.8" x2="1059.5" y2="953.8" stroke="#F8888C" stroke-width="0.6" opacity="0.7"/>
<line x1="1075.5" y1="953" x2="1075.5" y2="956.2" stroke="#151515" stroke-width="1.4"/>
<rect x="1073.75" y="953.00" width="3.50" height="3.25" fill="#2a2a2a" stroke="#151515" stroke-width="1.5"/>
<line x1="1074.3" y1="954.5" x2="1076.7" y2="954.5" stroke="#6E9DD9" stroke-width="0.6" opacity="0.7"/>
<line x1="1107.5" y1="952.5" x2="1107.5" y2="955" stroke="#151515" stroke-width="1.4"/>
<rect x="1105.75" y="952.50" width="3.50" height="2.50" fill="#2a2a2a" stroke="#151515" stroke-width="1.5"/>
<line x1="1106.3" y1="953.8" x2="1108.7" y2="953.8" stroke="#F8888C" stroke-width="0.6" opacity="0.7"/>
<line x1="1125" y1="940" x2="1125" y2="949.2" stroke="#151515" stroke-width="1.4"/>
<rect x="1123.25" y="945.00" width="3.50" height="4.25" fill="#2a2a2a" stroke="#151515" stroke-width="1.5"/>
<line x1="1123.8" y1="947.5" x2="1126.2" y2="947.5" stroke="#6E9DD9" stroke-width="0.6" opacity="0.7"/>
<line x1="1157.5" y1="948" x2="1157.5" y2="951.2" stroke="#151515" stroke-width="1.4"/>
<rect x="1155.75" y="948.00" width="3.00" height="3.25" fill="#2a2a2a" stroke="#151515" stroke-width="1.5"/>
<line x1="1156.3" y1="949.5" x2="1158.7" y2="949.5" stroke="#F8888C" stroke-width="0.6" opacity="0.7"/>
<line x1="1174.2" y1="946.2" x2="1174.2" y2="953" stroke="#151515" stroke-width="1.4"/>
<rect x="1172.50" y="946.25" width="3.50" height="4.50" fill="#2a2a2a" stroke="#151515" stroke-width="1.5"/>
<line x1="1173" y1="948.8" x2="1175.5" y2="948.8" stroke="#6E9DD9" stroke-width="0.6" opacity="0.7"/>
<line x1="1206.8" y1="951.8" x2="1206.8" y2="953.8" stroke="#151515" stroke-width="1.4"/>
<rect x="1205.00" y="951.75" width="3.50" height="2.00" fill="#2a2a2a" stroke="#151515" stroke-width="1.5"/>
<line x1="1205.5" y1="952.8" x2="1208" y2="952.8" stroke="#F8888C" stroke-width="0.6" opacity="0.7"/>
<line x1="1223.8" y1="951.5" x2="1223.8" y2="954" stroke="#151515" stroke-width="1.4"/>
<rect x="1222.00" y="951.50" width="3.50" height="2.50" fill="#2a2a2a" stroke="#151515" stroke-width="1.5"/>
<line x1="1222.5" y1="952.8" x2="1225" y2="952.8" stroke="#6E9DD9" stroke-width="0.6" opacity="0.7"/>
<line x1="1255.8" y1="940" x2="1255.8" y2="952" stroke="#151515" stroke-width="1.4"/>
<rect x="1254.00" y="944.50" width="3.50" height="7.50" fill="#F8888C" stroke="#151515" stroke-width="1.5"/>
<line x1="1253.2" y1="947.5" x2="1258.2" y2="947.5" stroke="#151515" stroke-width="2.0"/>
<line x1="1273" y1="933.8" x2="1273" y2="953.8" stroke="#151515" stroke-width="1.4"/>
<rect x="1271.25" y="943.75" width="3.50" height="8.25" fill="#6E9DD9" stroke="#151515" stroke-width="1.5"/>
<line x1="1270.5" y1="947.5" x2="1275.5" y2="947.5" stroke="#151515" stroke-width="2.0"/>
<line x1="1305.5" y1="953.2" x2="1305.5" y2="955.5" stroke="#151515" stroke-width="1.4"/>
<rect x="1303.75" y="953.25" width="3.50" height="2.25" fill="#2a2a2a" stroke="#151515" stroke-width="1.5"/>
<line x1="1304.3" y1="954.2" x2="1306.7" y2="954.2" stroke="#F8888C" stroke-width="0.6" opacity="0.7"/>
<line x1="1322.5" y1="945.5" x2="1322.5" y2="955.5" stroke="#151515" stroke-width="1.4"/>
<rect x="1320.75" y="945.50" width="3.50" height="6.50" fill="#6E9DD9" stroke="#151515" stroke-width="1.5"/>
<line x1="1320" y1="948.8" x2="1325" y2="948.8" stroke="#151515" stroke-width="2.0"/>
<line x1="1354.5" y1="861.8" x2="1354.5" y2="958.8" stroke="#151515" stroke-width="1.4"/>
<rect x="1353.00" y="897.00" width="3.00" height="49.25" fill="#F8888C" stroke="#151515" stroke-width="1.5"/>
<line x1="1352.2" y1="908" x2="1356.8" y2="908" stroke="#151515" stroke-width="2.0"/>
<line x1="1371.8" y1="886.2" x2="1371.8" y2="916.2" stroke="#151515" stroke-width="1.4"/>
<rect x="1370.25" y="893.00" width="3.25" height="23.25" fill="#6E9DD9" stroke="#151515" stroke-width="1.5"/>
<line x1="1369.5" y1="906.2" x2="1374.2" y2="906.2" stroke="#151515" stroke-width="2.0"/>
<line x1="1404.2" y1="917.5" x2="1404.2" y2="946.2" stroke="#151515" stroke-width="1.4"/>
<rect x="1402.50" y="917.50" width="3.50" height="20.50" fill="#F8888C" stroke="#151515" stroke-width="1.5"/>
<line x1="1401.8" y1="922" x2="1406.8" y2="922" stroke="#151515" stroke-width="2.0"/>
<line x1="1421.2" y1="904.5" x2="1421.2" y2="933.2" stroke="#151515" stroke-width="1.4"/>
<rect x="1419.75" y="915.00" width="3.00" height="7.50" fill="#6E9DD9" stroke="#151515" stroke-width="1.5"/>
<line x1="1419" y1="918.8" x2="1423.5" y2="918.8" stroke="#151515" stroke-width="2.0"/>
<line x1="1453.8" y1="868.2" x2="1453.8" y2="893.8" stroke="#151515" stroke-width="1.4"/>
<rect x="1452.25" y="868.25" width="3.00" height="17.50" fill="#F8888C" stroke="#151515" stroke-width="1.5"/>
<line x1="1451.5" y1="875.5" x2="1456" y2="875.5" stroke="#151515" stroke-width="2.0"/>
<line x1="1470.5" y1="853.8" x2="1470.5" y2="884.5" stroke="#151515" stroke-width="1.4"/>
<rect x="1469.00" y="864.50" width="3.00" height="14.25" fill="#6E9DD9" stroke="#151515" stroke-width="1.5"/>
<line x1="1468.2" y1="871.8" x2="1472.8" y2="871.8" stroke="#151515" stroke-width="2.0"/>
<line x1="1503" y1="905" x2="1503" y2="946.2" stroke="#151515" stroke-width="1.4"/>
<rect x="1501.50" y="905.00" width="3.25" height="24.50" fill="#F8888C" stroke="#151515" stroke-width="1.5"/>
<line x1="1500.8" y1="912" x2="1505.5" y2="912" stroke="#151515" stroke-width="2.0"/>
<line x1="1520" y1="888" x2="1520" y2="912" stroke="#151515" stroke-width="1.4"/>
<rect x="1518.50" y="895.50" width="3.00" height="12.00" fill="#6E9DD9" stroke="#151515" stroke-width="1.5"/>
<line x1="1517.8" y1="901.8" x2="1522.2" y2="901.8" stroke="#151515" stroke-width="2.0"/>
<line x1="1552.5" y1="855" x2="1552.5" y2="888.8" stroke="#151515" stroke-width="1.4"/>
<rect x="1551.00" y="857.50" width="3.00" height="19.50" fill="#F8888C" stroke="#151515" stroke-width="1.5"/>
<line x1="1550.2" y1="868" x2="1554.8" y2="868" stroke="#151515" stroke-width="2.0"/>
<line x1="1569.5" y1="851.2" x2="1569.5" y2="886.2" stroke="#151515" stroke-width="1.4"/>
<rect x="1568.00" y="858.25" width="3.00" height="18.75" fill="#6E9DD9" stroke="#151515" stroke-width="1.5"/>
<line x1="1567.2" y1="867.5" x2="1571.8" y2="867.5" stroke="#151515" stroke-width="2.0"/>
<line x1="1601.8" y1="950.5" x2="1601.8" y2="953.8" stroke="#151515" stroke-width="1.4"/>
<rect x="1600.00" y="950.50" width="3.50" height="3.25" fill="#2a2a2a" stroke="#151515" stroke-width="1.5"/>
<line x1="1600.5" y1="952" x2="1603" y2="952" stroke="#F8888C" stroke-width="0.6" opacity="0.7"/>
<line x1="1618.8" y1="949" x2="1618.8" y2="951.8" stroke="#151515" stroke-width="1.4"/>
<rect x="1617.00" y="949.00" width="3.50" height="2.75" fill="#2a2a2a" stroke="#151515" stroke-width="1.5"/>
<line x1="1617.5" y1="950.2" x2="1620" y2="950.2" stroke="#6E9DD9" stroke-width="0.6" opacity="0.7"/>
<line x1="1650.8" y1="947.5" x2="1650.8" y2="952.5" stroke="#151515" stroke-width="1.4"/>
<rect x="1649.50" y="947.50" width="3.00" height="5.00" fill="#2a2a2a" stroke="#151515" stroke-width="1.5"/>
<line x1="1649.5" y1="950.5" x2="1652" y2="950.5" stroke="#F8888C" stroke-width="0.6" opacity="0.7"/>
<line x1="1666.6" y1="950.5" x2="1669.9" y2="950.5" stroke="#151515" stroke-width="1.75" stroke-linecap="round"/>
<line x1="1700" y1="947" x2="1700" y2="953" stroke="#151515" stroke-width="1.4"/>
<rect x="1698.50" y="947.00" width="3.25" height="6.00" fill="#F8888C" stroke="#151515" stroke-width="1.5"/>
<line x1="1697.8" y1="951.2" x2="1702.5" y2="951.2" stroke="#151515" stroke-width="2.0"/>
<line x1="1717.5" y1="952" x2="1717.5" y2="958" stroke="#151515" stroke-width="1.4"/>
<rect x="1716.50" y="953.75" width="2.00" height="2.50" fill="#2a2a2a" stroke="#151515" stroke-width="1.5"/>
<line x1="1716.3" y1="955" x2="1718.7" y2="955" stroke="#6E9DD9" stroke-width="0.6" opacity="0.7"/>
<line x1="1749.5" y1="954.5" x2="1749.5" y2="958.2" stroke="#151515" stroke-width="1.4"/>
<rect x="1747.75" y="954.50" width="3.50" height="3.75" fill="#2a2a2a" stroke="#151515" stroke-width="1.5"/>
<line x1="1748.3" y1="956.2" x2="1750.7" y2="956.2" stroke="#F8888C" stroke-width="0.6" opacity="0.7"/>
<line x1="1767" y1="950.5" x2="1767" y2="957" stroke="#151515" stroke-width="1.4"/>
<rect x="1765.25" y="952.00" width="3.50" height="5.00" fill="#2a2a2a" stroke="#151515" stroke-width="1.5"/>
<line x1="1765.8" y1="954.5" x2="1768.2" y2="954.5" stroke="#6E9DD9" stroke-width="0.6" opacity="0.7"/>
<text transform="translate(1009.40,842.30) rotate(-20)" font-size="15.8" fill="#000">p = 0.120</text>
<text transform="translate(1058.86,842.30) rotate(-20)" font-size="15.8" fill="#000">p = 0.468</text>
<text transform="translate(1108.32,842.30) rotate(-20)" font-size="15.8" fill="#000">p = 0.0325</text>
<text transform="translate(1157.78,842.30) rotate(-20)" font-size="15.8" fill="#000">p = 0.468</text>
<text transform="translate(1207.24,842.30) rotate(-20)" font-size="15.8" fill="#000">p = 0.349</text>
<text transform="translate(1256.70,842.30) rotate(-20)" font-size="15.8" fill="#000">p = 0.468</text>
<text transform="translate(1306.16,842.30) rotate(-20)" font-size="15.8" fill="#000">p = 0.090</text>
<text transform="translate(1355.62,842.30) rotate(-20)" font-size="15.8" fill="#000">p = 0.405</text>
<text transform="translate(1405.08,842.30) rotate(-20)" font-size="15.8" fill="#000">p = 0.349</text>
<text transform="translate(1454.54,842.30) rotate(-20)" font-size="15.8" fill="#000">p = 0.294</text>
<text transform="translate(1504.00,842.30) rotate(-20)" font-size="15.8" fill="#000">p = 0.120</text>
<text transform="translate(1553.46,842.30) rotate(-20)" font-size="15.8" fill="#000">p = 0.500</text>
<text transform="translate(1602.92,842.30) rotate(-20)" font-size="15.8" fill="#000">p = 0.066</text>
<text transform="translate(1652.38,842.30) rotate(-20)" font-size="15.8" fill="#000">p = 0.349</text>
<text transform="translate(1701.84,842.30) rotate(-20)" font-size="15.8" fill="#000">p = 0.013</text>
<text transform="translate(1758.90,842.30) rotate(-20)" font-size="15.8" fill="#000">p = 0.120</text>
<text x="1799.00" y="875.50" font-size="22.3" fill="#000">Group</text>
<rect x="1801.30" y="890.30" width="25.00" height="25.50" fill="#F5C6C8"/>
<rect x="1804.10" y="896.50" width="19.40" height="13.10" fill="#F8888C" stroke="#111" stroke-width="1"/>
<line x1="1804.10" y1="903.05" x2="1823.50" y2="903.05" stroke="#111" stroke-width="1.2" stroke-linecap="butt"/>
<text x="1831.50" y="911.30" font-size="22.3" fill="#000">Sheep</text>
<rect x="1801.30" y="922.80" width="25.00" height="25.50" fill="#B8BCE4"/>
<rect x="1804.10" y="929.00" width="19.40" height="13.10" fill="#6E9DD9" stroke="#111" stroke-width="1"/>
<line x1="1804.10" y1="935.55" x2="1823.50" y2="935.55" stroke="#111" stroke-width="1.2" stroke-linecap="butt"/>
<text x="1831.50" y="943.80" font-size="22.3" fill="#000">Goat</text>
<line x1="988.25" y1="1151.30" x2="988.25" y2="1403.55" stroke="#000" stroke-width="2.5" stroke-linecap="butt"/>
<line x1="987.00" y1="1402.30" x2="1788.25" y2="1402.30" stroke="#000" stroke-width="2.5" stroke-linecap="butt"/>
<line x1="984.25" y1="1160.75" x2="987.25" y2="1160.75" stroke="#000" stroke-width="1.2" stroke-linecap="butt"/>
<text x="980.00" y="1168.75" font-size="22.4" text-anchor="end" fill="#000">15</text>
<line x1="984.25" y1="1224.00" x2="987.25" y2="1224.00" stroke="#000" stroke-width="1.2" stroke-linecap="butt"/>
<text x="980.00" y="1232.00" font-size="22.4" text-anchor="end" fill="#000">10</text>
<line x1="984.25" y1="1287.20" x2="987.25" y2="1287.20" stroke="#000" stroke-width="1.2" stroke-linecap="butt"/>
<text x="980.00" y="1295.20" font-size="22.4" text-anchor="end" fill="#000">5</text>
<line x1="984.25" y1="1350.30" x2="987.25" y2="1350.30" stroke="#000" stroke-width="1.2" stroke-linecap="butt"/>
<text x="980.00" y="1358.30" font-size="22.4" text-anchor="end" fill="#000">0</text>
<line x1="1013.40" y1="1403.30" x2="1013.40" y2="1406.30" stroke="#000" stroke-width="1.2" stroke-linecap="butt"/>
<text transform="translate(1024.40,1421.20) rotate(-50)" font-size="22.3" text-anchor="end" fill="#000">C14:1</text>
<line x1="1057.43" y1="1403.30" x2="1057.43" y2="1406.30" stroke="#000" stroke-width="1.2" stroke-linecap="butt"/>
<text transform="translate(1068.43,1421.20) rotate(-50)" font-size="22.3" text-anchor="end" fill="#000">C15:1</text>
<line x1="1101.46" y1="1403.30" x2="1101.46" y2="1406.30" stroke="#000" stroke-width="1.2" stroke-linecap="butt"/>
<text transform="translate(1112.46,1421.20) rotate(-50)" font-size="22.3" text-anchor="end" fill="#000">C16:1</text>
<line x1="1145.49" y1="1403.30" x2="1145.49" y2="1406.30" stroke="#000" stroke-width="1.2" stroke-linecap="butt"/>
<text transform="translate(1156.49,1421.20) rotate(-50)" font-size="22.3" text-anchor="end" fill="#000">C17:1</text>
<line x1="1189.52" y1="1403.30" x2="1189.52" y2="1406.30" stroke="#000" stroke-width="1.2" stroke-linecap="butt"/>
<text transform="translate(1200.52,1421.20) rotate(-50)" font-size="22.3" text-anchor="end" fill="#000">C18:1</text>
<line x1="1233.55" y1="1403.30" x2="1233.55" y2="1406.30" stroke="#000" stroke-width="1.2" stroke-linecap="butt"/>
<text transform="translate(1244.55,1421.20) rotate(-50)" font-size="22.3" text-anchor="end" fill="#000">C18:2</text>
<line x1="1277.58" y1="1403.30" x2="1277.58" y2="1406.30" stroke="#000" stroke-width="1.2" stroke-linecap="butt"/>
<text transform="translate(1288.58,1421.20) rotate(-50)" font-size="22.3" text-anchor="end" fill="#000">C18:3_N6</text>
<line x1="1321.61" y1="1403.30" x2="1321.61" y2="1406.30" stroke="#000" stroke-width="1.2" stroke-linecap="butt"/>
<text transform="translate(1332.61,1421.20) rotate(-50)" font-size="22.3" text-anchor="end" fill="#000">C18:3_N3</text>
<line x1="1365.64" y1="1403.30" x2="1365.64" y2="1406.30" stroke="#000" stroke-width="1.2" stroke-linecap="butt"/>
<text transform="translate(1376.64,1421.20) rotate(-50)" font-size="22.3" text-anchor="end" fill="#000">C20:1_N9</text>
<line x1="1409.67" y1="1403.30" x2="1409.67" y2="1406.30" stroke="#000" stroke-width="1.2" stroke-linecap="butt"/>
<text transform="translate(1420.67,1421.20) rotate(-50)" font-size="22.3" text-anchor="end" fill="#000">C20:2</text>
<line x1="1453.70" y1="1403.30" x2="1453.70" y2="1406.30" stroke="#000" stroke-width="1.2" stroke-linecap="butt"/>
<text transform="translate(1464.70,1421.20) rotate(-50)" font-size="22.3" text-anchor="end" fill="#000">C20:3_N6</text>
<line x1="1497.73" y1="1403.30" x2="1497.73" y2="1406.30" stroke="#000" stroke-width="1.2" stroke-linecap="butt"/>
<text transform="translate(1508.73,1421.20) rotate(-50)" font-size="22.3" text-anchor="end" fill="#000">C20:4_N6</text>
<line x1="1541.76" y1="1403.30" x2="1541.76" y2="1406.30" stroke="#000" stroke-width="1.2" stroke-linecap="butt"/>
<text transform="translate(1552.76,1421.20) rotate(-50)" font-size="22.3" text-anchor="end" fill="#000">C20:3_N3</text>
<line x1="1585.79" y1="1403.30" x2="1585.79" y2="1406.30" stroke="#000" stroke-width="1.2" stroke-linecap="butt"/>
<text transform="translate(1596.79,1421.20) rotate(-50)" font-size="22.3" text-anchor="end" fill="#000">C20:5</text>
<line x1="1629.82" y1="1403.30" x2="1629.82" y2="1406.30" stroke="#000" stroke-width="1.2" stroke-linecap="butt"/>
<text transform="translate(1640.82,1421.20) rotate(-50)" font-size="22.3" text-anchor="end" fill="#000">C22:1</text>
<line x1="1673.85" y1="1403.30" x2="1673.85" y2="1406.30" stroke="#000" stroke-width="1.2" stroke-linecap="butt"/>
<text transform="translate(1684.85,1421.20) rotate(-50)" font-size="22.3" text-anchor="end" fill="#000">C22:2</text>
<line x1="1717.88" y1="1403.30" x2="1717.88" y2="1406.30" stroke="#000" stroke-width="1.2" stroke-linecap="butt"/>
<text transform="translate(1728.88,1421.20) rotate(-50)" font-size="22.3" text-anchor="end" fill="#000">C24:1</text>
<line x1="1761.91" y1="1403.30" x2="1761.91" y2="1406.30" stroke="#000" stroke-width="1.2" stroke-linecap="butt"/>
<text transform="translate(1772.91,1421.20) rotate(-50)" font-size="22.3" text-anchor="end" fill="#000">C22:6</text>
<text x="1414.00" y="1528.00" font-size="22.3" text-anchor="middle" fill="#000">Unsaturated fatty acid</text>
<text transform="translate(953.00,1298.00) rotate(-90)" font-size="22.4" text-anchor="middle" fill="#000">log<tspan font-size="13.9" dy="4.0">2</tspan><tspan dy="-4.0">(value+1)</tspan></text>
<path d="M1005.8 1281.5L1005.9 1283L1005.9 1284.5L1006 1286L1006.1 1287.5L1006.2 1289L1006.4 1290.5L1006.5 1292L1006.8 1293.5L1007 1295L1007.3 1296.5L1007.6 1298L1008 1299.5L1008.4 1301L1008.9 1302.5L1009.3 1304L1009.8 1305.5L1010.3 1307L1010.7 1308.5L1011.1 1310L1011.5 1311.5L1011.8 1313L1012.1 1314.5L1012.3 1316L1012.5 1317.5L1012.6 1319L1012.7 1320.5L1012.7 1322L1012.7 1323.5L1012.7 1325L1012.7 1326.5L1012.8 1328L1012.7 1329.5L1012.7 1331L1012.7 1332.5L1012.7 1334L1012.7 1335.5L1012.6 1337L1012.5 1338.5L1012.3 1340L1012.1 1341.5L1011.7 1343L1011.2 1344.5L1010.6 1346L1009.9 1347.5L1009.2 1349L1008.5 1350.5L1007.9 1352L1007.4 1353.5L1007 1355L1006.6 1356.5L1006.3 1358L1006.1 1359.5L1006 1361L1005.9 1362.5L1005.8 1364L1005.6 1362.5L1005.5 1361L1005.4 1359.5L1005.2 1358L1004.9 1356.5L1004.5 1355L1004.1 1353.5L1003.6 1352L1003 1350.5L1002.3 1349L1001.6 1347.5L1000.9 1346L1000.3 1344.5L999.8 1343L999.4 1341.5L999.2 1340L999 1338.5L998.9 1337L998.8 1335.5L998.8 1334L998.8 1332.5L998.8 1331L998.8 1329.5L998.8 1328L998.8 1326.5L998.8 1325L998.8 1323.5L998.8 1322L998.8 1320.5L998.9 1319L999 1317.5L999.2 1316L999.4 1314.5L999.7 1313L1000 1311.5L1000.4 1310L1000.8 1308.5L1001.2 1307L1001.7 1305.5L1002.2 1304L1002.6 1302.5L1003.1 1301L1003.5 1299.5L1003.9 1298L1004.2 1296.5L1004.5 1295L1004.7 1293.5L1005 1292L1005.1 1290.5L1005.3 1289L1005.4 1287.5L1005.5 1286L1005.6 1284.5L1005.6 1283Z" fill="#F5C6C8"/>
<path d="M1021.8 1295.9L1021.9 1297L1022 1298.1L1022.2 1299.1L1022.5 1300.2L1023.1 1301.3L1023.8 1302.3L1024.8 1303.4L1025.9 1304.5L1027 1305.5L1027.7 1306.6L1028.1 1307.7L1028.2 1308.7L1028.3 1309.8L1028.4 1310.9L1028.4 1311.9L1028.5 1313L1028.5 1314.1L1028.5 1315.1L1028.5 1316.2L1028.5 1317.3L1028.5 1318.3L1028.5 1319.4L1028.5 1320.5L1028.5 1321.5L1028.5 1322.6L1028.5 1323.7L1028.4 1324.7L1028.4 1325.8L1028.3 1326.9L1028.2 1327.9L1028 1329L1027.7 1330.1L1027.2 1331.1L1026.6 1332.2L1025.9 1333.3L1025.2 1334.3L1024.5 1335.4L1023.9 1336.5L1023.3 1337.5L1022.9 1338.6L1022.5 1339.7L1022.3 1340.7L1022.1 1341.8L1022 1342.9L1021.9 1343.9L1021.8 1345L1021.6 1343.9L1021.5 1342.9L1021.4 1341.8L1021.2 1340.7L1021 1339.7L1020.6 1338.6L1020.2 1337.5L1019.6 1336.5L1019 1335.4L1018.3 1334.3L1017.6 1333.3L1016.9 1332.2L1016.3 1331.1L1015.8 1330.1L1015.5 1329L1015.3 1327.9L1015.2 1326.9L1015.1 1325.8L1015.1 1324.7L1015 1323.7L1015 1322.6L1015 1321.5L1015 1320.5L1015 1319.4L1015 1318.3L1015 1317.3L1015 1316.2L1015 1315.1L1015 1314.1L1015 1313L1015.1 1311.9L1015.1 1310.9L1015.2 1309.8L1015.3 1308.7L1015.4 1307.7L1015.8 1306.6L1016.5 1305.5L1017.6 1304.5L1018.7 1303.4L1019.7 1302.3L1020.4 1301.3L1021 1300.2L1021.3 1299.1L1021.5 1298.1L1021.6 1297Z" fill="#B8BCE4"/>
<path d="M1050 1277L1050.2 1278.5L1050.3 1280L1050.6 1281.5L1050.9 1283L1051.4 1284.5L1051.8 1286L1052.2 1287.5L1052.5 1289L1052.5 1290.5L1052.3 1292L1052 1293.5L1051.5 1295L1051.1 1296.5L1050.7 1298L1050.4 1299.5L1050.2 1301L1050.2 1311.5L1050.4 1313L1050.7 1314.5L1051.2 1316L1051.9 1317.5L1052.9 1319L1054 1320.5L1055.1 1322L1056.2 1323.5L1056.8 1325L1057 1326.5L1056.9 1328L1056.6 1329.5L1056.1 1331L1055.6 1332.5L1054.9 1334L1054.2 1335.5L1053.5 1337L1052.9 1338.5L1052.3 1340L1051.8 1341.5L1051.3 1343L1051 1344.5L1050.7 1346L1050.5 1347.5L1050.3 1349L1050.2 1350.5L1050.1 1352L1050 1353.5L1049.9 1352L1049.8 1350.5L1049.7 1349L1049.5 1347.5L1049.3 1346L1049 1344.5L1048.7 1343L1048.2 1341.5L1047.7 1340L1047.1 1338.5L1046.5 1337L1045.8 1335.5L1045.1 1334L1044.4 1332.5L1043.9 1331L1043.4 1329.5L1043.1 1328L1043 1326.5L1043.2 1325L1043.8 1323.5L1044.9 1322L1046 1320.5L1047.1 1319L1048.1 1317.5L1048.8 1316L1049.3 1314.5L1049.6 1313L1049.8 1311.5L1049.8 1301L1049.6 1299.5L1049.3 1298L1048.9 1296.5L1048.5 1295L1048 1293.5L1047.7 1292L1047.5 1290.5L1047.5 1289L1047.8 1287.5L1048.2 1286L1048.6 1284.5L1049.1 1283L1049.4 1281.5L1049.7 1280L1049.8 1278.5Z" fill="#F5C6C8"/>
<path d="M1066.2 1299.4L1066.4 1300.1L1066.4 1300.8L1066.5 1301.5L1066.5 1302.2L1066.6 1302.9L1066.7 1303.6L1066.8 1304.3L1066.9 1305L1067.1 1305.7L1067.3 1306.4L1067.5 1307.1L1067.7 1307.8L1068 1308.5L1068.3 1309.2L1068.6 1309.9L1068.9 1310.6L1069.3 1311.2L1069.7 1311.9L1070 1312.6L1070.4 1313.3L1070.8 1314L1071.2 1314.7L1071.5 1315.4L1071.8 1316.1L1072.1 1316.8L1072.4 1317.5L1072.5 1318.2L1072.7 1318.9L1072.7 1319.6L1072.7 1320.3L1072.5 1321L1072 1321.7L1071.3 1322.4L1070.5 1323.1L1069.7 1323.7L1068.9 1324.4L1068.2 1325.1L1067.7 1325.8L1067.2 1326.5L1066.9 1327.2L1066.6 1327.9L1066.5 1328.6L1066.4 1329.3L1066.2 1330L1066.1 1329.3L1066 1328.6L1065.9 1327.9L1065.6 1327.2L1065.3 1326.5L1064.8 1325.8L1064.3 1325.1L1063.6 1324.4L1062.8 1323.7L1062 1323.1L1061.2 1322.4L1060.5 1321.7L1060 1321L1059.8 1320.3L1059.8 1319.6L1059.8 1318.9L1060 1318.2L1060.1 1317.5L1060.4 1316.8L1060.7 1316.1L1061 1315.4L1061.3 1314.7L1061.7 1314L1062.1 1313.3L1062.5 1312.6L1062.8 1311.9L1063.2 1311.2L1063.6 1310.6L1063.9 1309.9L1064.2 1309.2L1064.5 1308.5L1064.8 1307.8L1065 1307.1L1065.2 1306.4L1065.4 1305.7L1065.6 1305L1065.7 1304.3L1065.8 1303.6L1065.9 1302.9L1066 1302.2L1066 1301.5L1066.1 1300.8L1066.1 1300.1Z" fill="#B8BCE4"/>
<path d="M1094.2 1215.2L1094.4 1216.7L1094.5 1218.2L1094.5 1219.7L1094.6 1221.2L1094.8 1222.7L1094.9 1224.2L1095.1 1225.7L1095.3 1227.2L1095.5 1228.7L1095.8 1230.2L1096 1231.7L1096.3 1233.2L1096.5 1234.7L1096.8 1236.2L1097 1237.7L1097.1 1239.2L1097.2 1240.7L1097.2 1242.2L1097.2 1243.7L1097.2 1245.2L1097 1246.7L1096.8 1248.2L1096.6 1249.7L1096.4 1251.2L1096.1 1252.7L1095.9 1254.2L1095.6 1255.7L1095.4 1257.2L1095.2 1258.7L1095 1260.2L1094.8 1261.7L1094.7 1263.2L1094.6 1264.7L1094.5 1266.2L1094.5 1267.7L1094.4 1269.2L1094.4 1270.7L1094.5 1272.2L1094.5 1273.7L1094.6 1275.2L1094.7 1276.7L1094.9 1278.2L1095.1 1279.7L1095.3 1281.2L1095.7 1282.7L1096.1 1284.2L1096.5 1285.7L1097 1287.2L1097.6 1288.7L1098.2 1290.2L1098.8 1291.7L1099.4 1293.2L1100 1294.7L1100.6 1296.2L1101 1297.7L1101.4 1299.2L1101.6 1300.7L1101.7 1302.2L1101.7 1303.7L1101.7 1305.2L1101.6 1306.7L1101.5 1308.2L1101.3 1309.7L1101.1 1311.2L1100.8 1312.7L1100.6 1314.2L1100.3 1315.7L1100 1317.2L1099.7 1318.7L1099.3 1320.2L1099 1321.7L1098.6 1323.2L1098.3 1324.7L1098 1326.2L1097.6 1327.7L1097.3 1329.2L1097 1330.7L1096.7 1332.2L1096.5 1333.7L1096.2 1335.2L1096 1336.7L1095.8 1338.2L1095.6 1339.7L1095.4 1341.2L1095.2 1342.7L1095.1 1344.2L1095 1345.7L1094.9 1347.2L1094.8 1348.7L1094.7 1350.2L1094.6 1351.7L1094.6 1353.2L1094.5 1354.7L1094.5 1356.2L1094.4 1357.7L1094.4 1359.2L1094.2 1360.7L1094.1 1359.2L1094.1 1357.7L1094 1356.2L1094 1354.7L1093.9 1353.2L1093.9 1351.7L1093.8 1350.2L1093.7 1348.7L1093.6 1347.2L1093.5 1345.7L1093.4 1344.2L1093.3 1342.7L1093.1 1341.2L1092.9 1339.7L1092.7 1338.2L1092.5 1336.7L1092.3 1335.2L1092 1333.7L1091.8 1332.2L1091.5 1330.7L1091.2 1329.2L1090.9 1327.7L1090.5 1326.2L1090.2 1324.7L1089.9 1323.2L1089.5 1321.7L1089.2 1320.2L1088.8 1318.7L1088.5 1317.2L1088.2 1315.7L1087.9 1314.2L1087.7 1312.7L1087.4 1311.2L1087.2 1309.7L1087 1308.2L1086.9 1306.7L1086.8 1305.2L1086.8 1303.7L1086.8 1302.2L1086.9 1300.7L1087.1 1299.2L1087.5 1297.7L1087.9 1296.2L1088.5 1294.7L1089.1 1293.2L1089.7 1291.7L1090.3 1290.2L1090.9 1288.7L1091.5 1287.2L1092 1285.7L1092.4 1284.2L1092.8 1282.7L1093.2 1281.2L1093.4 1279.7L1093.6 1278.2L1093.8 1276.7L1093.9 1275.2L1094 1273.7L1094 1272.2L1094.1 1270.7L1094.1 1269.2L1094 1267.7L1094 1266.2L1093.9 1264.7L1093.8 1263.2L1093.7 1261.7L1093.5 1260.2L1093.3 1258.7L1093.1 1257.2L1092.9 1255.7L1092.6 1254.2L1092.4 1252.7L1092.1 1251.2L1091.9 1249.7L1091.7 1248.2L1091.5 1246.7L1091.3 1245.2L1091.3 1243.7L1091.3 1242.2L1091.3 1240.7L1091.4 1239.2L1091.5 1237.7L1091.7 1236.2L1092 1234.7L1092.2 1233.2L1092.5 1231.7L1092.7 1230.2L1093 1228.7L1093.2 1227.2L1093.4 1225.7L1093.6 1224.2L1093.7 1222.7L1093.9 1221.2L1094 1219.7L1094 1218.2L1094.1 1216.7Z" fill="#F5C6C8"/>
<path d="M1109.5 1281.2L1109.6 1282.1L1109.7 1283L1109.8 1283.9L1110 1284.8L1110.2 1285.7L1110.5 1286.6L1110.9 1287.5L1111.4 1288.4L1112 1289.3L1112.7 1290.1L1113.4 1291L1114.1 1291.9L1114.8 1292.8L1115.4 1293.7L1115.9 1294.6L1116.2 1295.5L1116.2 1296.4L1116.2 1297.3L1116.1 1298.1L1115.9 1299L1115.6 1299.9L1115.3 1300.8L1115 1301.7L1114.6 1302.6L1114.1 1303.5L1113.7 1304.4L1113.3 1305.3L1112.8 1306.1L1112.4 1307L1112 1307.9L1111.7 1308.8L1111.3 1309.7L1111 1310.6L1110.8 1311.5L1110.5 1312.4L1110.3 1313.3L1110.2 1314.1L1110 1315L1109.9 1315.9L1109.8 1316.8L1109.7 1317.7L1109.7 1318.6L1109.6 1319.5L1109.5 1320.4L1109.4 1319.5L1109.3 1318.6L1109.3 1317.7L1109.2 1316.8L1109.1 1315.9L1109 1315L1108.8 1314.1L1108.7 1313.3L1108.5 1312.4L1108.2 1311.5L1108 1310.6L1107.7 1309.7L1107.3 1308.8L1107 1307.9L1106.6 1307L1106.2 1306.1L1105.7 1305.3L1105.3 1304.4L1104.9 1303.5L1104.4 1302.6L1104 1301.7L1103.7 1300.8L1103.4 1299.9L1103.1 1299L1102.9 1298.1L1102.8 1297.3L1102.8 1296.4L1102.8 1295.5L1103.1 1294.6L1103.6 1293.7L1104.2 1292.8L1104.9 1291.9L1105.6 1291L1106.3 1290.1L1107 1289.3L1107.6 1288.4L1108.1 1287.5L1108.5 1286.6L1108.8 1285.7L1109 1284.8L1109.2 1283.9L1109.3 1283L1109.4 1282.1Z" fill="#B8BCE4"/>
<path d="M1138 1236L1138.1 1237.5L1138.2 1239L1138.3 1240.5L1138.4 1242L1138.6 1243.5L1138.8 1245L1139 1246.5L1139.3 1248L1139.6 1249.5L1139.8 1251L1140.1 1252.5L1140.3 1254L1140.4 1255.5L1140.5 1257L1140.5 1258.5L1140.4 1260L1140.2 1261.5L1140 1263L1139.7 1264.5L1139.5 1266L1139.2 1267.5L1138.9 1269L1138.7 1270.5L1138.5 1272L1138.4 1273.5L1138.3 1275L1138.2 1276.5L1138.2 1278L1138.1 1279.5L1138.1 1281L1138.2 1282.5L1138.2 1284L1138.3 1285.5L1138.4 1287L1138.5 1288.5L1138.7 1290L1138.9 1291.5L1139.1 1293L1139.4 1294.5L1139.7 1296L1140.1 1297.5L1140.5 1299L1141 1300.5L1141.5 1302L1142 1303.5L1142.6 1305L1143.1 1306.5L1143.6 1308L1144 1309.5L1144.4 1311L1144.7 1312.5L1144.9 1314L1145 1315.5L1145 1317L1144.9 1318.5L1144.8 1320L1144.6 1321.5L1144.4 1323L1144.1 1324.5L1143.7 1326L1143.4 1327.5L1143 1329L1142.6 1330.5L1142.1 1332L1141.7 1333.5L1141.3 1335L1140.9 1336.5L1140.6 1338L1140.2 1339.5L1139.9 1341L1139.6 1342.5L1139.4 1344L1139.2 1345.5L1139 1347L1138.8 1348.5L1138.6 1350L1138.5 1351.5L1138.4 1353L1138.3 1354.5L1138.2 1356L1138.2 1357.5L1138.1 1359L1138 1360.5L1137.9 1359L1137.8 1357.5L1137.8 1356L1137.7 1354.5L1137.6 1353L1137.5 1351.5L1137.4 1350L1137.2 1348.5L1137 1347L1136.8 1345.5L1136.6 1344L1136.4 1342.5L1136.1 1341L1135.8 1339.5L1135.4 1338L1135.1 1336.5L1134.7 1335L1134.3 1333.5L1133.9 1332L1133.4 1330.5L1133 1329L1132.6 1327.5L1132.3 1326L1131.9 1324.5L1131.6 1323L1131.4 1321.5L1131.2 1320L1131.1 1318.5L1131 1317L1131 1315.5L1131.1 1314L1131.3 1312.5L1131.6 1311L1132 1309.5L1132.4 1308L1132.9 1306.5L1133.4 1305L1134 1303.5L1134.5 1302L1135 1300.5L1135.5 1299L1135.9 1297.5L1136.3 1296L1136.6 1294.5L1136.9 1293L1137.1 1291.5L1137.3 1290L1137.5 1288.5L1137.6 1287L1137.7 1285.5L1137.8 1284L1137.8 1282.5L1137.9 1281L1137.9 1279.5L1137.8 1278L1137.8 1276.5L1137.7 1275L1137.6 1273.5L1137.5 1272L1137.3 1270.5L1137.1 1269L1136.8 1267.5L1136.5 1266L1136.3 1264.5L1136 1263L1135.8 1261.5L1135.6 1260L1135.5 1258.5L1135.5 1257L1135.6 1255.5L1135.7 1254L1135.9 1252.5L1136.2 1251L1136.4 1249.5L1136.7 1248L1137 1246.5L1137.2 1245L1137.4 1243.5L1137.6 1242L1137.7 1240.5L1137.8 1239L1137.9 1237.5Z" fill="#F5C6C8"/>
<path d="M1153.8 1267L1153.9 1267.8L1153.9 1268.5L1154 1269.2L1154.1 1270L1154.2 1270.8L1154.3 1271.5L1154.4 1272.2L1154.6 1273L1154.8 1273.8L1155 1274.5L1155.3 1275.2L1155.6 1276L1155.9 1276.8L1156.2 1277.5L1156.6 1278.2L1157 1279L1157.5 1279.8L1157.9 1280.5L1158.3 1281.2L1158.7 1282L1159.1 1282.8L1159.5 1283.5L1159.8 1284.2L1160.1 1285L1160.3 1285.8L1160.4 1286.5L1160.5 1287.2L1160.5 1288L1160.2 1288.8L1159.8 1289.5L1159.2 1290.2L1158.5 1291L1157.8 1291.8L1157 1292.5L1156.4 1293.2L1155.8 1294L1155.2 1294.8L1154.8 1295.5L1154.5 1296.2L1154.3 1297L1154.1 1297.8L1154 1298.5L1153.9 1299.2L1153.8 1300L1153.6 1299.2L1153.5 1298.5L1153.4 1297.8L1153.2 1297L1153 1296.2L1152.7 1295.5L1152.3 1294.8L1151.7 1294L1151.1 1293.2L1150.5 1292.5L1149.7 1291.8L1149 1291L1148.3 1290.2L1147.7 1289.5L1147.3 1288.8L1147 1288L1147 1287.2L1147.1 1286.5L1147.2 1285.8L1147.4 1285L1147.7 1284.2L1148 1283.5L1148.4 1282.8L1148.8 1282L1149.2 1281.2L1149.6 1280.5L1150 1279.8L1150.5 1279L1150.9 1278.2L1151.3 1277.5L1151.6 1276.8L1151.9 1276L1152.2 1275.2L1152.5 1274.5L1152.7 1273.8L1152.9 1273L1153.1 1272.2L1153.2 1271.5L1153.3 1270.8L1153.4 1270L1153.5 1269.2L1153.6 1268.5L1153.6 1267.8Z" fill="#B8BCE4"/>
<path d="M1153.75,1307.50 Q1154.75,1310.62 1155.75,1313.75 Q1154.75,1316.88 1153.75,1320.00 Q1152.75,1316.88 1151.75,1313.75 Q1152.75,1310.62 1153.75,1307.50 Z" fill="#B8BCE4"/>
<path d="M1182 1151.8L1182.1 1153.3L1182.2 1154.8L1182.2 1156.3L1182.3 1157.8L1182.4 1159.3L1182.5 1160.8L1182.6 1162.3L1182.7 1163.8L1182.8 1165.3L1183 1166.8L1183.1 1168.3L1183.2 1169.8L1183.3 1171.3L1183.5 1172.8L1183.6 1174.3L1183.6 1175.8L1183.7 1177.3L1183.7 1178.8L1183.7 1180.3L1183.7 1181.8L1183.7 1183.3L1183.6 1184.8L1183.5 1186.3L1183.4 1187.8L1183.3 1189.3L1183.2 1190.8L1183.1 1192.3L1182.9 1193.8L1182.8 1195.3L1182.7 1196.8L1182.6 1198.3L1182.6 1199.8L1182.6 1201.3L1182.6 1202.8L1182.6 1204.3L1182.7 1205.8L1182.8 1207.3L1182.9 1208.8L1183.1 1210.3L1183.4 1211.8L1183.7 1213.3L1184.1 1214.8L1184.5 1216.3L1184.9 1217.8L1185.4 1219.3L1185.9 1220.8L1186.5 1222.3L1187 1223.8L1187.6 1225.3L1188 1226.8L1188.5 1228.3L1188.9 1229.8L1189.2 1231.3L1189.4 1232.8L1189.5 1234.3L1189.5 1235.8L1189.4 1237.3L1189.3 1238.8L1189.1 1240.3L1188.9 1241.8L1188.6 1243.3L1188.3 1244.8L1188 1246.3L1187.6 1247.8L1187.2 1249.3L1186.8 1250.8L1186.4 1252.3L1186 1253.8L1185.6 1255.3L1185.2 1256.8L1184.8 1258.3L1184.5 1259.8L1184.2 1261.3L1183.9 1262.8L1183.6 1264.3L1183.4 1265.8L1183.1 1267.3L1183 1268.8L1182.8 1270.3L1182.7 1271.8L1182.5 1273.3L1182.4 1274.8L1182.3 1276.3L1182.3 1277.8L1182.2 1279.3L1182.2 1280.8L1182.1 1282.3L1182 1283.8L1181.9 1282.3L1181.8 1280.8L1181.8 1279.3L1181.7 1277.8L1181.7 1276.3L1181.6 1274.8L1181.5 1273.3L1181.3 1271.8L1181.2 1270.3L1181 1268.8L1180.9 1267.3L1180.6 1265.8L1180.4 1264.3L1180.1 1262.8L1179.8 1261.3L1179.5 1259.8L1179.2 1258.3L1178.8 1256.8L1178.4 1255.3L1178 1253.8L1177.6 1252.3L1177.2 1250.8L1176.8 1249.3L1176.4 1247.8L1176 1246.3L1175.7 1244.8L1175.4 1243.3L1175.1 1241.8L1174.9 1240.3L1174.7 1238.8L1174.6 1237.3L1174.5 1235.8L1174.5 1234.3L1174.6 1232.8L1174.8 1231.3L1175.1 1229.8L1175.5 1228.3L1176 1226.8L1176.4 1225.3L1177 1223.8L1177.5 1222.3L1178.1 1220.8L1178.6 1219.3L1179.1 1217.8L1179.5 1216.3L1179.9 1214.8L1180.3 1213.3L1180.6 1211.8L1180.9 1210.3L1181.1 1208.8L1181.2 1207.3L1181.3 1205.8L1181.4 1204.3L1181.4 1202.8L1181.4 1201.3L1181.4 1199.8L1181.4 1198.3L1181.3 1196.8L1181.2 1195.3L1181.1 1193.8L1180.9 1192.3L1180.8 1190.8L1180.7 1189.3L1180.6 1187.8L1180.5 1186.3L1180.4 1184.8L1180.3 1183.3L1180.3 1181.8L1180.3 1180.3L1180.3 1178.8L1180.3 1177.3L1180.4 1175.8L1180.4 1174.3L1180.5 1172.8L1180.7 1171.3L1180.8 1169.8L1180.9 1168.3L1181 1166.8L1181.2 1165.3L1181.3 1163.8L1181.4 1162.3L1181.5 1160.8L1181.6 1159.3L1181.7 1157.8L1181.8 1156.3L1181.8 1154.8L1181.9 1153.3Z" fill="#F5C6C8"/>
<path d="M1197.5 1206.1L1197.7 1207.3L1197.7 1208.4L1197.8 1209.6L1197.9 1210.7L1198.1 1211.8L1198.3 1213L1198.5 1214.1L1198.8 1215.3L1199.1 1216.4L1199.5 1217.5L1199.9 1218.7L1200.4 1219.8L1200.9 1220.9L1201.4 1222.1L1201.9 1223.2L1202.5 1224.4L1202.9 1225.5L1203.4 1226.6L1203.7 1227.8L1204 1228.9L1204.2 1230.1L1204.3 1231.2L1204.2 1232.3L1204 1233.5L1203.7 1234.6L1203.3 1235.8L1202.9 1236.9L1202.4 1238L1201.8 1239.2L1201.2 1240.3L1200.7 1241.4L1200.2 1242.6L1199.7 1243.7L1199.3 1244.9L1198.9 1246L1198.6 1247.1L1198.3 1248.3L1198.1 1249.4L1198 1250.6L1197.8 1251.7L1197.7 1252.8L1197.7 1254L1197.5 1255.1L1197.3 1254L1197.3 1252.8L1197.2 1251.7L1197 1250.6L1196.9 1249.4L1196.7 1248.3L1196.4 1247.1L1196.1 1246L1195.7 1244.9L1195.3 1243.7L1194.8 1242.6L1194.3 1241.4L1193.8 1240.3L1193.2 1239.2L1192.6 1238L1192.1 1236.9L1191.7 1235.8L1191.3 1234.6L1191 1233.5L1190.8 1232.3L1190.7 1231.2L1190.8 1230.1L1191 1228.9L1191.3 1227.8L1191.6 1226.6L1192.1 1225.5L1192.5 1224.4L1193.1 1223.2L1193.6 1222.1L1194.1 1220.9L1194.6 1219.8L1195.1 1218.7L1195.5 1217.5L1195.9 1216.4L1196.2 1215.3L1196.5 1214.1L1196.7 1213L1196.9 1211.8L1197.1 1210.7L1197.2 1209.6L1197.3 1208.4L1197.3 1207.3Z" fill="#B8BCE4"/>
<path d="M1226.2 1195.3L1226.4 1196.8L1226.4 1198.3L1226.5 1199.8L1226.6 1201.3L1226.7 1202.8L1226.9 1204.3L1227.1 1205.8L1227.3 1207.3L1227.5 1208.8L1227.7 1210.3L1228 1211.8L1228.2 1213.3L1228.4 1214.8L1228.6 1216.3L1228.7 1217.8L1228.7 1219.3L1228.7 1220.8L1228.7 1222.3L1228.6 1223.8L1228.4 1225.3L1228.2 1226.8L1228 1228.3L1227.7 1229.8L1227.5 1231.3L1227.3 1232.8L1227.1 1234.3L1226.9 1235.8L1226.7 1237.3L1226.6 1238.8L1226.5 1240.3L1226.4 1241.8L1226.4 1243.3L1226.4 1256.8L1226.4 1258.3L1226.5 1259.8L1226.6 1261.3L1226.7 1262.8L1226.9 1264.3L1227.1 1265.8L1227.4 1267.3L1227.7 1268.8L1228.1 1270.3L1228.5 1271.8L1228.9 1273.3L1229.5 1274.8L1230 1276.3L1230.6 1277.8L1231.2 1279.3L1231.7 1280.8L1232.3 1282.3L1232.8 1283.8L1233.2 1285.3L1233.5 1286.8L1233.7 1288.3L1233.7 1289.8L1233.7 1291.3L1233.5 1292.8L1233.2 1294.3L1232.7 1295.8L1232.2 1297.3L1231.6 1298.8L1231 1300.3L1230.4 1301.8L1229.8 1303.3L1229.2 1304.8L1228.7 1306.3L1228.2 1307.8L1227.8 1309.3L1227.4 1310.8L1227.2 1312.3L1226.9 1313.8L1226.7 1315.3L1226.6 1316.8L1226.5 1318.3L1226.4 1319.8L1226.2 1321.3L1226.1 1319.8L1226 1318.3L1225.9 1316.8L1225.8 1315.3L1225.6 1313.8L1225.3 1312.3L1225.1 1310.8L1224.7 1309.3L1224.3 1307.8L1223.8 1306.3L1223.3 1304.8L1222.7 1303.3L1222.1 1301.8L1221.5 1300.3L1220.9 1298.8L1220.3 1297.3L1219.8 1295.8L1219.3 1294.3L1219 1292.8L1218.8 1291.3L1218.8 1289.8L1218.8 1288.3L1219 1286.8L1219.3 1285.3L1219.7 1283.8L1220.2 1282.3L1220.8 1280.8L1221.3 1279.3L1221.9 1277.8L1222.5 1276.3L1223 1274.8L1223.6 1273.3L1224 1271.8L1224.4 1270.3L1224.8 1268.8L1225.1 1267.3L1225.4 1265.8L1225.6 1264.3L1225.8 1262.8L1225.9 1261.3L1226 1259.8L1226.1 1258.3L1226.1 1256.8L1226.1 1243.3L1226.1 1241.8L1226 1240.3L1225.9 1238.8L1225.8 1237.3L1225.6 1235.8L1225.4 1234.3L1225.2 1232.8L1225 1231.3L1224.8 1229.8L1224.5 1228.3L1224.3 1226.8L1224.1 1225.3L1223.9 1223.8L1223.8 1222.3L1223.8 1220.8L1223.8 1219.3L1223.8 1217.8L1223.9 1216.3L1224.1 1214.8L1224.3 1213.3L1224.5 1211.8L1224.8 1210.3L1225 1208.8L1225.2 1207.3L1225.4 1205.8L1225.6 1204.3L1225.8 1202.8L1225.9 1201.3L1226 1199.8L1226.1 1198.3L1226.1 1196.8Z" fill="#F5C6C8"/>
<path d="M1241.8 1265.9L1241.9 1266.7L1241.9 1267.6L1242 1268.4L1242 1269.3L1242.1 1270.2L1242.2 1271L1242.3 1271.9L1242.4 1272.7L1242.5 1273.6L1242.7 1274.5L1242.9 1275.3L1243.1 1276.2L1243.3 1277.1L1243.6 1277.9L1243.9 1278.8L1244.2 1279.6L1244.5 1280.5L1244.9 1281.4L1245.2 1282.2L1245.6 1283.1L1246 1283.9L1246.3 1284.8L1246.7 1285.7L1247 1286.5L1247.3 1287.4L1247.6 1288.2L1247.8 1289.1L1248 1290L1248.1 1290.8L1248.2 1291.7L1248.2 1292.6L1248.1 1293.4L1247.6 1294.3L1246.8 1295.1L1246 1296L1245.1 1296.9L1244.2 1297.7L1243.5 1298.6L1242.9 1299.4L1242.5 1300.3L1242.2 1301.2L1242 1302L1241.9 1302.9L1241.8 1303.7L1241.6 1302.9L1241.5 1302L1241.3 1301.2L1241 1300.3L1240.6 1299.4L1240 1298.6L1239.3 1297.7L1238.4 1296.9L1237.5 1296L1236.7 1295.1L1235.9 1294.3L1235.4 1293.4L1235.3 1292.6L1235.3 1291.7L1235.4 1290.8L1235.5 1290L1235.7 1289.1L1235.9 1288.2L1236.2 1287.4L1236.5 1286.5L1236.8 1285.7L1237.2 1284.8L1237.5 1283.9L1237.9 1283.1L1238.3 1282.2L1238.6 1281.4L1239 1280.5L1239.3 1279.6L1239.6 1278.8L1239.9 1277.9L1240.2 1277.1L1240.4 1276.2L1240.6 1275.3L1240.8 1274.5L1241 1273.6L1241.1 1272.7L1241.2 1271.9L1241.3 1271L1241.4 1270.2L1241.5 1269.3L1241.5 1268.4L1241.6 1267.6L1241.6 1266.7Z" fill="#B8BCE4"/>
<path d="M1270 1321.9L1270.1 1322.6L1270.2 1323.3L1270.3 1324L1270.4 1324.7L1270.5 1325.4L1270.6 1326.1L1270.8 1326.8L1270.9 1327.5L1271.2 1328.2L1271.4 1328.9L1271.7 1329.6L1272.1 1330.3L1272.5 1331L1272.9 1331.7L1273.3 1332.4L1273.8 1333.1L1274.2 1333.7L1274.7 1334.4L1275.2 1335.1L1275.6 1335.8L1276 1336.5L1276.3 1337.2L1276.6 1337.9L1276.8 1338.6L1277 1339.3L1277 1340L1276.9 1340.7L1276.6 1341.4L1276.2 1342.1L1275.6 1342.8L1275 1343.5L1274.2 1344.2L1273.5 1344.9L1272.9 1345.6L1272.3 1346.2L1271.7 1346.9L1271.3 1347.6L1270.9 1348.3L1270.7 1349L1270.5 1349.7L1270.3 1350.4L1270.2 1351.1L1270.1 1351.8L1270 1352.5L1269.9 1351.8L1269.8 1351.1L1269.7 1350.4L1269.5 1349.7L1269.3 1349L1269.1 1348.3L1268.7 1347.6L1268.3 1346.9L1267.7 1346.2L1267.1 1345.6L1266.5 1344.9L1265.8 1344.2L1265 1343.5L1264.4 1342.8L1263.8 1342.1L1263.4 1341.4L1263.1 1340.7L1263 1340L1263 1339.3L1263.2 1338.6L1263.4 1337.9L1263.7 1337.2L1264 1336.5L1264.4 1335.8L1264.8 1335.1L1265.3 1334.4L1265.8 1333.7L1266.2 1333.1L1266.7 1332.4L1267.1 1331.7L1267.5 1331L1267.9 1330.3L1268.3 1329.6L1268.6 1328.9L1268.8 1328.2L1269.1 1327.5L1269.2 1326.8L1269.4 1326.1L1269.5 1325.4L1269.6 1324.7L1269.7 1324L1269.8 1323.3L1269.9 1322.6Z" fill="#F5C6C8"/>
<path d="M1285.8 1337.5 Q1288.2 1338.5 1290.8 1339.5 Q1288.2 1340.8 1285.8 1342 Q1283.2 1340.8 1280.8 1339.5 Q1283.2 1338.5 1285.8 1337.5Z" fill="#B8BCE4"/>
<path d="M1313.8 1244L1313.9 1245.5L1313.9 1247L1313.9 1248.5L1314 1250L1314.1 1251.5L1314.2 1253L1314.2 1254.5L1314.4 1256L1314.5 1257.5L1314.6 1259L1314.8 1260.5L1315 1262L1315.3 1263.5L1315.5 1265L1315.8 1266.5L1316.1 1268L1316.4 1269.5L1316.7 1271L1317.1 1272.5L1317.5 1274L1317.9 1275.5L1318.2 1277L1318.6 1278.5L1319 1280L1319.3 1281.5L1319.6 1283L1319.9 1284.5L1320.2 1286L1320.4 1287.5L1320.6 1289L1320.7 1290.5L1320.8 1292L1320.9 1293.5L1321 1295L1321.1 1296.5L1321.1 1298L1321.2 1299.5L1321.2 1301L1321.2 1302.5L1321.2 1304L1321.2 1305.5L1321.2 1307L1321.2 1308.5L1321.2 1310L1321.2 1311.5L1321.2 1313L1321.2 1314.5L1321.2 1316L1321.2 1317.5L1321.2 1319L1321.2 1320.5L1321.2 1322L1321.2 1323.5L1321.2 1325L1321.2 1326.5L1321.2 1328L1321.1 1329.5L1321.1 1331L1321 1332.5L1321 1334L1320.9 1335.5L1320.8 1337L1320.7 1338.5L1320.5 1340L1320.4 1341.5L1320.1 1343L1319.9 1344.5L1319.7 1346L1319.4 1347.5L1319.1 1349L1318.8 1350.5L1318.4 1352L1318.1 1353.5L1317.8 1355L1317.5 1356.5L1317.1 1358L1316.8 1359.5L1316.5 1361L1316.2 1362.5L1316 1364L1315.7 1365.5L1315.5 1367L1315.2 1368.5L1315 1370L1314.9 1371.5L1314.7 1373L1314.6 1374.5L1314.4 1376L1314.3 1377.5L1314.2 1379L1314.1 1380.5L1314.1 1382L1314 1383.5L1314 1385L1313.9 1386.5L1313.9 1388L1313.8 1389.5L1313.6 1388L1313.6 1386.5L1313.5 1385L1313.5 1383.5L1313.4 1382L1313.4 1380.5L1313.3 1379L1313.2 1377.5L1313.1 1376L1312.9 1374.5L1312.8 1373L1312.6 1371.5L1312.5 1370L1312.3 1368.5L1312 1367L1311.8 1365.5L1311.5 1364L1311.3 1362.5L1311 1361L1310.7 1359.5L1310.4 1358L1310 1356.5L1309.7 1355L1309.4 1353.5L1309.1 1352L1308.7 1350.5L1308.4 1349L1308.1 1347.5L1307.8 1346L1307.6 1344.5L1307.4 1343L1307.1 1341.5L1307 1340L1306.8 1338.5L1306.7 1337L1306.6 1335.5L1306.5 1334L1306.5 1332.5L1306.4 1331L1306.4 1329.5L1306.3 1328L1306.3 1326.5L1306.3 1325L1306.3 1323.5L1306.3 1322L1306.3 1320.5L1306.3 1319L1306.3 1317.5L1306.3 1316L1306.3 1314.5L1306.3 1313L1306.3 1311.5L1306.3 1310L1306.3 1308.5L1306.3 1307L1306.3 1305.5L1306.3 1304L1306.3 1302.5L1306.3 1301L1306.3 1299.5L1306.4 1298L1306.4 1296.5L1306.5 1295L1306.6 1293.5L1306.7 1292L1306.8 1290.5L1306.9 1289L1307.1 1287.5L1307.3 1286L1307.6 1284.5L1307.9 1283L1308.2 1281.5L1308.5 1280L1308.9 1278.5L1309.3 1277L1309.6 1275.5L1310 1274L1310.4 1272.5L1310.8 1271L1311.1 1269.5L1311.4 1268L1311.7 1266.5L1312 1265L1312.2 1263.5L1312.5 1262L1312.7 1260.5L1312.9 1259L1313 1257.5L1313.1 1256L1313.3 1254.5L1313.3 1253L1313.4 1251.5L1313.5 1250L1313.6 1248.5L1313.6 1247L1313.6 1245.5Z" fill="#F5C6C8"/>
<path d="M1329.2 1332.9L1329.4 1333.4L1329.5 1333.8L1329.6 1334.3L1329.8 1334.7L1330 1335.2L1330.3 1335.6L1330.6 1336.1L1331 1336.5L1331.4 1336.9L1332 1337.4L1332.5 1337.8L1333.1 1338.3L1333.7 1338.7L1334.3 1339.2L1334.8 1339.6L1335.2 1340.1L1335.6 1340.5L1335.7 1340.9L1335.8 1341.4L1335.7 1341.8L1335.5 1342.3L1335.3 1342.7L1335 1343.2L1334.6 1343.6L1334.2 1344.1L1333.7 1344.5L1333.3 1344.9L1332.8 1345.4L1332.3 1345.8L1331.9 1346.3L1331.5 1346.7L1331.1 1347.2L1330.8 1347.6L1330.5 1348.1L1330.3 1348.5L1330 1348.9L1329.9 1349.4L1329.7 1349.8L1329.6 1350.3L1329.5 1350.7L1329.4 1351.2L1329.4 1351.6L1329.2 1352.1L1329.1 1351.6L1329.1 1351.2L1329 1350.7L1328.9 1350.3L1328.8 1349.8L1328.6 1349.4L1328.5 1348.9L1328.2 1348.5L1328 1348.1L1327.7 1347.6L1327.4 1347.2L1327 1346.7L1326.6 1346.3L1326.2 1345.8L1325.7 1345.4L1325.2 1344.9L1324.8 1344.5L1324.3 1344.1L1323.9 1343.6L1323.5 1343.2L1323.2 1342.7L1323 1342.3L1322.8 1341.8L1322.7 1341.4L1322.8 1340.9L1322.9 1340.5L1323.3 1340.1L1323.7 1339.6L1324.2 1339.2L1324.8 1338.7L1325.4 1338.3L1326 1337.8L1326.5 1337.4L1327.1 1336.9L1327.5 1336.5L1327.9 1336.1L1328.2 1335.6L1328.5 1335.2L1328.7 1334.7L1328.9 1334.3L1329 1333.8L1329.1 1333.4Z" fill="#B8BCE4"/>
<path d="M1329.25,1317.50 Q1330.12,1319.75 1331.00,1322.00 Q1330.12,1324.25 1329.25,1326.50 Q1328.38,1324.25 1327.50,1322.00 Q1328.38,1319.75 1329.25,1317.50 Z" fill="#B8BCE4"/>
<path d="M1357.5 1255.7L1357.6 1257.2L1357.7 1258.7L1357.8 1260.2L1357.8 1261.7L1357.9 1263.2L1358 1264.7L1358.1 1266.2L1358.3 1267.7L1358.4 1269.2L1358.5 1270.7L1358.6 1272.2L1358.8 1273.7L1358.9 1275.2L1358.9 1276.7L1359 1278.2L1359 1279.7L1359 1281.2L1359 1282.7L1358.9 1284.2L1358.8 1285.7L1358.7 1287.2L1358.6 1288.7L1358.4 1290.2L1358.3 1291.7L1358.2 1293.2L1358.1 1294.7L1358 1296.2L1357.9 1297.7L1357.8 1299.2L1357.8 1300.7L1357.8 1302.2L1357.8 1303.7L1357.8 1305.2L1357.9 1306.7L1357.9 1308.2L1358 1309.7L1358.2 1311.2L1358.3 1312.7L1358.5 1314.2L1358.8 1315.7L1359.1 1317.2L1359.4 1318.7L1359.7 1320.2L1360.1 1321.7L1360.6 1323.2L1361 1324.7L1361.5 1326.2L1361.9 1327.7L1362.4 1329.2L1362.8 1330.7L1363.2 1332.2L1363.5 1333.7L1363.8 1335.2L1364 1336.7L1364.2 1338.2L1364.2 1339.7L1364.2 1341.2L1364.1 1342.7L1363.9 1344.2L1363.6 1345.7L1363.3 1347.2L1362.9 1348.7L1362.4 1350.2L1362 1351.7L1361.5 1353.2L1361 1354.7L1360.6 1356.2L1360.1 1357.7L1359.7 1359.2L1359.4 1360.7L1359 1362.2L1358.8 1363.7L1358.5 1365.2L1358.3 1366.7L1358.1 1368.2L1358 1369.7L1357.9 1371.2L1357.8 1372.7L1357.7 1374.2L1357.6 1375.7L1357.5 1377.2L1357.4 1375.7L1357.3 1374.2L1357.2 1372.7L1357.1 1371.2L1357 1369.7L1356.9 1368.2L1356.7 1366.7L1356.5 1365.2L1356.2 1363.7L1356 1362.2L1355.6 1360.7L1355.3 1359.2L1354.9 1357.7L1354.4 1356.2L1354 1354.7L1353.5 1353.2L1353 1351.7L1352.6 1350.2L1352.1 1348.7L1351.7 1347.2L1351.4 1345.7L1351.1 1344.2L1350.9 1342.7L1350.8 1341.2L1350.8 1339.7L1350.8 1338.2L1351 1336.7L1351.2 1335.2L1351.5 1333.7L1351.8 1332.2L1352.2 1330.7L1352.6 1329.2L1353.1 1327.7L1353.5 1326.2L1354 1324.7L1354.4 1323.2L1354.9 1321.7L1355.3 1320.2L1355.6 1318.7L1355.9 1317.2L1356.2 1315.7L1356.5 1314.2L1356.7 1312.7L1356.8 1311.2L1357 1309.7L1357.1 1308.2L1357.1 1306.7L1357.2 1305.2L1357.2 1303.7L1357.2 1302.2L1357.2 1300.7L1357.2 1299.2L1357.1 1297.7L1357 1296.2L1356.9 1294.7L1356.8 1293.2L1356.7 1291.7L1356.6 1290.2L1356.4 1288.7L1356.3 1287.2L1356.2 1285.7L1356.1 1284.2L1356 1282.7L1356 1281.2L1356 1279.7L1356 1278.2L1356.1 1276.7L1356.1 1275.2L1356.2 1273.7L1356.4 1272.2L1356.5 1270.7L1356.6 1269.2L1356.7 1267.7L1356.9 1266.2L1357 1264.7L1357.1 1263.2L1357.2 1261.7L1357.2 1260.2L1357.3 1258.7L1357.4 1257.2Z" fill="#F5C6C8"/>
<path d="M1373.2 1320 Q1376.4 1321.6 1379.5 1323.2 Q1376.4 1324.8 1373.2 1326.2 Q1370.1 1324.8 1367 1323.2 Q1370.1 1321.6 1373.2 1320Z" fill="#B8BCE4"/>
<path d="M1373.25,1315.50 Q1374.00,1316.75 1374.75,1318.00 Q1374.00,1319.25 1373.25,1320.50 Q1372.50,1319.25 1371.75,1318.00 Q1372.50,1316.75 1373.25,1315.50 Z" fill="#B8BCE4"/>
<path d="M1373.25,1348.50 Q1374.00,1349.25 1374.75,1350.00 Q1374.00,1350.75 1373.25,1351.50 Q1372.50,1350.75 1371.75,1350.00 Q1372.50,1349.25 1373.25,1348.50 Z" fill="#B8BCE4"/>
<path d="M1401.8 1275L1401.9 1276.5L1401.9 1278L1402 1279.5L1402.1 1281L1402.2 1282.5L1402.4 1284L1402.5 1285.5L1402.7 1287L1402.9 1288.5L1403 1290L1403.1 1291.5L1403.2 1293L1403.2 1294.5L1403.2 1296L1403.2 1297.5L1403.1 1299L1403 1300.5L1402.8 1302L1402.6 1303.5L1402.5 1305L1402.3 1306.5L1402.2 1308L1402.1 1309.5L1402.1 1311L1402.1 1312.5L1402.1 1314L1402.1 1315.5L1402.2 1317L1402.4 1318.5L1402.6 1320L1402.8 1321.5L1403.2 1323L1403.5 1324.5L1404 1326L1404.5 1327.5L1405 1329L1405.6 1330.5L1406.1 1332L1406.7 1333.5L1407.3 1335L1407.8 1336.5L1408.2 1338L1408.5 1339.5L1408.7 1341L1408.7 1342.5L1408.7 1344L1408.4 1345.5L1408.1 1347L1407.6 1348.5L1407 1350L1406.4 1351.5L1405.8 1353L1405.1 1354.5L1404.5 1356L1404 1357.5L1403.5 1359L1403.1 1360.5L1402.8 1362L1402.5 1363.5L1402.3 1365L1402.1 1366.5L1402 1368L1401.9 1369.5L1401.8 1371L1401.6 1369.5L1401.5 1368L1401.4 1366.5L1401.2 1365L1401 1363.5L1400.7 1362L1400.4 1360.5L1400 1359L1399.5 1357.5L1399 1356L1398.4 1354.5L1397.7 1353L1397.1 1351.5L1396.5 1350L1395.9 1348.5L1395.4 1347L1395.1 1345.5L1394.8 1344L1394.8 1342.5L1394.8 1341L1395 1339.5L1395.3 1338L1395.7 1336.5L1396.2 1335L1396.8 1333.5L1397.4 1332L1397.9 1330.5L1398.5 1329L1399 1327.5L1399.5 1326L1400 1324.5L1400.3 1323L1400.7 1321.5L1400.9 1320L1401.1 1318.5L1401.3 1317L1401.4 1315.5L1401.4 1314L1401.4 1312.5L1401.4 1311L1401.4 1309.5L1401.3 1308L1401.2 1306.5L1401 1305L1400.9 1303.5L1400.7 1302L1400.5 1300.5L1400.4 1299L1400.3 1297.5L1400.3 1296L1400.3 1294.5L1400.3 1293L1400.4 1291.5L1400.5 1290L1400.6 1288.5L1400.8 1287L1401 1285.5L1401.1 1284L1401.3 1282.5L1401.4 1281L1401.5 1279.5L1401.6 1278L1401.6 1276.5Z" fill="#F5C6C8"/>
<path d="M1417.5 1328L1417.7 1328.5L1417.7 1329L1417.8 1329.5L1417.9 1330L1418.1 1330.5L1418.3 1331L1418.5 1331.5L1418.8 1332L1419.1 1332.5L1419.5 1333L1419.9 1333.5L1420.4 1334L1420.9 1334.5L1421.5 1335L1422 1335.5L1422.5 1336L1422.9 1336.5L1423.3 1337L1423.7 1337.5L1423.9 1338L1424 1338.5L1424 1339L1423.9 1339.5L1423.7 1340L1423.3 1340.5L1422.9 1341L1422.5 1341.5L1422 1342L1421.5 1342.5L1420.9 1343L1420.4 1343.5L1419.9 1344L1419.5 1344.5L1419.1 1345L1418.8 1345.5L1418.5 1346L1418.3 1346.5L1418.1 1347L1417.9 1347.5L1417.8 1348L1417.7 1348.5L1417.7 1349L1417.5 1349.5L1417.3 1349L1417.3 1348.5L1417.2 1348L1417.1 1347.5L1416.9 1347L1416.7 1346.5L1416.5 1346L1416.2 1345.5L1415.9 1345L1415.5 1344.5L1415.1 1344L1414.6 1343.5L1414.1 1343L1413.5 1342.5L1413 1342L1412.5 1341.5L1412.1 1341L1411.7 1340.5L1411.3 1340L1411.1 1339.5L1411 1339L1411 1338.5L1411.1 1338L1411.3 1337.5L1411.7 1337L1412.1 1336.5L1412.5 1336L1413 1335.5L1413.5 1335L1414.1 1334.5L1414.6 1334L1415.1 1333.5L1415.5 1333L1415.9 1332.5L1416.2 1332L1416.5 1331.5L1416.7 1331L1416.9 1330.5L1417.1 1330L1417.2 1329.5L1417.3 1329L1417.3 1328.5Z" fill="#B8BCE4"/>
<path d="M1490 1336.2 Q1493.8 1338.4 1497.5 1340.5 Q1493.8 1344 1490 1347.5 Q1486.2 1344 1482.5 1340.5 Q1486.2 1338.4 1490 1336.2Z" fill="#F5C6C8"/>
<path d="M1490.00,1270.75 Q1491.50,1272.25 1493.00,1273.75 Q1491.50,1275.25 1490.00,1276.75 Q1488.50,1275.25 1487.00,1273.75 Q1488.50,1272.25 1490.00,1270.75 Z" fill="#F5C6C8"/>
<line x1="1490" y1="1276.8" x2="1490" y2="1336.2" stroke="#F5C6C8" stroke-width="0.6" opacity="0.35"/>
<path d="M1505.5 1306.2 Q1508.8 1308.2 1512 1310.2 Q1508.8 1312.4 1505.5 1314.5 Q1502.2 1312.4 1499 1310.2 Q1502.2 1308.2 1505.5 1306.2Z" fill="#B8BCE4"/>
<path d="M1505.50,1300.00 Q1506.12,1300.62 1506.75,1301.25 Q1506.12,1301.88 1505.50,1302.50 Q1504.88,1301.88 1504.25,1301.25 Q1504.88,1300.62 1505.50,1300.00 Z" fill="#B8BCE4"/>
<path d="M1505.50,1344.25 Q1506.25,1345.00 1507.00,1345.75 Q1506.25,1346.50 1505.50,1347.25 Q1504.75,1346.50 1504.00,1345.75 Q1504.75,1345.00 1505.50,1344.25 Z" fill="#B8BCE4"/>
<path d="M1533.8 1311.2 Q1537.5 1314.4 1541.2 1317.5 Q1537.5 1321.9 1533.8 1326.2 Q1530 1321.9 1526.2 1317.5 Q1530 1314.4 1533.8 1311.2Z" fill="#F5C6C8"/>
<path d="M1533.75,1263.25 Q1535.00,1265.12 1536.25,1267.00 Q1535.00,1268.88 1533.75,1270.75 Q1532.50,1268.88 1531.25,1267.00 Q1532.50,1265.12 1533.75,1263.25 Z" fill="#F5C6C8"/>
<line x1="1533.8" y1="1270.8" x2="1533.8" y2="1311.2" stroke="#F5C6C8" stroke-width="0.6" opacity="0.35"/>
<path d="M1549.5 1332 Q1551.4 1333.1 1553.2 1334.2 Q1551.4 1335.5 1549.5 1336.8 Q1547.6 1335.5 1545.8 1334.2 Q1547.6 1333.1 1549.5 1332Z" fill="#B8BCE4"/>
<path d="M1549.50,1311.50 Q1549.88,1311.75 1550.25,1312.00 Q1549.88,1312.25 1549.50,1312.50 Q1549.12,1312.25 1548.75,1312.00 Q1549.12,1311.75 1549.50,1311.50 Z" fill="#B8BCE4"/>
<path d="M1621.8 1338.8 Q1625.2 1340.6 1628.8 1342.5 Q1625.2 1344.4 1621.8 1346.2 Q1618.2 1344.4 1614.8 1342.5 Q1618.2 1340.6 1621.8 1338.8Z" fill="#F5C6C8"/>
<path d="M1621.75,1334.25 Q1622.75,1335.25 1623.75,1336.25 Q1622.75,1337.25 1621.75,1338.25 Q1620.75,1337.25 1619.75,1336.25 Q1620.75,1335.25 1621.75,1334.25 Z" fill="#F5C6C8"/>
<path d="M1637.5 1338.8 Q1640.6 1340 1643.8 1341.2 Q1640.6 1342.5 1637.5 1343.8 Q1634.4 1342.5 1631.2 1341.2 Q1634.4 1340 1637.5 1338.8Z" fill="#B8BCE4"/>
<path d="M1681.2 1330L1681.4 1330.6L1681.4 1331.2L1681.5 1331.7L1681.7 1332.3L1681.9 1332.9L1682.2 1333.5L1682.5 1334.1L1682.9 1334.7L1683.4 1335.2L1684 1335.8L1684.7 1336.4L1685.3 1337L1686 1337.6L1686.7 1338.2L1687.2 1338.7L1687.6 1339.3L1687.9 1339.9L1688 1340.5L1688 1341.1L1687.8 1341.7L1687.6 1342.2L1687.4 1342.8L1687 1343.4L1686.7 1344L1686.2 1344.6L1685.8 1345.2L1685.3 1345.7L1684.9 1346.3L1684.4 1346.9L1684 1347.5L1683.6 1348.1L1683.3 1348.7L1682.9 1349.2L1682.6 1349.8L1682.4 1350.4L1682.2 1351L1682 1351.6L1681.8 1352.2L1681.7 1352.7L1681.6 1353.3L1681.5 1353.9L1681.4 1354.5L1681.4 1355.1L1681.2 1355.7L1681.1 1355.1L1681.1 1354.5L1681 1353.9L1680.9 1353.3L1680.8 1352.7L1680.7 1352.2L1680.5 1351.6L1680.3 1351L1680.1 1350.4L1679.9 1349.8L1679.6 1349.2L1679.2 1348.7L1678.9 1348.1L1678.5 1347.5L1678.1 1346.9L1677.6 1346.3L1677.2 1345.7L1676.7 1345.2L1676.3 1344.6L1675.8 1344L1675.5 1343.4L1675.1 1342.8L1674.9 1342.2L1674.7 1341.7L1674.5 1341.1L1674.5 1340.5L1674.6 1339.9L1674.9 1339.3L1675.3 1338.7L1675.8 1338.2L1676.5 1337.6L1677.2 1337L1677.8 1336.4L1678.5 1335.8L1679.1 1335.2L1679.6 1334.7L1680 1334.1L1680.3 1333.5L1680.6 1332.9L1680.8 1332.3L1681 1331.7L1681.1 1331.2L1681.1 1330.6Z" fill="#B8BCE4"/>
<path d="M1710 1336.2 Q1713.5 1338.8 1717 1341.2 Q1713.5 1343.8 1710 1346.2 Q1706.5 1343.8 1703 1341.2 Q1706.5 1338.8 1710 1336.2Z" fill="#F5C6C8"/>
<path d="M1725.5 1337.5 Q1728.8 1341.5 1732 1345.5 Q1728.8 1347.5 1725.5 1349.5 Q1722.2 1347.5 1719 1345.5 Q1722.2 1341.5 1725.5 1337.5Z" fill="#B8BCE4"/>
<path d="M1754.2 1340.5 Q1757.8 1342.8 1761.2 1345 Q1757.8 1347.1 1754.2 1349.2 Q1750.8 1347.1 1747.2 1345 Q1750.8 1342.8 1754.2 1340.5Z" fill="#F5C6C8"/>
<path d="M1769.5 1345 Q1772.6 1345.8 1775.8 1346.5 Q1772.6 1347.2 1769.5 1348 Q1766.4 1347.2 1763.2 1346.5 Q1766.4 1345.8 1769.5 1345Z" fill="#B8BCE4"/>
<path d="M1769.50,1337.50 Q1770.25,1337.75 1771.00,1338.00 Q1770.25,1338.25 1769.50,1338.50 Q1768.75,1338.25 1768.00,1338.00 Q1768.75,1337.75 1769.50,1337.50 Z" fill="#B8BCE4"/>
<line x1="1005.8" y1="1307.5" x2="1005.8" y2="1340" stroke="#151515" stroke-width="1.4"/>
<rect x="1004.75" y="1318.75" width="2.50" height="18.75" fill="#F8888C" stroke="#151515" stroke-width="1.5"/>
<line x1="1004" y1="1332.5" x2="1008" y2="1332.5" stroke="#151515" stroke-width="2.0"/>
<line x1="1021.8" y1="1310" x2="1021.8" y2="1335" stroke="#151515" stroke-width="1.4"/>
<rect x="1020.50" y="1310.00" width="2.50" height="16.25" fill="#6E9DD9" stroke="#151515" stroke-width="1.5"/>
<line x1="1019.8" y1="1317.5" x2="1023.8" y2="1317.5" stroke="#151515" stroke-width="2.0"/>
<line x1="1050" y1="1321.2" x2="1050" y2="1340" stroke="#151515" stroke-width="1.4"/>
<rect x="1048.75" y="1321.25" width="2.50" height="10.50" fill="#F8888C" stroke="#151515" stroke-width="1.5"/>
<line x1="1048" y1="1325" x2="1052" y2="1325" stroke="#151515" stroke-width="2.0"/>
<line x1="1066.2" y1="1306.2" x2="1066.2" y2="1321.2" stroke="#151515" stroke-width="1.4"/>
<rect x="1065.00" y="1309.25" width="2.25" height="12.00" fill="#6E9DD9" stroke="#151515" stroke-width="1.5"/>
<line x1="1064.2" y1="1318.8" x2="1068" y2="1318.8" stroke="#151515" stroke-width="2.0"/>
<line x1="1094.2" y1="1294.5" x2="1094.2" y2="1331.2" stroke="#151515" stroke-width="1.4"/>
<rect x="1093.00" y="1294.50" width="2.75" height="21.25" fill="#F8888C" stroke="#151515" stroke-width="1.5"/>
<line x1="1092.2" y1="1300" x2="1096.5" y2="1300" stroke="#151515" stroke-width="2.0"/>
<line x1="1109.5" y1="1292.5" x2="1109.5" y2="1313" stroke="#151515" stroke-width="1.4"/>
<rect x="1108.25" y="1292.50" width="2.50" height="12.50" fill="#6E9DD9" stroke="#151515" stroke-width="1.5"/>
<line x1="1107.5" y1="1296.2" x2="1111.5" y2="1296.2" stroke="#151515" stroke-width="2.0"/>
<line x1="1138" y1="1307.5" x2="1138" y2="1337.5" stroke="#151515" stroke-width="1.4"/>
<rect x="1136.75" y="1307.50" width="2.50" height="18.00" fill="#F8888C" stroke="#151515" stroke-width="1.5"/>
<line x1="1136" y1="1315" x2="1140" y2="1315" stroke="#151515" stroke-width="2.0"/>
<line x1="1153.8" y1="1273.8" x2="1153.8" y2="1292.5" stroke="#151515" stroke-width="1.4"/>
<rect x="1152.50" y="1282.00" width="2.50" height="10.50" fill="#6E9DD9" stroke="#151515" stroke-width="1.5"/>
<line x1="1151.8" y1="1288" x2="1155.8" y2="1288" stroke="#151515" stroke-width="2.0"/>
<line x1="1182" y1="1232.5" x2="1182" y2="1261.2" stroke="#151515" stroke-width="1.4"/>
<rect x="1180.75" y="1232.50" width="2.75" height="16.25" fill="#F8888C" stroke="#151515" stroke-width="1.5"/>
<line x1="1180" y1="1235" x2="1184.2" y2="1235" stroke="#151515" stroke-width="2.0"/>
<line x1="1197.5" y1="1214.5" x2="1197.5" y2="1246.2" stroke="#151515" stroke-width="1.4"/>
<rect x="1196.25" y="1222.50" width="2.50" height="14.50" fill="#6E9DD9" stroke="#151515" stroke-width="1.5"/>
<line x1="1195.5" y1="1231.2" x2="1199.5" y2="1231.2" stroke="#151515" stroke-width="2.0"/>
<line x1="1226.2" y1="1275.5" x2="1226.2" y2="1300" stroke="#151515" stroke-width="1.4"/>
<rect x="1225.00" y="1275.50" width="2.50" height="17.50" fill="#F8888C" stroke="#151515" stroke-width="1.5"/>
<line x1="1224.2" y1="1286.2" x2="1228.2" y2="1286.2" stroke="#151515" stroke-width="2.0"/>
<line x1="1241.8" y1="1272.5" x2="1241.8" y2="1293.8" stroke="#151515" stroke-width="1.4"/>
<rect x="1240.50" y="1281.25" width="2.50" height="11.25" fill="#6E9DD9" stroke="#151515" stroke-width="1.5"/>
<line x1="1239.8" y1="1291.2" x2="1243.8" y2="1291.2" stroke="#151515" stroke-width="2.0"/>
<line x1="1270" y1="1330" x2="1270" y2="1342.5" stroke="#151515" stroke-width="1.4"/>
<rect x="1268.75" y="1332.50" width="2.50" height="9.50" fill="#F8888C" stroke="#151515" stroke-width="1.5"/>
<line x1="1268" y1="1340.5" x2="1272" y2="1340.5" stroke="#151515" stroke-width="2.0"/>
<line x1="1285.8" y1="1338.5" x2="1285.8" y2="1340.5" stroke="#151515" stroke-width="1.4"/>
<rect x="1284.50" y="1338.50" width="2.50" height="2.00" fill="#2a2a2a" stroke="#151515" stroke-width="1.5"/>
<line x1="1284.5" y1="1339.5" x2="1287" y2="1339.5" stroke="#6E9DD9" stroke-width="0.6" opacity="0.7"/>
<line x1="1313.8" y1="1287.5" x2="1313.8" y2="1346.2" stroke="#151515" stroke-width="1.4"/>
<rect x="1312.50" y="1296.25" width="2.75" height="35.75" fill="#F8888C" stroke="#151515" stroke-width="1.5"/>
<line x1="1311.8" y1="1317.5" x2="1316" y2="1317.5" stroke="#151515" stroke-width="2.0"/>
<line x1="1329.2" y1="1337" x2="1329.2" y2="1346.2" stroke="#151515" stroke-width="1.4"/>
<rect x="1328.00" y="1337.00" width="2.50" height="8.00" fill="#6E9DD9" stroke="#151515" stroke-width="1.5"/>
<line x1="1327.2" y1="1341.2" x2="1331.2" y2="1341.2" stroke="#151515" stroke-width="2.0"/>
<line x1="1357.5" y1="1325" x2="1357.5" y2="1349.5" stroke="#151515" stroke-width="1.4"/>
<rect x="1356.50" y="1326.25" width="2.50" height="20.75" fill="#F8888C" stroke="#151515" stroke-width="1.5"/>
<line x1="1355.8" y1="1337.5" x2="1359.8" y2="1337.5" stroke="#151515" stroke-width="2.0"/>
<line x1="1373.2" y1="1321.2" x2="1373.2" y2="1325" stroke="#151515" stroke-width="1.4"/>
<rect x="1372.00" y="1321.25" width="2.50" height="3.75" fill="#2a2a2a" stroke="#151515" stroke-width="1.5"/>
<line x1="1372" y1="1323.2" x2="1374.5" y2="1323.2" stroke="#6E9DD9" stroke-width="0.6" opacity="0.7"/>
<line x1="1401.8" y1="1301.2" x2="1401.8" y2="1346.2" stroke="#151515" stroke-width="1.4"/>
<rect x="1400.50" y="1327.00" width="2.50" height="19.25" fill="#F8888C" stroke="#151515" stroke-width="1.5"/>
<line x1="1399.8" y1="1344.5" x2="1403.8" y2="1344.5" stroke="#151515" stroke-width="2.0"/>
<line x1="1417.5" y1="1332.5" x2="1417.5" y2="1345" stroke="#151515" stroke-width="1.4"/>
<rect x="1416.25" y="1335.00" width="2.50" height="6.25" fill="#6E9DD9" stroke="#151515" stroke-width="1.5"/>
<line x1="1415.5" y1="1338" x2="1419.5" y2="1338" stroke="#151515" stroke-width="2.0"/>
<line x1="1443.8" y1="1345.5" x2="1447.8" y2="1345.5" stroke="#151515" stroke-width="1.00" stroke-linecap="round"/>
<line x1="1459.9" y1="1345.5" x2="1463.1" y2="1345.5" stroke="#151515" stroke-width="1.75" stroke-linecap="round"/>
<line x1="1490" y1="1338.8" x2="1490" y2="1345" stroke="#151515" stroke-width="1.4"/>
<rect x="1488.75" y="1338.75" width="2.50" height="3.75" fill="#2a2a2a" stroke="#151515" stroke-width="1.5"/>
<line x1="1488.8" y1="1340.5" x2="1491.2" y2="1340.5" stroke="#F8888C" stroke-width="0.6" opacity="0.7"/>
<line x1="1505.5" y1="1308" x2="1505.5" y2="1312.5" stroke="#151515" stroke-width="1.4"/>
<rect x="1504.25" y="1308.00" width="2.50" height="4.50" fill="#2a2a2a" stroke="#151515" stroke-width="1.5"/>
<line x1="1504.3" y1="1310.2" x2="1506.7" y2="1310.2" stroke="#6E9DD9" stroke-width="0.6" opacity="0.7"/>
<line x1="1533.8" y1="1315.5" x2="1533.8" y2="1321.2" stroke="#151515" stroke-width="1.4"/>
<rect x="1532.50" y="1315.50" width="2.50" height="5.75" fill="#F8888C" stroke="#151515" stroke-width="1.5"/>
<line x1="1531.8" y1="1318" x2="1535.8" y2="1318" stroke="#151515" stroke-width="2.0"/>
<line x1="1549.5" y1="1333" x2="1549.5" y2="1335.5" stroke="#151515" stroke-width="1.4"/>
<rect x="1548.25" y="1333.00" width="2.50" height="2.50" fill="#2a2a2a" stroke="#151515" stroke-width="1.5"/>
<line x1="1548.3" y1="1334.2" x2="1550.7" y2="1334.2" stroke="#6E9DD9" stroke-width="0.6" opacity="0.7"/>
<line x1="1576.4" y1="1346.8" x2="1579.6" y2="1346.8" stroke="#151515" stroke-width="1.75" stroke-linecap="round"/>
<line x1="1591.9" y1="1346.8" x2="1594.9" y2="1346.8" stroke="#151515" stroke-width="1.75" stroke-linecap="round"/>
<line x1="1621.8" y1="1340.8" x2="1621.8" y2="1344.5" stroke="#151515" stroke-width="1.4"/>
<rect x="1620.50" y="1340.75" width="2.50" height="3.75" fill="#2a2a2a" stroke="#151515" stroke-width="1.5"/>
<line x1="1620.5" y1="1342.5" x2="1623" y2="1342.5" stroke="#F8888C" stroke-width="0.6" opacity="0.7"/>
<line x1="1637.5" y1="1339.5" x2="1637.5" y2="1342.8" stroke="#151515" stroke-width="1.4"/>
<rect x="1636.25" y="1339.50" width="2.50" height="3.25" fill="#2a2a2a" stroke="#151515" stroke-width="1.5"/>
<line x1="1636.3" y1="1341.2" x2="1638.7" y2="1341.2" stroke="#6E9DD9" stroke-width="0.6" opacity="0.7"/>
<line x1="1664.4" y1="1348" x2="1667.1" y2="1348" stroke="#151515" stroke-width="2.25" stroke-linecap="round"/>
<line x1="1681.2" y1="1337.5" x2="1681.2" y2="1348.8" stroke="#151515" stroke-width="1.4"/>
<rect x="1680.00" y="1337.50" width="2.50" height="7.00" fill="#6E9DD9" stroke="#151515" stroke-width="1.5"/>
<line x1="1679.2" y1="1340.5" x2="1683.2" y2="1340.5" stroke="#151515" stroke-width="2.0"/>
<line x1="1710" y1="1338.8" x2="1710" y2="1343.8" stroke="#151515" stroke-width="1.4"/>
<rect x="1708.75" y="1338.75" width="2.50" height="5.00" fill="#2a2a2a" stroke="#151515" stroke-width="1.5"/>
<line x1="1708.8" y1="1341.2" x2="1711.2" y2="1341.2" stroke="#F8888C" stroke-width="0.6" opacity="0.7"/>
<line x1="1725.5" y1="1338" x2="1725.5" y2="1347" stroke="#151515" stroke-width="1.4"/>
<rect x="1724.25" y="1342.50" width="2.50" height="4.50" fill="#2a2a2a" stroke="#151515" stroke-width="1.5"/>
<line x1="1724.3" y1="1345" x2="1726.7" y2="1345" stroke="#6E9DD9" stroke-width="0.6" opacity="0.7"/>
<line x1="1754.2" y1="1342.8" x2="1754.2" y2="1346.8" stroke="#151515" stroke-width="1.4"/>
<rect x="1753.00" y="1342.75" width="2.50" height="4.00" fill="#2a2a2a" stroke="#151515" stroke-width="1.5"/>
<line x1="1753" y1="1345" x2="1755.5" y2="1345" stroke="#F8888C" stroke-width="0.6" opacity="0.7"/>
<line x1="1767.8" y1="1346.5" x2="1771.2" y2="1346.5" stroke="#151515" stroke-width="1.50" stroke-linecap="round"/>
<text transform="translate(1006.10,1203.30) rotate(-20)" font-size="15.8" fill="#000">p = 0.155</text>
<text transform="translate(1050.13,1203.30) rotate(-20)" font-size="15.8" fill="#000">p = 0.032</text>
<text transform="translate(1094.16,1203.30) rotate(-20)" font-size="15.8" fill="#000">p = 0.409</text>
<text transform="translate(1138.19,1203.30) rotate(-20)" font-size="15.8" fill="#000">p = 0.132</text>
<text transform="translate(1182.22,1203.30) rotate(-20)" font-size="15.8" fill="#000">p = 0.242</text>
<text transform="translate(1226.25,1203.30) rotate(-20)" font-size="15.8" fill="#000">p = 0.500</text>
<text transform="translate(1270.28,1203.30) rotate(-20)" font-size="15.8" fill="#000">p = 0.409</text>
<text transform="translate(1314.31,1203.30) rotate(-20)" font-size="15.8" fill="#000">p = 0.032</text>
<text transform="translate(1358.34,1203.30) rotate(-20)" font-size="15.8" fill="#000">p = 0.147</text>
<text transform="translate(1402.37,1203.30) rotate(-20)" font-size="15.8" fill="#000">p = 0.409</text>
<text transform="translate(1446.40,1203.30) rotate(-20)" font-size="15.8" fill="#000">p = 0.469</text>
<text transform="translate(1490.43,1203.30) rotate(-20)" font-size="15.8" fill="#000">p = 0.155</text>
<text transform="translate(1534.46,1203.30) rotate(-20)" font-size="15.8" fill="#000">p = 0.020</text>
<text transform="translate(1578.49,1203.30) rotate(-20)" font-size="15.8" fill="#000">p = 0.468</text>
<text transform="translate(1622.52,1203.30) rotate(-20)" font-size="15.8" fill="#000">p = 0.197</text>
<text transform="translate(1666.55,1203.30) rotate(-20)" font-size="15.8" fill="#000">p = 0.032</text>
<text transform="translate(1710.58,1203.30) rotate(-20)" font-size="15.8" fill="#000">p = 0.120</text>
<text transform="translate(1754.61,1203.30) rotate(-20)" font-size="15.8" fill="#000">p = 0.155</text>
<line x1="989.25" y1="1621.30" x2="989.25" y2="1932.55" stroke="#000" stroke-width="2.5" stroke-linecap="butt"/>
<line x1="988.00" y1="1931.30" x2="1772.00" y2="1931.30" stroke="#000" stroke-width="2.5" stroke-linecap="butt"/>
<line x1="985.25" y1="1676.25" x2="988.25" y2="1676.25" stroke="#000" stroke-width="1.2" stroke-linecap="butt"/>
<text x="981.60" y="1684.25" font-size="22.4" text-anchor="end" fill="#000">4</text>
<line x1="985.25" y1="1736.25" x2="988.25" y2="1736.25" stroke="#000" stroke-width="1.2" stroke-linecap="butt"/>
<text x="981.60" y="1744.25" font-size="22.4" text-anchor="end" fill="#000">3</text>
<line x1="985.25" y1="1796.50" x2="988.25" y2="1796.50" stroke="#000" stroke-width="1.2" stroke-linecap="butt"/>
<text x="981.60" y="1804.50" font-size="22.4" text-anchor="end" fill="#000">2</text>
<line x1="985.25" y1="1856.75" x2="988.25" y2="1856.75" stroke="#000" stroke-width="1.2" stroke-linecap="butt"/>
<text x="981.60" y="1864.75" font-size="22.4" text-anchor="end" fill="#000">1</text>
<line x1="985.25" y1="1917.00" x2="988.25" y2="1917.00" stroke="#000" stroke-width="1.2" stroke-linecap="butt"/>
<text x="981.60" y="1925.00" font-size="22.4" text-anchor="end" fill="#000">0</text>
<line x1="1027.75" y1="1932.30" x2="1027.75" y2="1935.30" stroke="#000" stroke-width="1.2" stroke-linecap="butt"/>
<text transform="translate(1035.75,1951.50) rotate(-40)" font-size="22.3" text-anchor="end" fill="#000">3−Heptanone, 2−methyl</text>
<rect x="1003.00" y="1758.75" width="22.35" height="157.75" fill="#F5C6C8"/>
<line x1="1014.17" y1="1747.00" x2="1014.17" y2="1763.25" stroke="#1a1a1a" stroke-width="1.1" stroke-linecap="butt"/>
<line x1="1012.77" y1="1747.00" x2="1015.57" y2="1747.00" stroke="#1a1a1a" stroke-width="1.1" stroke-linecap="butt"/>
<line x1="1012.77" y1="1763.25" x2="1015.57" y2="1763.25" stroke="#1a1a1a" stroke-width="1.1" stroke-linecap="butt"/>
<circle cx="1014.17" cy="1758.45" r="1.3" fill="#D8282C"/>
<rect x="1030.75" y="1768.75" width="21.20" height="147.75" fill="#B8BCE4"/>
<line x1="1041.35" y1="1763.00" x2="1041.35" y2="1772.00" stroke="#1a1a1a" stroke-width="1.1" stroke-linecap="butt"/>
<line x1="1039.95" y1="1763.00" x2="1042.75" y2="1763.00" stroke="#1a1a1a" stroke-width="1.1" stroke-linecap="butt"/>
<line x1="1039.95" y1="1772.00" x2="1042.75" y2="1772.00" stroke="#1a1a1a" stroke-width="1.1" stroke-linecap="butt"/>
<circle cx="1041.35" cy="1768.45" r="1.3" fill="#3844B8"/>
<line x1="1091.91" y1="1932.30" x2="1091.91" y2="1935.30" stroke="#000" stroke-width="1.2" stroke-linecap="butt"/>
<text transform="translate(1099.91,1951.50) rotate(-40)" font-size="22.3" text-anchor="end" fill="#000">Benzaldehyde</text>
<rect x="1067.16" y="1728.75" width="22.35" height="187.75" fill="#F5C6C8"/>
<line x1="1078.33" y1="1719.50" x2="1078.33" y2="1731.25" stroke="#1a1a1a" stroke-width="1.1" stroke-linecap="butt"/>
<line x1="1076.93" y1="1719.50" x2="1079.73" y2="1719.50" stroke="#1a1a1a" stroke-width="1.1" stroke-linecap="butt"/>
<line x1="1076.93" y1="1731.25" x2="1079.73" y2="1731.25" stroke="#1a1a1a" stroke-width="1.1" stroke-linecap="butt"/>
<circle cx="1078.33" cy="1728.45" r="1.3" fill="#D8282C"/>
<rect x="1094.91" y="1735.75" width="21.20" height="180.75" fill="#B8BCE4"/>
<line x1="1105.51" y1="1729.25" x2="1105.51" y2="1740.75" stroke="#1a1a1a" stroke-width="1.1" stroke-linecap="butt"/>
<line x1="1104.11" y1="1729.25" x2="1106.91" y2="1729.25" stroke="#1a1a1a" stroke-width="1.1" stroke-linecap="butt"/>
<line x1="1104.11" y1="1740.75" x2="1106.91" y2="1740.75" stroke="#1a1a1a" stroke-width="1.1" stroke-linecap="butt"/>
<circle cx="1105.51" cy="1735.45" r="1.3" fill="#3844B8"/>
<line x1="1156.07" y1="1932.30" x2="1156.07" y2="1935.30" stroke="#000" stroke-width="1.2" stroke-linecap="butt"/>
<text transform="translate(1164.07,1951.50) rotate(-40)" font-size="22.3" text-anchor="end" fill="#000">Butane, 2,2−dimethyl</text>
<rect x="1131.32" y="1790.50" width="22.35" height="126.00" fill="#F5C6C8"/>
<line x1="1142.49" y1="1744.50" x2="1142.49" y2="1830.00" stroke="#1a1a1a" stroke-width="1.1" stroke-linecap="butt"/>
<line x1="1141.09" y1="1744.50" x2="1143.89" y2="1744.50" stroke="#1a1a1a" stroke-width="1.1" stroke-linecap="butt"/>
<line x1="1141.09" y1="1830.00" x2="1143.89" y2="1830.00" stroke="#1a1a1a" stroke-width="1.1" stroke-linecap="butt"/>
<circle cx="1142.49" cy="1790.20" r="1.3" fill="#D8282C"/>
<rect x="1159.07" y="1810.00" width="21.20" height="106.50" fill="#B8BCE4"/>
<line x1="1169.67" y1="1778.25" x2="1169.67" y2="1840.50" stroke="#1a1a1a" stroke-width="1.1" stroke-linecap="butt"/>
<line x1="1168.27" y1="1778.25" x2="1171.07" y2="1778.25" stroke="#1a1a1a" stroke-width="1.1" stroke-linecap="butt"/>
<line x1="1168.27" y1="1840.50" x2="1171.07" y2="1840.50" stroke="#1a1a1a" stroke-width="1.1" stroke-linecap="butt"/>
<circle cx="1169.67" cy="1809.70" r="1.3" fill="#3844B8"/>
<line x1="1220.23" y1="1932.30" x2="1220.23" y2="1935.30" stroke="#000" stroke-width="1.2" stroke-linecap="butt"/>
<text transform="translate(1228.23,1951.50) rotate(-40)" font-size="22.3" text-anchor="end" fill="#000">Cycloheptasiloxane, tetradecamethyl</text>
<rect x="1195.48" y="1843.75" width="22.35" height="72.75" fill="#F5C6C8"/>
<line x1="1206.65" y1="1825.75" x2="1206.65" y2="1855.75" stroke="#1a1a1a" stroke-width="1.1" stroke-linecap="butt"/>
<line x1="1205.25" y1="1825.75" x2="1208.05" y2="1825.75" stroke="#1a1a1a" stroke-width="1.1" stroke-linecap="butt"/>
<line x1="1205.25" y1="1855.75" x2="1208.05" y2="1855.75" stroke="#1a1a1a" stroke-width="1.1" stroke-linecap="butt"/>
<circle cx="1206.65" cy="1843.45" r="1.3" fill="#D8282C"/>
<rect x="1223.23" y="1845.50" width="21.20" height="71.00" fill="#B8BCE4"/>
<line x1="1233.83" y1="1843.00" x2="1233.83" y2="1845.00" stroke="#1a1a1a" stroke-width="1.1" stroke-linecap="butt"/>
<line x1="1232.43" y1="1843.00" x2="1235.23" y2="1843.00" stroke="#1a1a1a" stroke-width="1.1" stroke-linecap="butt"/>
<line x1="1232.43" y1="1845.00" x2="1235.23" y2="1845.00" stroke="#1a1a1a" stroke-width="1.1" stroke-linecap="butt"/>
<circle cx="1233.83" cy="1845.20" r="1.3" fill="#3844B8"/>
<line x1="1284.39" y1="1932.30" x2="1284.39" y2="1935.30" stroke="#000" stroke-width="1.2" stroke-linecap="butt"/>
<text transform="translate(1292.39,1951.50) rotate(-40)" font-size="22.3" text-anchor="end" fill="#000">Cyclohexasiloxane, dodecamethyl</text>
<rect x="1259.64" y="1785.75" width="22.35" height="130.75" fill="#F5C6C8"/>
<line x1="1270.81" y1="1776.25" x2="1270.81" y2="1795.00" stroke="#1a1a1a" stroke-width="1.1" stroke-linecap="butt"/>
<line x1="1269.41" y1="1776.25" x2="1272.21" y2="1776.25" stroke="#1a1a1a" stroke-width="1.1" stroke-linecap="butt"/>
<line x1="1269.41" y1="1795.00" x2="1272.21" y2="1795.00" stroke="#1a1a1a" stroke-width="1.1" stroke-linecap="butt"/>
<circle cx="1270.81" cy="1785.45" r="1.3" fill="#D8282C"/>
<rect x="1287.39" y="1769.25" width="21.20" height="147.25" fill="#B8BCE4"/>
<line x1="1297.99" y1="1758.25" x2="1297.99" y2="1778.00" stroke="#1a1a1a" stroke-width="1.1" stroke-linecap="butt"/>
<line x1="1296.59" y1="1758.25" x2="1299.39" y2="1758.25" stroke="#1a1a1a" stroke-width="1.1" stroke-linecap="butt"/>
<line x1="1296.59" y1="1778.00" x2="1299.39" y2="1778.00" stroke="#1a1a1a" stroke-width="1.1" stroke-linecap="butt"/>
<circle cx="1297.99" cy="1768.95" r="1.3" fill="#3844B8"/>
<line x1="1348.55" y1="1932.30" x2="1348.55" y2="1935.30" stroke="#000" stroke-width="1.2" stroke-linecap="butt"/>
<text transform="translate(1356.55,1951.50) rotate(-40)" font-size="22.3" text-anchor="end" fill="#000">Cyclononasiloxane, octadecamethyl</text>
<rect x="1323.80" y="1809.50" width="22.35" height="107.00" fill="#F5C6C8"/>
<line x1="1334.97" y1="1783.00" x2="1334.97" y2="1835.50" stroke="#1a1a1a" stroke-width="1.1" stroke-linecap="butt"/>
<line x1="1333.57" y1="1783.00" x2="1336.37" y2="1783.00" stroke="#1a1a1a" stroke-width="1.1" stroke-linecap="butt"/>
<line x1="1333.57" y1="1835.50" x2="1336.37" y2="1835.50" stroke="#1a1a1a" stroke-width="1.1" stroke-linecap="butt"/>
<circle cx="1334.97" cy="1809.20" r="1.3" fill="#D8282C"/>
<rect x="1351.55" y="1773.75" width="21.20" height="142.75" fill="#B8BCE4"/>
<line x1="1362.15" y1="1753.25" x2="1362.15" y2="1792.50" stroke="#1a1a1a" stroke-width="1.1" stroke-linecap="butt"/>
<line x1="1360.75" y1="1753.25" x2="1363.55" y2="1753.25" stroke="#1a1a1a" stroke-width="1.1" stroke-linecap="butt"/>
<line x1="1360.75" y1="1792.50" x2="1363.55" y2="1792.50" stroke="#1a1a1a" stroke-width="1.1" stroke-linecap="butt"/>
<circle cx="1362.15" cy="1773.45" r="1.3" fill="#3844B8"/>
<line x1="1412.70" y1="1932.30" x2="1412.70" y2="1935.30" stroke="#000" stroke-width="1.2" stroke-linecap="butt"/>
<text transform="translate(1420.70,1951.50) rotate(-40)" font-size="22.3" text-anchor="end" fill="#000">Cyclooctasiloxane, hexadecamethyl</text>
<rect x="1387.95" y="1764.25" width="22.35" height="152.25" fill="#F5C6C8"/>
<line x1="1399.13" y1="1751.75" x2="1399.13" y2="1776.75" stroke="#1a1a1a" stroke-width="1.1" stroke-linecap="butt"/>
<line x1="1397.73" y1="1751.75" x2="1400.53" y2="1751.75" stroke="#1a1a1a" stroke-width="1.1" stroke-linecap="butt"/>
<line x1="1397.73" y1="1776.75" x2="1400.53" y2="1776.75" stroke="#1a1a1a" stroke-width="1.1" stroke-linecap="butt"/>
<circle cx="1399.13" cy="1763.95" r="1.3" fill="#D8282C"/>
<rect x="1415.70" y="1789.25" width="21.20" height="127.25" fill="#B8BCE4"/>
<line x1="1426.30" y1="1783.75" x2="1426.30" y2="1793.00" stroke="#1a1a1a" stroke-width="1.1" stroke-linecap="butt"/>
<line x1="1424.90" y1="1783.75" x2="1427.70" y2="1783.75" stroke="#1a1a1a" stroke-width="1.1" stroke-linecap="butt"/>
<line x1="1424.90" y1="1793.00" x2="1427.70" y2="1793.00" stroke="#1a1a1a" stroke-width="1.1" stroke-linecap="butt"/>
<circle cx="1426.30" cy="1788.95" r="1.3" fill="#3844B8"/>
<line x1="1476.86" y1="1932.30" x2="1476.86" y2="1935.30" stroke="#000" stroke-width="1.2" stroke-linecap="butt"/>
<text transform="translate(1484.86,1951.50) rotate(-40)" font-size="22.3" text-anchor="end" fill="#000">Cyclopentasiloxane, decamethyl</text>
<rect x="1452.11" y="1723.25" width="22.35" height="193.25" fill="#F5C6C8"/>
<line x1="1463.29" y1="1701.25" x2="1463.29" y2="1745.50" stroke="#1a1a1a" stroke-width="1.1" stroke-linecap="butt"/>
<line x1="1461.89" y1="1701.25" x2="1464.69" y2="1701.25" stroke="#1a1a1a" stroke-width="1.1" stroke-linecap="butt"/>
<line x1="1461.89" y1="1745.50" x2="1464.69" y2="1745.50" stroke="#1a1a1a" stroke-width="1.1" stroke-linecap="butt"/>
<circle cx="1463.29" cy="1722.95" r="1.3" fill="#D8282C"/>
<rect x="1479.86" y="1722.50" width="21.20" height="194.00" fill="#B8BCE4"/>
<line x1="1490.46" y1="1698.00" x2="1490.46" y2="1745.00" stroke="#1a1a1a" stroke-width="1.1" stroke-linecap="butt"/>
<line x1="1489.06" y1="1698.00" x2="1491.86" y2="1698.00" stroke="#1a1a1a" stroke-width="1.1" stroke-linecap="butt"/>
<line x1="1489.06" y1="1745.00" x2="1491.86" y2="1745.00" stroke="#1a1a1a" stroke-width="1.1" stroke-linecap="butt"/>
<circle cx="1490.46" cy="1722.20" r="1.3" fill="#3844B8"/>
<line x1="1541.02" y1="1932.30" x2="1541.02" y2="1935.30" stroke="#000" stroke-width="1.2" stroke-linecap="butt"/>
<text transform="translate(1549.02,1951.50) rotate(-40)" font-size="22.3" text-anchor="end" fill="#000">Heptasiloxane, hexadecamethyl</text>
<rect x="1516.27" y="1809.00" width="22.35" height="107.50" fill="#F5C6C8"/>
<line x1="1527.45" y1="1771.75" x2="1527.45" y2="1846.75" stroke="#1a1a1a" stroke-width="1.1" stroke-linecap="butt"/>
<line x1="1526.05" y1="1771.75" x2="1528.85" y2="1771.75" stroke="#1a1a1a" stroke-width="1.1" stroke-linecap="butt"/>
<line x1="1526.05" y1="1846.75" x2="1528.85" y2="1846.75" stroke="#1a1a1a" stroke-width="1.1" stroke-linecap="butt"/>
<circle cx="1527.45" cy="1808.70" r="1.3" fill="#D8282C"/>
<rect x="1544.02" y="1787.00" width="21.20" height="129.50" fill="#B8BCE4"/>
<line x1="1554.62" y1="1772.50" x2="1554.62" y2="1799.50" stroke="#1a1a1a" stroke-width="1.1" stroke-linecap="butt"/>
<line x1="1553.22" y1="1772.50" x2="1556.02" y2="1772.50" stroke="#1a1a1a" stroke-width="1.1" stroke-linecap="butt"/>
<line x1="1553.22" y1="1799.50" x2="1556.02" y2="1799.50" stroke="#1a1a1a" stroke-width="1.1" stroke-linecap="butt"/>
<circle cx="1554.62" cy="1786.70" r="1.3" fill="#3844B8"/>
<line x1="1605.18" y1="1932.30" x2="1605.18" y2="1935.30" stroke="#000" stroke-width="1.2" stroke-linecap="butt"/>
<text transform="translate(1613.18,1951.50) rotate(-40)" font-size="22.3" text-anchor="end" fill="#000">Hexane, 3,3−dimethyl</text>
<rect x="1580.43" y="1726.75" width="22.35" height="189.75" fill="#F5C6C8"/>
<line x1="1591.61" y1="1698.75" x2="1591.61" y2="1755.00" stroke="#1a1a1a" stroke-width="1.1" stroke-linecap="butt"/>
<line x1="1590.21" y1="1698.75" x2="1593.01" y2="1698.75" stroke="#1a1a1a" stroke-width="1.1" stroke-linecap="butt"/>
<line x1="1590.21" y1="1755.00" x2="1593.01" y2="1755.00" stroke="#1a1a1a" stroke-width="1.1" stroke-linecap="butt"/>
<circle cx="1591.61" cy="1726.45" r="1.3" fill="#D8282C"/>
<rect x="1608.18" y="1805.50" width="21.20" height="111.00" fill="#B8BCE4"/>
<line x1="1618.78" y1="1753.00" x2="1618.78" y2="1856.25" stroke="#1a1a1a" stroke-width="1.1" stroke-linecap="butt"/>
<line x1="1617.38" y1="1753.00" x2="1620.18" y2="1753.00" stroke="#1a1a1a" stroke-width="1.1" stroke-linecap="butt"/>
<line x1="1617.38" y1="1856.25" x2="1620.18" y2="1856.25" stroke="#1a1a1a" stroke-width="1.1" stroke-linecap="butt"/>
<circle cx="1618.78" cy="1805.20" r="1.3" fill="#3844B8"/>
<line x1="1669.34" y1="1932.30" x2="1669.34" y2="1935.30" stroke="#000" stroke-width="1.2" stroke-linecap="butt"/>
<text transform="translate(1677.34,1951.50) rotate(-40)" font-size="22.3" text-anchor="end" fill="#000">Nonanal</text>
<rect x="1644.59" y="1787.00" width="22.35" height="129.50" fill="#F5C6C8"/>
<line x1="1655.77" y1="1784.50" x2="1655.77" y2="1790.50" stroke="#1a1a1a" stroke-width="1.1" stroke-linecap="butt"/>
<line x1="1654.37" y1="1784.50" x2="1657.17" y2="1784.50" stroke="#1a1a1a" stroke-width="1.1" stroke-linecap="butt"/>
<line x1="1654.37" y1="1790.50" x2="1657.17" y2="1790.50" stroke="#1a1a1a" stroke-width="1.1" stroke-linecap="butt"/>
<circle cx="1655.77" cy="1786.70" r="1.3" fill="#D8282C"/>
<rect x="1672.34" y="1793.75" width="21.20" height="122.75" fill="#B8BCE4"/>
<line x1="1682.94" y1="1791.25" x2="1682.94" y2="1795.00" stroke="#1a1a1a" stroke-width="1.1" stroke-linecap="butt"/>
<line x1="1681.54" y1="1791.25" x2="1684.34" y2="1791.25" stroke="#1a1a1a" stroke-width="1.1" stroke-linecap="butt"/>
<line x1="1681.54" y1="1795.00" x2="1684.34" y2="1795.00" stroke="#1a1a1a" stroke-width="1.1" stroke-linecap="butt"/>
<circle cx="1682.94" cy="1793.45" r="1.3" fill="#3844B8"/>
<line x1="1733.50" y1="1932.30" x2="1733.50" y2="1935.30" stroke="#000" stroke-width="1.2" stroke-linecap="butt"/>
<text transform="translate(1741.50,1951.50) rotate(-40)" font-size="22.3" text-anchor="end" fill="#000">Nonane, 1−iodo</text>
<rect x="1708.75" y="1723.75" width="22.35" height="192.75" fill="#F5C6C8"/>
<line x1="1719.93" y1="1692.50" x2="1719.93" y2="1755.75" stroke="#1a1a1a" stroke-width="1.1" stroke-linecap="butt"/>
<line x1="1718.53" y1="1692.50" x2="1721.33" y2="1692.50" stroke="#1a1a1a" stroke-width="1.1" stroke-linecap="butt"/>
<line x1="1718.53" y1="1755.75" x2="1721.33" y2="1755.75" stroke="#1a1a1a" stroke-width="1.1" stroke-linecap="butt"/>
<circle cx="1719.93" cy="1723.45" r="1.3" fill="#D8282C"/>
<rect x="1736.50" y="1758.00" width="21.20" height="158.50" fill="#B8BCE4"/>
<line x1="1747.10" y1="1730.00" x2="1747.10" y2="1784.50" stroke="#1a1a1a" stroke-width="1.1" stroke-linecap="butt"/>
<line x1="1745.70" y1="1730.00" x2="1748.50" y2="1730.00" stroke="#1a1a1a" stroke-width="1.1" stroke-linecap="butt"/>
<line x1="1745.70" y1="1784.50" x2="1748.50" y2="1784.50" stroke="#1a1a1a" stroke-width="1.1" stroke-linecap="butt"/>
<circle cx="1747.10" cy="1757.70" r="1.3" fill="#3844B8"/>
<text x="1404.80" y="2210.80" font-size="22.3" text-anchor="middle" fill="#000">Flavor substances</text>
<text transform="translate(950.50,1778.70) rotate(-90)" font-size="22.4" text-anchor="middle" fill="#000">log<tspan font-size="13.9" dy="4.0">2</tspan><tspan dy="-4.0">(value+1)</tspan></text>
<text transform="translate(1008.10,1652.30) rotate(-20)" font-size="15.8" fill="#000">p = 0.170</text>
<text transform="translate(1072.26,1652.30) rotate(-20)" font-size="15.8" fill="#000">p = 0.230</text>
<text transform="translate(1136.42,1652.30) rotate(-20)" font-size="15.8" fill="#000">p = 0.365</text>
<text transform="translate(1200.58,1652.30) rotate(-20)" font-size="15.8" fill="#000">p = 0.490</text>
<text transform="translate(1264.74,1652.30) rotate(-20)" font-size="15.8" fill="#000">p = 0.110</text>
<text transform="translate(1328.90,1652.30) rotate(-20)" font-size="15.8" fill="#000">p = 0.145</text>
<text transform="translate(1393.06,1652.30) rotate(-20)" font-size="15.8" fill="#000">p = 0.055</text>
<text transform="translate(1457.22,1652.30) rotate(-20)" font-size="15.8" fill="#000">p = 0.480</text>
<text transform="translate(1521.38,1652.30) rotate(-20)" font-size="15.8" fill="#000">p = 0.295</text>
<text transform="translate(1585.54,1652.30) rotate(-20)" font-size="15.8" fill="#000">p = 0.110</text>
<text transform="translate(1649.70,1652.30) rotate(-20)" font-size="15.8" fill="#000">p = 0.650</text>
<text transform="translate(1713.86,1652.30) rotate(-20)" font-size="15.8" fill="#000">p = 0.220</text>
<text x="1787.00" y="1753.80" font-size="22.3" fill="#000">Group</text>
<rect x="1786.30" y="1765.00" width="19.50" height="19.20" fill="#F5C6C8"/>
<circle cx="1796.05" cy="1774.60" r="2" fill="#E03A3E"/>
<text x="1810.30" y="1780.50" font-size="22.3" fill="#000">Sheep</text>
<rect x="1786.30" y="1793.80" width="19.50" height="19.20" fill="#B8BCE4"/>
<circle cx="1796.05" cy="1803.40" r="2" fill="#3F4FC0"/>
<text x="1810.30" y="1808.00" font-size="22.3" fill="#000">Goat</text>
</svg>
</body></html>
